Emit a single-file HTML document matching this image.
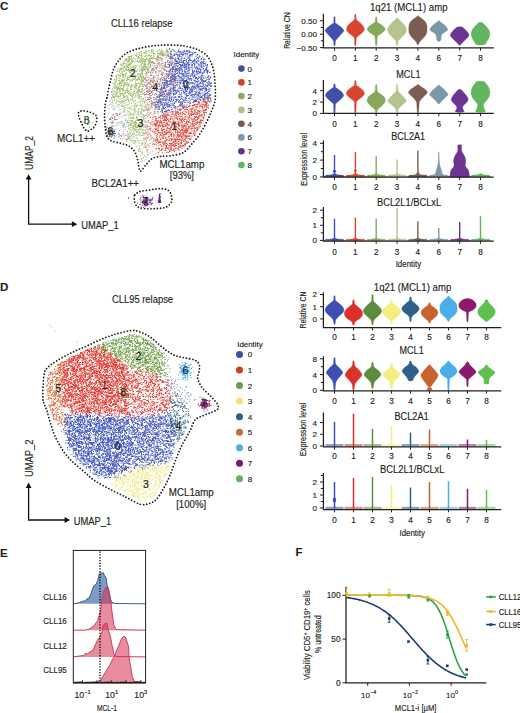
<!DOCTYPE html>
<html><head><meta charset="utf-8"><style>
html,body{margin:0;padding:0;background:#fff;width:520px;height:713px;overflow:hidden}
svg{display:block;font-family:"Liberation Sans",sans-serif}
text{stroke:#231f20;stroke-width:.15px}
</style></head><body>
<svg width="520" height="713" viewBox="0 0 520 713" fill="#231f20">
<defs><filter id="bl" x="-5%" y="-5%" width="110%" height="110%"><feGaussianBlur stdDeviation="0.6"/></filter><style>.m0{marker:url(#m0)}.m1{marker:url(#m1)}.m2{marker:url(#m2)}.m3{marker:url(#m3)}.m4{marker:url(#m4)}.m5{marker:url(#m5)}.m6{marker:url(#m6)}.m7{marker:url(#m7)}.m8{marker:url(#m8)}.m9{marker:url(#m9)}.m10{marker:url(#m10)}.m11{marker:url(#m11)}.m12{marker:url(#m12)}.m13{marker:url(#m13)}.m14{marker:url(#m14)}.m15{marker:url(#m15)}.m16{marker:url(#m16)}.m17{marker:url(#m17)}.m18{marker:url(#m18)}.m19{marker:url(#m19)}.m20{marker:url(#m20)}.m21{marker:url(#m21)}.m22{marker:url(#m22)}.m23{marker:url(#m23)}.m24{marker:url(#m24)}.m25{marker:url(#m25)}.m26{marker:url(#m26)}</style><marker id="m0" markerUnits="userSpaceOnUse" markerWidth="6" markerHeight="6" refX="3" refY="3" overflow="visible"><circle cx="3" cy="3" r="1.2" fill="#55606f"/></marker><marker id="m1" markerUnits="userSpaceOnUse" markerWidth="6" markerHeight="6" refX="3" refY="3" overflow="visible"><circle cx="3" cy="3" r="1.2" fill="#4558c0"/></marker><marker id="m2" markerUnits="userSpaceOnUse" markerWidth="6" markerHeight="6" refX="3" refY="3" overflow="visible"><circle cx="3" cy="3" r="1.2" fill="#a8b2c8"/></marker><marker id="m3" markerUnits="userSpaceOnUse" markerWidth="6" markerHeight="6" refX="3" refY="3" overflow="visible"><circle cx="3" cy="3" r="1.2" fill="#88aa50"/></marker><marker id="m4" markerUnits="userSpaceOnUse" markerWidth="6" markerHeight="6" refX="3" refY="3" overflow="visible"><circle cx="3" cy="3" r="1.2" fill="#8a5050"/></marker><marker id="m5" markerUnits="userSpaceOnUse" markerWidth="6" markerHeight="6" refX="3" refY="3" overflow="visible"><circle cx="3" cy="3" r="1.2" fill="#a8c07a"/></marker><marker id="m6" markerUnits="userSpaceOnUse" markerWidth="6" markerHeight="6" refX="3" refY="3" overflow="visible"><circle cx="3" cy="3" r="1.2" fill="#c88090"/></marker><marker id="m7" markerUnits="userSpaceOnUse" markerWidth="6" markerHeight="6" refX="3" refY="3" overflow="visible"><circle cx="3" cy="3" r="1.2" fill="#98b960"/></marker><marker id="m8" markerUnits="userSpaceOnUse" markerWidth="6" markerHeight="6" refX="3" refY="3" overflow="visible"><circle cx="3" cy="3" r="1.2" fill="#a87676"/></marker><marker id="m9" markerUnits="userSpaceOnUse" markerWidth="6" markerHeight="6" refX="3" refY="3" overflow="visible"><circle cx="3" cy="3" r="1.2" fill="#d88080"/></marker><marker id="m10" markerUnits="userSpaceOnUse" markerWidth="6" markerHeight="6" refX="3" refY="3" overflow="visible"><circle cx="3" cy="3" r="1.2" fill="#da4a3c"/></marker><marker id="m11" markerUnits="userSpaceOnUse" markerWidth="6" markerHeight="6" refX="3" refY="3" overflow="visible"><circle cx="3" cy="3" r="1.2" fill="#c0a0a0"/></marker><marker id="m12" markerUnits="userSpaceOnUse" markerWidth="6" markerHeight="6" refX="3" refY="3" overflow="visible"><circle cx="3" cy="3" r="1.2" fill="#3f8a3f"/></marker><marker id="m13" markerUnits="userSpaceOnUse" markerWidth="6" markerHeight="6" refX="3" refY="3" overflow="visible"><circle cx="3" cy="3" r="1.2" fill="#5a2878"/></marker><marker id="m14" markerUnits="userSpaceOnUse" markerWidth="6" markerHeight="6" refX="3" refY="3" overflow="visible"><circle cx="3" cy="3" r="1.2" fill="#c8b0d8"/></marker><marker id="m15" markerUnits="userSpaceOnUse" markerWidth="6" markerHeight="6" refX="3" refY="3" overflow="visible"><circle cx="3" cy="3" r="1.3" fill="#5a2878"/></marker><marker id="m16" markerUnits="userSpaceOnUse" markerWidth="6" markerHeight="6" refX="3" refY="3" overflow="visible"><circle cx="3" cy="3" r="1.2" fill="#e0342a"/></marker><marker id="m17" markerUnits="userSpaceOnUse" markerWidth="6" markerHeight="6" refX="3" refY="3" overflow="visible"><circle cx="3" cy="3" r="1.2" fill="#7f90c0"/></marker><marker id="m18" markerUnits="userSpaceOnUse" markerWidth="6" markerHeight="6" refX="3" refY="3" overflow="visible"><circle cx="3" cy="3" r="1.2" fill="#3b50b8"/></marker><marker id="m19" markerUnits="userSpaceOnUse" markerWidth="6" markerHeight="6" refX="3" refY="3" overflow="visible"><circle cx="3" cy="3" r="1.2" fill="#6c9c46"/></marker><marker id="m20" markerUnits="userSpaceOnUse" markerWidth="6" markerHeight="6" refX="3" refY="3" overflow="visible"><circle cx="3" cy="3" r="1.2" fill="#efe888"/></marker><marker id="m21" markerUnits="userSpaceOnUse" markerWidth="6" markerHeight="6" refX="3" refY="3" overflow="visible"><circle cx="3" cy="3" r="1.2" fill="#d06a3a"/></marker><marker id="m22" markerUnits="userSpaceOnUse" markerWidth="6" markerHeight="6" refX="3" refY="3" overflow="visible"><circle cx="3" cy="3" r="1.2" fill="#2f6288"/></marker><marker id="m23" markerUnits="userSpaceOnUse" markerWidth="6" markerHeight="6" refX="3" refY="3" overflow="visible"><circle cx="3" cy="3" r="1.2" fill="#5cbf50"/></marker><marker id="m24" markerUnits="userSpaceOnUse" markerWidth="6" markerHeight="6" refX="3" refY="3" overflow="visible"><circle cx="3" cy="3" r="1.2" fill="#3aa6e6"/></marker><marker id="m25" markerUnits="userSpaceOnUse" markerWidth="6" markerHeight="6" refX="3" refY="3" overflow="visible"><circle cx="3" cy="3" r="1.2" fill="#7a1464"/></marker><marker id="m26" markerUnits="userSpaceOnUse" markerWidth="6" markerHeight="6" refX="3" refY="3" overflow="visible"><circle cx="3" cy="3" r="1.2" fill="#d0907a"/></marker></defs>
<g transform="scale(.5)" stroke="none" fill="none" filter="url(#bl)">
<path class="m0" d="M213 258l4-1 3 0 6 7-4-1-1-1-4-2 1 7 0 1 2-2 2 3 1-1 4-2-12 5"/>
<path class="m1" d="M347 100l10 1 0 2 3 0 19 0 0 0 3 1 13 5 0 0-14 0-10-2-2 0-8 1-11 0-6 1-3 4 7-2 1 0 7 3 1-4 2 1 17 1 4 0 4-2 23 9-4 0-10-2-4 2-9-4-3 1-8 1-6-1-6-1-6 1-12 0 3 6 2 2 1-4 7 1 0 2 5 1 1 0 9 0 1-3 5 2 4-1 1 0 11-1 1 0 13 2 6 4-7-1-1-1-14 2-8 2-1 0-2-1-2-3-1 3-4 1-1-2-3 2-13-3-3 2-3-3-3 4 12 4 1-1 5-2 0 1 1-1 0 2 4-2 0 4 3-3 0 3 14-3 2 0 4-1 6 4 2-4 17 4-7 3-8 1-4 0-11 1-5-1-2-2-4 3-9 0-4-1-1-3-3 2-15 1-5-3 9 8 17-2 8 2 7-3 1 4 15-4 1 4 4-1 14-3 7 5-15 0-3 0-1 2-1-2-14 2-3 1-8-2-3 0-8 2-15 0-14-1-2 5 3-1 2 2 0 0 20-1 0 1 1 1 6-1 7-1 5-2 4 1 9 0 23 3 7 4-16-2 0 0-2 3-17-1-2-1-5 1-1-2-2 3-8-1-2 0-15 1-3-2-2-1-10-1 0 6 0 3 6-3 4 3 4-1 7-2 2-1 8 1 2 1 4 1 12-2 11 1 4 0 8 1 3 0 9-1 0 7-1-1-11-3-1 3-16-1-4-2-1 1-2 1-4-2-5 1-4 2-9-3-9 2-11 1-1-1-2 2-9 5 1 0 3-3 3-1 0 1 19 0 19 0 23 3 5-2 0 1 6-2 5 0 9-1-10 7-2 1-11-2-10-1-4 2-2 2-8-1-1-2-2 1-10-1-14-1-1 1-2 2-3 0-11-2-15 6 13 0 4-2 12 2 3 1 4-3 1 1 15 1 1 2 2-4 1 2 4 0 4 1 6-2 0 2 6 1 2 0 6 0 10-1 4-3 1 0 3 3 3-3-5 6-21 2-2 0-4 1-3 0-8-3-1 1-7-2-6 1-1 3-9-4-6 2-8 2-2-2-8 1-3-3-7 9 9-2 1 1 7-2 2-1 4 4 6 0 25-2 4-1 6 0 7 3 5-4 3 4 6-1 4-3 1 4 7-3 3-1 2 1-2 4-3 1-1 2 0-2-5 3-4-2-3-2-2 4-2-1-5-1-8 1-15 0 0-3-8 2-11-2-9 0-10 4-8 0-5-1-16 5 17 1 1-1 17-2 19 3 15-3 24 3-19 1-2 0-12 3 0-1-3 2-22 0-1-4-2 3-1 0-6 1-1-1-3 1-9-3-4-1-4 0 2 7 2 2 6 0 1 0 7-3 0 3 8-2 4 1 9-1 2 0 0 2 2-1 11-2-12 6-22 1 0-2-2 0-3 2-4 1-1-2-1 2 11 8-2 6-1-1"/>
<path class="m2" d="M229 200l-3 6-3 8 5 3 19 7-6 4-25 4 15 1 19-2-27 7-1 0-2-2 22 7 16 2-9 2-7 0-2-1-13 7 3-2 6-1 14 4-27 4 25 5-10 3-15 1 3 5 7-1 5 2 15 7"/>
<path class="m3" d="M268 235l5 1-8 7-3 4 0 0 4-1 4-1 5 9"/>
<path class="m4" d="M232 227l7 2-4 2-1 8 0 7"/>
<path class="m5" d="M230 189l53 4-5 0-26 5 3 0 6 0 34 1-6 4-1-3-4 2-17 2-2-2-1-2-6 1 0 0-8 1 9 4 11 2 11-1 16 7-12-4-12 3-17 3 4 0 4 3 6-1 21-2-4 6-5 2-8-1-16 0-9 1 7 4 10 1 2-3 0 2 28-3 0 1-7 7-1-3-4 3-38 1 29 2 13 1 0 0 6 7-4-3-25 0-12 4 40 6-6-1-2 3-4 1-3-3-2 0-6 0-4 1-3-2-4 1-1-1-1 4-11-3 21 4 2 2 10-2 19 2-12 5-10-2-5 0-7 9 4-1 10-2 2 0 8 5-3 0-11 3-2-3 0 5 0 7-6-3-12 2"/>
<path class="m0" d="M224 258l5 4-5 1-2 1-1 0-6-2 1 4 5 1 6 1 1-1 1 4-9 2 0-2-1 0"/>
<path class="m4" d="M221 236l4 1 1 5-2 3 0 0"/>
<path class="m3" d="M277 229l-2 5-17 11 9 0 2 3 1 2 4 5 5 3"/>
<path class="m6" d="M260 268l8 0-12 5-6-2 14 6"/>
<path class="m7" d="M319 99l15-1-1 6 0 0-8-2-19 1-7-2-1 0-2 2-13 0-10 3 6 0 4 1 9-1 0 2 16-1 19 1 4-1 3 2 2-3 4 0-13 5-1 0-23 3 0-3-5 0-15 0-9 0-11 2-3 0-1 6 4-3 2 2 14-3 2 3 3-3 23 0 12 1 14-1-26 9-7-4-3 0-8 3-6-1 0-1-3 2 0-3-33 6 5 1 5 1 1 0 3-2 0 3 1-2 3-2 24 2 0 2 1-4 7 4 11 3-3-2-14 2-2 0-13-1-19 3-6-2-2 2 0 0-7-4-2 9 2 0 1-3 3 1 11 2 4-3 20 2 4-2 2-1 2 4 6 3-11 2-17-2-1 1 0-2-1-1-22 3-4 1 6 2 5 3 2-2 24 0 8 0 3 5-6-1 0-1-13 3-1-2-3 1 0 0-3-1 0 0-11 1-3 1 0-3-9 0-7 3 2 2 5 2 2 0 5 1 4 1 11-4 16 1 2-1 0 3 6-2 2 3 1 4-3-1-20-1-19 0-6 0-1 0-5-1-6 6 2 2 19 1 1-3 1-1 29 3 1-2 3-1 1 4-5 5-5-3-3 1-2 2-8-1-5-2-14-1-8 1-4-1 5 9 1-4 2 1 1 1 0 0 23-1 0 2 10-1 2 0 4 2 6-2-1 7-5-3-2 3-6-2-1 1-11-1-3 2-16-3-9 3-2-1 0-3-3 3 2 3 14 1 1-1 7 2 3-3 5 2 3 0 14 1-7 2-3 3-1-2-15 2-6-1-4 1-1 1-1 0-1-2-9 2 0-1 21 2 9 3-3 2-2 1-4 1-22 0"/>
<path class="m8" d="M315 113l1-1 20 1 5 3 0-1-23 0-4 3-2 1-3-2-7-1 2 7 12-2 8 1 12-1 16-1 0 3-22 2-15 1-13 6 7-1 11 1 6-1 3 2 3 1 2-1 11 0 3-3 11 5-18 4-15-1 0-2-4-1-14 3-7 6 3-2 4-2 10 2 2 0 2 0 10-1 1 2 12-3 10 5-6 2-9-1-22 0-14 0-11 0 23 8 25-1 4-2 9 7-11-3-2 4 0-3-8 2-3 1-4-4-5 3-17 0-2-1-12 2 0-4-3 1 14 7 6 0 44 1-34 2-9 1-11-1-2 3-4 3 8 0 5 0 4 2 6-1 10-1 23 2 1-2-4 4-44 0-5 1-1-2-8 7 12 0 1 1 4 1 19-4 2 2 3 2 1 0 5-1 4-1 9 4-13 2-23 0-24-1 0-1 17 5 15 0 3 0 30 2-17 6-10-2-4 2-3 0-10 0-4 2 10 1 0 1 8-2 3 8-18-4-12 0 24 5 3 1-10 4"/>
<path class="m5" d="M260 190l6 4 3 0 9-1 4 4-4 0-12 2-20 3 33 2 1-4 2 3 8-2-37 8-10 4 5-2 2 0 6 3 16-4 10 1 0 2 14 6-19 0-5 0-4-4-10 1-7-1-2 5 0 3 22 0 20-2-4 8-3 0-7-4-11 3-4 1 0-1 11 5 14-1 4-1 1 3-4 3-1-2-5 0-3 4-24 3 9 1 0 1 18-4 0 2-2 7-2-2-23-2-1 3-1 5 14 0 3 0 6-2 1-1 6 1 4 1 10 1-16 6-8 0-1-4-10 3-5-1 2 5 8 0 15-2 6 0 3 4-12 1-10 1-4 1-4 0-3-1 3 6 22-1 7 4-35 5 38 2"/>
<path class="m8" d="M324 106l18 1 0 5-17-2-20 13 1 1 12-4 4 0 29 1 5 3-2 1-4 2-19 0-5-1-2 1-6-1-1 1-11 0 16 3 9 2 15 2 6-2-23 4-1 3-15-2 0-2-1 3 0-2-6 2-18 0 0 0-3 5 19-3 9 4 11 0 7-4 4 2 3 0-8 5-24-2-5 0-6 9 18-4 17 0 16 1 2 2 5 0-2 3-3 1-20-2-6 2-5 0-4 1-5-2-8 0-4-1 17 7 2 2 15-4 25 5-36 4-18 0-1-2-5 1 7 6 3-2 3 2 6-4 0 1 0 1 9-1 25 0-7 7-20 1-21-3-15 4 24 1 5 3 10 0 3 0 9-4 5 2 0 0-2 3-1 1-2 1-2-1-12 0-1 3-1-4-18 0-1 2-2 2-4-4-2 3-4 2 11 1 7 3 11-4 12 2 10 3-6 2-20-2-1 3-1 0-13-3-2 4-2 0-9 4 24 1 19 2-16 3-7-1-2 1-13 3 22 0 3 6"/>
<path class="m6" d="M255 263l1 5-13 3 16 6-30 0"/>
<path class="m4" d="M227 229l6-1-3 11 0 0-11 0"/>
<path class="m7" d="M333 98l15 1-7 3-6 1-31-1-11 1 0-1-3 4 13 0 17 2 0 0 6-2 0 0 2 2 7 2-13 1-25 0-4-1-1 1-3 2-9-3-1 1-3 2-3 0 0-1-16 1-4 4 5-1 1-1 1 4 11 0 5-2 7 0 2 1 4 1 4-3 1 2 29-1-23 4-2 2 0-2-7-1-5 3-2 0 0-3-11 3-8-1-11 0-13 6 8-1 5 2 1-3 4 3 24 0 2-3 5 3 0 0 6-2 13-1-9 4-2 2-26 0-1-1-2 1-3-2-3 4-8-1-1-2-9 1-10 7 25-3 8 1 8 1 8-2 4-1 1 4 4-2 1-1-4 8-2-4-22 0-7 4 0-1-4-2-6 2-6 6 2-3 1 2 7-2 6-1 20 2 3 1 2 0 1 1 8-3-13 8-12-3-8-1-1 4-3-2-5 2-4 0-2-4-4 2-1-1-4 1-3-2 0 7 16 1 5 0 2-3 0 2 12 0 9-2 10 7-2-1-20 0-3 3-2-1-12 1-5-2-11 1-2-2 9 4 0 2 9-1 0 3 1 0 8 0 1 0 12-3 2 2 14 2-1 0-5 2-8-1-6-1-17 3-2 1-4-2-10 2-1 0 2 1 0 2 0 1 1-1 18 1 8-3 8 4 2-3 7 2 5 1-2 4-2-1-2 2 0-3-13 3-9 0-1-3-2 1-4-2-13 1-1 5 3-1 9 2 5 0 15-2 2 1 2 1 7-2 6 8-4-1-26 0-3 1-9-2-4 1-2 0-4 0 0-1-1 2-3 0-2-2 4 4 13 3 6-3 1 4 6-4 2 3-12 3-7 2-9-2-1 10"/>
<path class="m0" d="M212 258l2-3 7 1 4 5-6 3-2 2 3 1 0 2 8-3 0 0-3 5-5 1-6-2 2 5"/>
<path class="m1" d="M339 97l34 6-5-1-8 1-10 0-2-1 4 7 2-3 13 2 8 0 3-3 2 4 4 0 21 5-5-1-40 0-14-1-3 2-1 1 4 2 9 0 2-1 12 0 4 3 6-1 10 0 8-1 11 1 4 6-6-1-9-1-4 2-1-1-4 1-3 0-4-3-10 0-4 2-1-2-5-1-25 9 3 0 5-2 6 0 9 2 7-4 4 4 6-2 7 1 5-1 16 2 2-4 9 6-1 0-10 1-4 1-2-2-19 3-8-2-3 1-4-2-2 2-10-3-4 4-1-1-3 3 1-1 0 4 2-3 9 2 12-3 4 4 2-2 3-2 3 1 4-1 2 1 4-1 5 1 3 1 6-2 3 2 4 2 5 3-2-2-5 1 0 0-8 1-4-2-12 3-6-3-1 1-19 0-6 1-4-2-8 1 0-1-2 0 10 9 2 0 15-2 1 2 2-1 1-3 5 2 1 0 2-1 7-1 10 3 10-1 13 4-1 2 0 0-9-1-19 1 0-3-3 0-5 3-12 1-2 0 0-2-8 2-2-2-7 2-4-2-2-1-1 3-1-1-5 4 7-1 0 0 0 3 2-4 0 4 1 0 1 0 2-3 0 3 16-1 12-1 4 0 0 2 9-4 0 0 2 0 2 4 10 0 9 0 4 0 3-4-2 9-2-1-10-2-3 0-39-1-3 3-2-3-9 1-8 1 0-1-4 1-5 0-4-1 0 0-6 7 5-2 5 0 8 1 12-2 7 0 0 2 9-1 3-1 4 1 2 3 1-3 2-1 2 1 27 3 5-3 3 0 2 1 1-1 1 1-4 4-11 3-3-1-8 0-3 0-2 1-3 0-1-4-2 3 0-2-2 2-13-1-2 1-3 0-6 1-1-1-13-2-8 2-4-1-5 0-9 7 2-2 20-1 8 0 19-1 2 2 5 0 10 1 2-3 1 3 18-2 0 1 1-1 5 1 5-1 2 1-15 4-4 0-2 3-5 0-9-3-2 2-3-2-8 2-1 0-4 1-1-2-4-1-4 1-1 0-2 2-6-4-7 2-3-1-7-1-2 3-6 6 5 0 9-3 2-1 1 2 7-1 5 1 15-1 13 0 3 2 9-3 13 1 4 2 5-3 4 4-3 4-7-2-6 3 0-1-6-2-14-1-2 0-6 1 0 0-2-1-15 4-7 0-12-4-5 3-11-2-3-1-2 3 22 4 3 0 15-2 10 0 10 2 13 2 5 0 6-3-1 5-9 1 0 0 0-2-1 1-11-1-6 2-6 2 0-3-4 3 0 0-7 0-18-3-6 1-2-1-1-1-13 4 0-2-7 2 0 2 3 3 7-4 14 2 11 1 16-2 20 0 15 3-38 4-2-1-16 2-1-4-3 0-1 4-17-1-7-2 16 6 4-2 12 0 15 4 8-3-15 4-12 1-1-1-2 4-1-3-10 2-9 3"/>
<path class="m7" d="M291 102l13-1 24 7-3 1-4-2-1 1-1 0-9 0-1-2-9-1-2 3-10-3-29 8 3 0 2-2 18-1 1 2 1-2 0 2 16-1 8 2 8-2 1 3-5 3-6 0-6 1-1-1-7 2-4 0-1-3-8 0-2-1-3 2-5 0-2-2-9 3-1 0-9 5 11-1 7-2 1 2 2 2 3-1 3-3 1 3 3 0 3-2 5 2 1-2 4 2 8-2 1 2 1 1 0 2-5-1-7 4-27-3-3 0-1 3-11-3 0 8 1 0 8-3 0 3 3-4 6 4 1-1 12 1 3-1 6 0 1 0 4 0 8-2-5 7-2-1-4 2-22-1-1 0-11-3-3 4-5-3-1 2-4 0 0 0-2-1-2 2-2-3-2 6 1 1 2 0 5 1 4-2 2 1 3-2 2-1 3 0 16 2 1 1 1-3 7 0 3 1 10 5-1-1-31 3 0 0-15 0-7-1-5 1-3 3 5 0 2 1 5-1 7 3 3 0 13 0 3-2 13 1 8 0-5 2-3 1-5 0-1 3-8-3-2 3-9-1-14-3-13 4 5 2 7 2 2 0 3-3 31 2 3-2 1 2 5 3-2 3-4 0-1 0-6-2-21 0-1-1-1 4-12-2 0-2-2 3-13-1 2 4 15 0 4 3 2-2 6 2 15-2 2 2 6 0 1-1 10 6-11 0-15 0-16 0-3 0-1-2-3-1-1 2-2-2-1 0-1 0-5 1 10 3 5 2 11 0 4 2 14-4 1 3 9 6-3-1-13 0-1 1-18-2-4 2 0-3-5 3-6-2-1 2-2 2 0 0 17-1 8 4 10-4-16 5-9 8 29 4-26-2"/>
<path class="m3" d="M264 236l12 3-4 8-1 2-3-3-1 11 3 2 12-1"/>
<path class="m2" d="M220 202l4 7-4 0-2 2 27 2-19 4 9 10 8-2 5 6-6 2-5 1-13 10 28-4-4 9-2-4-23 1-1 4 25 0 4 9-1-4-28 4 2 2 23-1 15 4-15 4-11 0 15 3 2-1-2 8"/>
<path class="m8" d="M324 109l17 0 1 2-6 1-6-1-4 1-10 3 26 4 3-3 0 1 14 2-7 3-66 4 13-1 11 2 8 1 1-3 12 0 1 0 9 2 3-1 4 0 8 0 0 5-26-1-42 2 8 6 0 1 8-1 14-2 6 1 14-2 14 2-2 6-4 0-1 0-3 1-3 0-6-1-4-2-18 3 0 0 0 0-13-1-2-2-5 7 6-3 25 4 5-3 7 2 17-3-15 7-11-1-8-1-16 1-15 1 5 5 16 2 11 0 3-1 21 1 9 0-3 3-1 1-3-1-6 0-3 1 0-2-15 3-5-2-12 0-3 0-8 0 0-2 0 5 25 3 27-3 6 0-7 5-8 1-4-1-28 3 0-3-10 3-6 0 10 6 13-1 3-3 1 0 8 2 5-2-2 5-7 3-13-1-4 2-8-1-4 5 10-1 22 0 22 1-2 2-13 4-3-1-16-3-13 5 15 3 32-2-9 5-6-1-9 2 0-2-1 1-18 3 24 5-8 4-15 4 15 6"/>
<path class="m8" d="M325 109l30 3-6-2-17 0-17 9 6-4 1 2 2 2 38 5-11-4-16 4-34 5 2-4 6 1 15 1 6 2 1-4 0 3 7-3 6 1-4 4-25 0-2 0-3 4-9 0 5 3 2-1 25-1 16 0 1 4 6 0-36 2-4 0-14 7 21-2 1 2 26 0 2 6-1-2-2 0-11-1-2 0-7 3-22-3-4 0-10-1 14 5 16 1 6 1 4 0 17 5-24-1-18 3-7-4-5 1-2-1-1 1-9 4 15 1 1-1 20 2 11 2 12-1 4-2-1 4-17 0-1 0-1 1-7 0-1 2-3-1-9-2-4 4 0-1-10-3-2 0-13 5 14 2 2 0 11 0 11 2 4-3 26-1 1 6-21 3-7 0-18-4-5 1-2 1-1 1-11 0 9 6 5 0 15-2 9-2 5 0 1 3 3-1 7 2-5 2-31 1-3 6 6-2 10 2 6-3 1 3 8-1 4-2-9 14-1-1-3-2-2-1-11 2-8 2 5 1 6 8 0 8"/>
<path class="m9" d="M297 241l7 1-8 3-6 5 4 2 1 1 4 0 7 6-14 0-3 8 13 4-6 3-5 3 17 0-9 4 22 4-15 7 12 10-8 6"/>
<path class="m1" d="M358 98l32 6-4 0-6 0-9 0-9-2-4 2-1-1-3 1-11-1 0 0 12 6 5-4 3 4 1-3 0 2 14-2 7 2 4-3-25 8-16-2 9 7 5 0 6-1 11 2 14-1 2-3 3 0 4 4 1-2 5 1 2 1-2 3-4 2-6-2-13 0-30 2-2-1-1-3-3 2-14 0 2 6 15 0 3-1 7-2 4 0 0 2 4-1 10-1 4 0 5 3 1-2 11 2 5-2 9 3-1 5-2-3-4 2-1-3-3 4-20-2-12 2 0-4-4 0-3 1-1-1-1 4-13 0 0-2-4-2-8 0 0 5 7 3 6-2 1 3 4-3 5 0 1 0 10 1 4 0 6-2 9 1 3-1 1 2 6 1 0 1 1 0 4-1 5 0 1 0 3 5-15-1-4 1-2-1-6 1 0 0-3-3-9 2-12 2-7-2-2-1-4 2-1-3-12 7 4 2 11-2 2 0 4 1 6-1 0 2 1-1 0 1 12-2 5 1 2 1 3-2 7-1 1 0 3-1 7 1 0 1 9-2 0 2 7 6-6-1-13-1-2 3-16-2-3-1-6 0-8 0-12 0-6 2-1-3-2 4-1-2 0-2-8 0 7 9 21 0 2-2 4-1 5 0 10-1 4 2 3 0 16-1 5-1-11 6-2 1-12 0-1-1 0 0-1-1-5 0-4 0-3 4-3-4-1 4 0-1-9-1-1-2-7 4-3-3-3-1-1 0-5 3-2-1-6 2-3-4-4 4 2 3 2 0 2-1 39 2 18-3 5 4 3-1 2-3 3 1 0 1 2 1 1 0 8-2-1 7-2 1-8 0-5 0-3 0-6-1-5 0-9 1-4-2-1 1 0 0-13-3-7 1-4 3-12 0-1-4-5 4-6 4 3-3 3 2 18 0 2-1 9 0 0 1 3-1 3 1 5-1 2 3 3-2 1 2 1-3 6 3 1-4 0 3 1 1 3-3 1 2 13 1 1-1 15 1-5 2-12 3-3-4-9 3-4 1-5 0-8-1-7-3-24 1-9 0-7 5 10 0 6 0 10 0 8 2 2 1 1 0 19-4 0 1 10 2 1 1 6-4 2 1 12 2 3-2 1 2 7 1-10 1-11 2-5-2-7 1-26 1-3 0-2 2 0-1-1 0-10-3-23 1-3 0-2 2-6 1-3 5 5-4 24 2 9-1 6 2 8-3 6 3 3 0 1-3 12 3 0 1 17-4 3 0 5 0 4 0 3 8-25-2-2 2-19-3-4 3-7 1-7 0-1-1-4-2-6 2 0 0-4 1 0-4-6 0 0 0-5 1-3 3-2-1-3-3-15 7 11 2 1-4 12 0 2 2 2-2 1 3 29-2 3 0 1 1 9 1 7-2-12 4-10 0-13 1-5 0-3 3-1-2-2-2-17 4-7 1 13 3 22-2 15 4-29 4-3-1-5-2-2 2"/>
<path class="m10" d="M417 187l-3 10-4 0-1 6 5 1 5 0 3-3 0 2-9 4-2 2-16-1-56 5 34 1 17-4 15 2 12 5-11 1-14 1-9 0-9-4-4 0-3 2 0-2-4 3-9 5 22 1 2-3 3 3 2-2 1 1 12-2 11 1 3 2 1-3 2 5-14 1-5 0-2-2-5 4-6-1-3-2-7 3-5-3-1 2-9 1-4-4-7 4-14-3-20 7 10 0 8-1 1 1 13-1 5 0 4 2 10-1 3 1 7-1 10-2 7 2 1 0 3 0 5-1 5-2 2 0 3 5-6 4-6-3-1 3-2-4-4 3-1 0 0 0-3 0-5-2-12 2-9 0-17-2-7 3-1 0-4-2-1 0-9-2-9 1 2 5 7 3 7-4 13 4 8-4 0 3 17 1 2-3 8 1 4-2 0 4 9-1 16-2 1 0-4 7-2 0-2-3-3 0-8 1-11 3-17 0 0-1 0-3-1 0-3 3 0-1-6 2-12-1-2-1 0 0-2 1-2 1-2-1-3 1-2-3-8-1-1 3 0-3-5 4 12 3 4 0 1-1 2 2 29-2 1 2 1-2 7 1 10 1 11-3 10 6-2 3-1-1 0-3-11 1-7 2 0-1-3 1-6-2-9 2 0-1-10 2-3 0 0 0-3-2-7-1 0-1-18 1-2 0-5 1-5 6 3 1 3-4 3 0 2 2 1-1 6-1 1 0 1 2 8 2 18-2 0 0 4-1 6 3 5-3 2 3 1-3 0 3 3-1 3 1 7 0 2-2 4 1 6-1-13 3-2 1-23 3-1-2 0-2-4 1-3 3-2-1-9-3-5 3-8-3-5 0-2 0 9 5 1 4 14-4 7 0 0 1 8 0 1 3 3-2 4 0 0 0 3 2 4-1 2-1 3-1 1 1 2 0 0 1 10-3 0 0-20 9-2-1-7 1-4-1-1 1-3 0-4-3-3 2-13-3-1 0-23 3 8 3 1 1 2 1 5 0 4-1 3 0 28 2 1-4 10 0 6 5-4 2-9 0-6 1-4-2-12 1-2 0-7 0-2-1 0 0-2 2-8-3-4 2 10 5 12-1 5-1 8 0 1 1 0 0 6 3 3 0 4-3 3 3-16 2-11 3-9-4-9 4 7 2 1-1 9 3 4-3 5 0 7 0"/>
<path class="m10" d="M401 187l0 3 6 9 14-3-11 7-3 0-27 0 15 6 4-4 8 4 4-4 0 3 0 1 3-3 3 4-2 4-2-1-1-2-9 2-3-1 0-1-15 0-5 0-13 1-8 7 1-2 10-2 4 4 1-4 9 2 8-1 21 3-1 1-3 1-2 1-8 1-2-1-12 2-2-1-1-2-25 3-12 2 2 2 4 0 1-2 5 3 3-1 1 1 11-4 5 3 11-2 2 0 20-1-8 7-3-1-35 1-8 1-3 1-11-2-9-2-3 0-8 1-16 4 0 4 8-4 19 2 8 0 1 0 3 1 7-2 0 0 7 2 4 0 2-1 11-2 11 3 8-2 1 3 10 3-3-2-1 1-12 1-2 0-4-2-18 0-3 1-9 2-3 1-14-4-7 2-1-1-3 0-2 3-2-1-2 1-8-2-4 0-2 2 3 2 1 1 1 1 1-1 0 2 7-1 16 1 3 0 9 0 9-1 1-1 14-1 2 1 1 0 3-2 16 4 1-2 5-2 1 1 1 7-1-1-14 1-2 1-4-1-3 0-4-3-2 1-1 0-6 3 0-1 0-2-13 2-4-3-3 3-3 1-3-4-5 1-5 2-17-1 0-1-9 5 10 0 11 1 3-2 1 4 2 0 12-4 0 4 24 0 15-1 2-1 3 0 1-1 5 8-2-2-1-1-15 3 0-3-1 1-2-2-2 3-3 1 0 0-7 0-7 0-3-2-6 0-1 0-2 2 0-4-8 2-5-2-1 2-13 4 4 1 5 2 8 0 12-4 20 4 1-2 0 1 3 0 5-3 13 2 6 4-19 0-7 2-4-1-1-1-6 2 0-3-25 2-3 0-5 2-3-2 5 6 3 0 3-1 7 2 12-1 3 1 2 0 3 0 8 0 1-4 13 2-2 6-10-2-1 3-5-4-5 2-3 2-7-3-3 1-2-1-2 1-24-1-1 1 9 7 1 0 0 0 5-4 0 2 4 1 5 1 7-2 1 0 1 1 1-2 4 0 1 2 2-2 9 0 11 0 2-1 0 0-7 6-2 2-2 1-1-4-1 2-17-2-11 4 0-3-2 1-12 5 5-1 7 1 0 0 4 0 3-1 3 2 0 0 7 0 6-1 3-2-8 8-9-1-6 2-3-4 6 5"/>
<path class="m5" d="M290 279l12-2-24 7-11 2 3-1 14 6 3 4 7 8-13 0-3-3-1 3 6 2 12 4 1 0-9 6-4 2"/>
<path class="m5" d="M275 184l11 14-4 0-3-3-24 4 5 5 29 2-13-1-24 1-14 4 27 1 4 0 4 0 8-1 16 4 0 5-19-2-8 0-1 0-10-1-10-1 1 7 17-2 2 1 1 3 13 0 1-4 16 4-7 4-21 1-6 0-7-4 3 9 4 0 1-3 17 3 5-2 4-2-18 9-11-2-2 0-5 0-2 7 20-3 9 0 1 1 13 3-4 0-3 0-4 3-3-3-1 1-2 0-1-1-18 1-13 1 7 5 15 0 2 0 21 4-11 0-6 3-17-1-1 6 3-3 4 3 2-2 5 1 21 0-10 4-7 2-18 3 1 2 2-1 6 0 6-2 5-1 0 1 3 0 11 7-18-1"/>
<path class="m5" d="M267 275l3 7-4-1 12 4 10 1 2 7-2 1-9 0-7-2 13 12 10-3 0 4-14 6 8 0 2 3 1 5"/>
<path class="m9" d="M290 244l11 10-6-4-1 6 6 1-5 3-3 5 3 1 1 3 2 0 1-3 2 6-4 2 5 5 18 5-14-1 11 8 2 8 3 2"/>
<path class="m5" d="M261 281l2 1 8 1 20 1-7 2-1 4 11 9-1 0-15 0 0 3 3 0 14-2-10 6 1 11"/>
<path class="m10" d="M415 196l0 2 2 0 5-2 0 6-25 1-17 4 13 2 3-2 2-2 2 3 5 0 5-3 2 3 1-3-4 8 0-2 0-1-17 3-7-1-5 1-14 1-2-1 1 2 4 4 3-3 3 3 5 0 2-2 7 1 3 1 2-4 11 1-1 6-4-1-1 2-2-1 0-1-2 3-1 0-6-3-15 3-5-2-3 2-3-4-6 4-34 0 10 5 3-1 19-2 10-1 1 0 12 1 0 2 3 0 9-2 2 3 4 0 2-3 3-1 3 4 5 5-5-2-3-2-2 3-7 1-8-4-5 4-8-1-14 1-3-4-1 1-4 2-6 0-6-2-1-1-2 4-5 0 0-4-2 2 0-2-25 5 12 2 4-1 5 1 7-1 12 3 4-3 3 2 11-2 18 2 29 2-4 4-1-1 0-1-6 2 0-2-9 0-12-2-1 4 0 0-11-1 0-2-3-1-8 4 0 0-14-1-14 0-6-2-4 3-12 2 12 3 1-3 4 2 16-3 13 3 10-3 0 4 1-4 0 1 7 2 15-3 4 3 1-1 1 1 5-3 4 1 3 4-4 4-5-3-2-1-7 2-9-1-3-1-1 3-1-3-4 1-9 2-9-2-2 3-4-2-6-1-12 0-1-1-1 4-2-1-4-3-1 1 0-1-1 0-5 0 6 9 29-1 7-2 0 1 2-2 2 4 1-2 16 1 3-2 2 2 9 1 7-2 7 0-2 4-23 3-6-4-1 1-4 1-4 2-4-2-16-1-2 3-10 0-1-3-6-1-2 2 0-2-1 3-8-1 14 3 5 2 2 1 1-3 15 3 0 1 13-1 4 0 18-1 0 0 2 0 6 1 2-1 3 1-1 2-6 2-4 0-4 1-5 1-12-2 0-2-16 3-5-3-1 4-17-3-7 3-1 5 2 0 1-1 21-2 19 3 3 0 13-2 3-1 4 1 1 2 1 0-3 5-5-1-1-3-4 3-2-3-2 0-12 2 0-1-1 1-3 1-1-1-14 2-2-3-16 2-4-2-1 8 3-1 1-3 8 0 1 0 25 4 23 0-9 2-5 2-5-2 0-1-2 3 0-3-6 4-1-1-3 1-1-2-4 2-6-4 0 0-11 7 16-1 14 2 11 2-6 0-5 1-8 2-15-3-10 6 19-1"/>
<path class="m4" d="M229 237l-3 8"/>
<path class="m11" d="M293 201l13 3 5 5-8 0-1-2-14 5 7-2 1 1 6 5-1 0-3-1-5 4-6 2 9 3 22 8"/>
<path class="m10" d="M421 196l-4 4-9 1-10 3-4-1-1 6 10-1 3-3 5 1 2 3-1 2-3 3-4 0 0-1-10-1-1 1-2 0-3-3-1 1-2 3-9-1 0 0-3-2-5 2-13 1-11 4 22-1 4 2 14-1 1 0 12-2 7-1 6 4 5-4-26 7 0 0-1 0-5 2-13-1-17 0-3 1-4 0-1-1-1 1-19 1 0 4 12-1 5 0 8 0 0 0 5-3 5 1 6 1 2 0 14 0 1-1 0 3 4-1 5 0 2 0 12-3 0 3 1-3-2 9-3-2-10 1-14-2 0 0-5 1-15 0-10-2-15 4-2 0 0-1-24-1 12 3 5 2 5 2 0 0 19-3 5 0 1 3 6 0 3 0 0 0 5 0 3 0 10-2 8-2 6 2 2-2 0 1 8 0 1-1-5 6-9-1-1 0-5 2-13 1-17-1-11 1-5 0-2-3-2 2-4-1-12 0 0-1-2 4-1 0-3-2 0 0-4-1-10 7 6 0 22-3 5 1 6-1 4 1 1 2 1-3 10 3 5-2 3-1 6 3 6 1 6-2 2 2 4-1 1-1 5-2 4 0 1 9-13-1-1-3-3 0-12 3-1 0-6-3-5 2-5 2-2 0-5-4-3 0-7 0-5 0-5 4 0-3-1 1-1-1-3 2-7-3-1 2-2 7 1-1 1 0 16 0 5-1 5 0 4-2 3 4 10-4 7 4 3-4 0 1 9 2 16-1 3-1-18 4-3 4 0-4-1 1-1 3 0-3-5-1-12 4-21-3-4 2-19 0-2 2 3 2 4 2 6 0 7-4 2 4 2 0 1-2 3-2 8 1 0 3 11-1 1 1 3-4 7 0 1 2 6-1 8 0 0 1 7 0-9 5-6 1-3-1-3-1-6-1-4 4-1-2-13-1-17-1-13 6 2 1 0 1 10-3 1 2 5 0 3 2 6-2 12 1 1-3 6 3 3 0 3-2 6 0 7 1-15 4-6 2-6 0-1-1-8-2-9 0-3 3-9-3-6 0 13 8 11-1 1 1 2-1 0 0 2 1 3-3 9 3 1 0 2 0 4-3 7 2 5-1 1-1-6 5-2 2-9 0-1 2-11-3-7 0-8 0-9 0 3 5 0 3 7-3 4 2 13-1 1-1 6 2-34 2-6 5"/>
<path class="m7" d="M339 99l3 1-9 2 0-1-9-1-1 4 0-1 0-3-2 4-2 0-4 0-8-2-14 2-21 4 4 0 2-3 10 3 19-1 8 1 7-2 0 2 3-2 16 8-27 0-13-1-3-3-3 2-18 2 0-1-21 1-6 5 1 0 2-1 2 1 3 0 6 0 29-1 8 0 13-1 6-2-20 8-2-2-2-1-5 3-16-1-12 0-5 2-1-2-1 1-2 0-2-3-1 0-5 6 2 2 33-3 2 3 0 0 16-2 1 1 6-2-10 5-1 4-4 0-4-4-27 2-4 2-3-2-9-2 8 7 1-2 5 3 1-1 0 1 4 1 8-2 14-2 1 3 3-1 2 2 2-3 0 8-10-3-16 3-11-4-8 1 4 6 0 0 9-2 4 3 5 0 7 1 6-1 2-3-4 5-8 2-3-1-1 3-9-1-9-2 0 0-10 1-8 1-4 6 26-2 1 2 8 0 2-1 5 0 2 1 3-2 4 2 3-3 1 3 11-4-13 5-9 1-25-1-1 1-2 3-1-4-1 0-3 3 0-3-4 9 4-4 3 2 4 1 4 0 4 0 1-1 7 2 1 0 7-1 6-2 12 3-19 2-12 0-1 1-16 2-2-2-3 0-5 1-5 3 2-1 6 3 3 0 7-1 1 0 2-1 7 1 31 0-11 7-7-2-6-2-4 3-2-3-1 0-2 1-4 1-2 0-6 1-4 1-3 0-1-1-9 0 0 2 0 0 1 4 3 0 8-2 5 1 11-3 22 0 3 5-5 2 0-1-6 3-1-2-3-2-27 3-5 1-6 3 5-2 10 3 2-2 6 0 18 1 12-2-19 7-13 1-10-2-3 5"/>
<path class="m9" d="M313 237l-16 4-6 9 10 8 0 0-9 11 6-4 5 9-10 0-5 5 7-2 17 12-4-1-3 1-5-2-11 3 4 4 27 7-15 1"/>
<path class="m1" d="M341 104l24 0 4-2 6 0 4 0 12 3-1 3-4-1-2-2-12 4-5 0 0-4-8 4 0-1-10 1-4 5 10-4 4 3 0 0 6-2 7 1 7-1 3-1 12 1-16 6-3-1-11 0-8 1-5 2-5-3-3 0 16 8 1 0 4-1 2 1 7-2 4-1 2-1 2 0 6 3 6 1 3-4 12 4-1 3-3 0-2-1-4 2-3-2-2 0-3 3-5 0-13-1-12 1-1 0-7-2-2 0-11 3 0 3 25-1 5-2 4 0 3 0 3 0 14 3 7 1 2-4 1 1-7 7-5-1-21 2-12-2-2 0-12 0-6 5 1 1 5 0 1-3 1 4 8-3 5 1 10 0 0 1 7-2 16 2 0 1 1-2 8-2 7 2 4 0 1 2 1-2 1-1 6 3-13 1-4 3-12 0-5-3-14 3-14-3-1 3-8-2-6 3-4-1-3 1-4 0 16 1 17 1 4 1 7 2 11-3 0 2 3 1 6 0 23 2-14-1-3 0-1 4 0-2-3-2-2 2-33 1-3-3-7 2-2-1-2-1-8 0-13 2-3 2 9 3 2 1 4-1 5 1 3-2 13 0 8 2 1-1 19-2 0 2 4 2 1-1 2-1 7 0 2 1 3-1 0 2 2-3 1 1 1-2 10 6-22 0 0-1-1 1-5 3 0-1-7-1 0-1-3 1-18-2-2 1-7-1-13 3-5 1-11-4-2 3-2-2 0-1 8 9 15-2 0 0 21-1 4 0 4 2 8 1 5-4 0 4 3-4 0 3 2 1 1-3 0 0 8 2 7 1 5-2 5 1 1-2 1 1-9 7-2-2-8 2-4-2 0 0-6 1-2-1-1-1-11 2-4-3 0 0-1 0-27 4-1-1-3 0-4 1-9-3-8-1 1 5 0 2 4 1 3 0 7-2 5 3 6-4 2 1 2 1 2-2 1 0 0 2 7-2 19 1 0 3 12-2 16 2 2-4 1 2 5 0 1 0-7 5-3 1-10-1 0-1-5 3-2-1-1 0-4 1-14-1-1 0-2 0-7-2-15 3 0-2-1 2-8-4-1 3-13 1-3 4 7 0 5-3 0 3 5 1 18-1 15-3 3 2 2-1 8 1 13 1 11-2 1-1 0 3 8 1 3 4-7-2-6 3-1 0-1 0-5-4-3 2-21 0-4 0-8 1-12 1-2 0-2-4-10 4-4-3-3 0-5 2-3 1-2 0-2-2-6 6 10-1 2-2 16 3 1-3 10 1 3-1 3 1 2 3 1-1 9-3 16 4 2-3 1 0 3 0 23 0-29 4-16 0-9 4-16-3-10 3-3-1-3 1-14-1 0-3 0 0 11 9 2-2 4 0 10-2 5 0 16 0 2 0 1 4 3-1 46-2-54 8-19 0-14-2-3-1-12-1 17 5 0 3 3 1 26-3-35 4 6 7"/>
<path class="m6" d="M247 267l-4 6-3-1 8 5 7 1"/>
<path class="m9" d="M295 240l8 8-4 11 10 9-9 1-8-2 4 4 9 3-8 1-8 3 4 3 15 7 5 2 1 9-3-2-20-2 4 6"/>
<path class="m11" d="M297 196l-3 5 7 10 4 3 9-1 0 4-14 0-5 3 14 3 5 0 3 1-22 9"/>
<path class="m5" d="M274 194l6 0 2-1 3 6-51 3 3 1 20-1 24 0 8 2-41 3-6 0-2-1-5 4 10 2 10-2 14 3 3 0 8-2 3-1 2 4 8 4-4-3-3 4-6-2-11 1-7-2-12 2-3-2 1 7 10 0 3-3 15 4 1 0 4 0 8-4-5 8-22 0-2-2-2 4 0 0 3 0 5 4 13-2 13 5-9 2-7 0-8-1-8-3 0 5 0 2 10 0 14 1 4-1-3 5-11-1-3-1-35 3 21 2 9 2 2 0 6 1 8-2 4 3 9 5-3-4-12 3-9 3 1 1 3 0 1 0 0 2 16 3-5 2-1-2 0-1 0-1-13 0-1 4-13 5 28 2-10 5"/>
<path class="m5" d="M268 281l6 0 11 7 0-1-1-2-4 2-11 0 5 6 16 0 4 5-12 0-4 1 0-3 8 12 6 6-4 8"/>
<path class="m8" d="M336 109l1 2 0-1-2 0-18 4 14 4 9 4-5 0-21 0 8 6 28-1 2-1 7 3-16 2-1 0-2-1-9 0 0 0-1 3-4 0-7-3-4 3-1 2 14 3 17-2 2 3-7 4-33-2 0 0-3-1-1 0 20 9 2-3 0 3 19-1 6 4-5 1-29-2-6 3-1 0-2 0-24 0 5 2 2 2 7 1 9-3 19 3 8 4-7 1-2-4-2 0-1 2-6 0-4 2-2-3-1 0-2 3-1-2-1 0-2-1-6 4 2 1 7-1 11 3 26-3 4 3 4-2 2 6-10 0-19 0-29 0-5-2 20 9 2-4 14 2 3 1-5 6-17-3-3 2-4-3-2 4-2 0-1-3-5 4 3 3 3-3 2 4 8-3 0 3 21-2 11-1 1-1-13 6-9 2-15 1 0 3 8-2 15 4 2-2 18 1-6 3-34 3 4 4 2 1 9 3-7 0-2 1-3-2-4 2-9 6 18 0-13 1-3 1"/>
<path class="m5" d="M264 284l3-3 1 1 13-1 8 3 3 0 0 5-8-1-14 0 9 3 14 1 5 15-3 3-10 12-1-2-1 4"/>
<path class="m3" d="M271 243l-10 6 0 1 1 2 6 0 12-2-5 5-10 4"/>
<path class="m4" d="M240 227l-6 3-5 4-5 0-4 5"/>
<path class="m1" d="M345 99l31 3 0 0-3 0 0-1-4-1-1 2-32 2 5 3 2 1 7 0 3 0 10-2 3 3 8-3 1 1 10 1 14 4-2 2-5-1-8-1-4-1-1 1-1 2-12-4-7 3-19 0 1 4 8 1 8 0 15 0 23 3-5 2-3-2-2 2-2-2-3-1-7 3-5-2-5-1-4 0-4 2-16 2 1 1 14 2 3 0 2 1 1 1 4-4 5 2 4 2 2-3 1-1 1 2 0 2 21 0 3-4 10 3 0 0 4 1-7 3-5 1-14-1 0 0-12 0 0-2-1 4-2-2-1 2 0-1-1 0-10-3-8 1-15 1 5 7 1-3 0 1 2 1 4-1 2 0 0 2 5-3 1 3 3 0 1-2 6-1 1-1 23 1 5 1 15-2 0 1 0 2 3 5 0-3-2 0-5 4-1-2-6 0-9 2-4-3-4 0-11 2-3 1-1-2-5 1 0-2-7 3-6-3 0-1-14 4 6 2 0 1 15-1 2 1 3-1 7-1 1 2 25 0 8 4-1 1-2 0-4 0-6-2-3 0-8 3-5-2-1 3-1-2-1 1-1-2-10 1-4 1-3-2-7 1-3-1-3 3-6 0 4 3 10-1 0 0 9 0 3 1 1-2 16 2 1 1 12-2 0 1 2-1 0 1 13 0 10-1 1 2-7 5-3 0-3-3-9 4-3-1-15 1-4 0-4-2-3-1-8 1-17-1-2 3-8-2-7 3 6 0 2 0 1 3 0 0 6 0 0 1 7 0 6 0 2-1 5 0 1-2 1 0 7 0 5 3 11-3 9 3 2-1 4-1 14-2 2 4 3-3-4 7 0-2-3-1-3 3-5-1-4 0-23 2-4 0-3-2-1 0-18 2-14-2-8-2-2 4-4 4 4-1 13-1 10-1 10 1 0 1 5 0 3 2 3-4 4 3 0 1 4-4 1 2 19 2 4-1 2-1 6 2-7 1-22 0-2 4-7-2 0-1-14 3-3-2-5 1-4-2-26 1-8 7 6 0 1-3 12 1 3 2 12-2 4 2 1-3 16 0 2-1 9 3 19-1 0 2 6-3 4 3 4-2 7 4-1 3-2-2-4 0-3 2-4-3-7 1-1-2-3 2-2 2-3 0-3-2-2 2-1-3-3 3-16-1-5 0-15 0-6 1-10-1-13-1-16 7 17-4 14 1 13 3 4 0 9 0 5 0 4 0 12-2 9-2 9 1 13 3 1-1 3-3 5 1 2 7-26-1-2 1-3-3-1 3-9-1-9 2-2-3 0 0-11-1-4 3-7-1-5-1-10-1-12 3-2-3 5 6 2 0 1 0 0 2 10-3 8 2 5 1 2-3 0 2 16 1 16-1 6 3-8 0-15 2-3 0-1-1-8 3-12-3-1-1-9 1-4 2-4-3-5 0 10 6 23-1 2 1-14 4-1 0-4 3 0-3-8 0"/>
<path class="m3" d="M264 237l2-1 8-1-1 5-9 1 6 4 8 7-8 7"/>
<path class="m11" d="M287 197l12 5-4 6 2 6-6-2-8 7 22-3 4 6-15-2-6 0 11 9 9-1 2-2-5 4-8 0"/>
<path class="m10" d="M406 197l7 7-2-2-4 0-3 0-6 0-12 3 3 4 1 0 8-2 15-1 1 0-2 8-3-3-5-1-3 2-2 1-6 1-6-3-7 0-25 7 18 1 14-3 21 2 5-2-5 5 0-1-6 2-24 1-17-3-6 0-5 3-6 0-2 1 0-4-2 4-12 4 6 1 19-4 1 2 3-2 0 1 3 1 2-1 3 3 5 0 15 0 2-2 7-1 15 2 0 1 3-4-3 6-9-1-3 3-13-3-1 0-3 4-1-2-17 1-24-2-1-1-5 1-2 3 0-1-5-2-20 4 7 2 0 2 14-4 7 1 3 0 0 2 5-2 0 3 14-2 0 1 5-2 8 1 1 2 1-4 0 3 6-2 3-1 4 3 6-2 7-1 11 1 0 1-3 4-5 3 0-2-8-2-6 4 0-1-8 0-3 1-1-1-4 0-5 1 0-1-17 1-1-3-13 1-1-2-1 1-3-1-13 4-11 1 7 3 10-3 1 0 0 1 2 1 3-2 5 3 3 0 9 0 2 0 5-2 2 2 4 0 34 0 2 0 7-3 2 0 2 1-8 6-7 2-8-2-3 2 0-2-5 2-4-4-17 0-3 3-6 1-9-1-3 0-6-1-3-2-3 1-2 1 0-1-4 0 12 8 12-2 20 0 2 2 4-3 7 2 3-2 4 0 1-1 5 2 7-2 4 4 1 1-6 0-13 2-1-1-1 2-3-1 0 0-1-1-8 0-1 0-3 3 0-2-3 2-17-1-4-3-5 3-11 3 3 2 1-2 0 3 9-2 0 2 1-4 2 2 1-2 2 0 2 1 3 2 1 0 3-2 17 0 0 1 3 2 1 0 3-1 3-2 5 0 10-1-13 7-3-1-2 3 0-4-6 3-1-1-3 1-4 0 0-2-9 2-9 0 0 0-9-1-7-1-8 1-1-1 9 5 11 3 6 0 4-2 0 2 5-3 1 3 2-1 4-1 18-2 8 3 0 1 2-3-15 7 0-3-12 2-5 1-18-2-13 3-3 1 2 0 8 0 1 0 6 2 16 0 5-1 2 2 5-3 8 4 1 2-5-1-14 1-2 2-2-1-3-1-1 0-3-1-8 3-10 0-6 3 19 0 6-1 0 2 0 2 1-2 13 0 8 0-20 4-5 1 0-2-14 5"/>
<path class="m2" d="M220 202l18 1-4 5-15 9 9 1 2 1 8 1-14 14 12-4 16 8 0-1-23-1 9 8 13-2-5 7-21 2 1 2 20 1-14 4-13-3 8 7 13-2 26 9-44-2 16 7 2-3 14 0 4 0-2 8"/>
<path class="m2" d="M229 197l19 6-22 10 5 1 11-3-25 5 1 8 9-4 20 10-30 6 12 0 15 7-23 1 4 3 13-1 8 2 1 5 0-3-23 3 4 5 36-3-25 6-17-1-3 3 20 6 25 2-35 2-1 1-3-2"/>
<path class="m7" d="M304 99l31 2-3 1-4 1-6-1-4-1-4 2-11 0 0-2-19 2-4 1-1 4 4-2 6-1 17 1 1 0 1 2 7-1 2 0 8 0 1 1 11-3 4 3-21 2-3 1-1 2-9-2-16 2-18-3-2 1-12 6 3-1 22 2 1 0 5 1 3-2 7-1 2 0 2 0 2-1 0 3 8-3 3 3 8-1-30 3-7 1-4 3-20-2-1 1-4-1-2-1-5-1-2 2-7 6 4 0 11 1 3-1 17-3 13 2 1 2-1 3-7 1-4-2-6 3-5 0-15-2-7 0-5-2 1 8 1-1 8 2 1-1 6 0 6-3 2 1 4-1 11 1 1 3 3 0 5-4 3 1 3 0 2-1-8 5-4 0-2 0-3 4-3-1 0-3-13 3-4-3-3 1-2 1-2-1-11 1-4-1 5 8 39-2-1 7-2-1 0-1-2-2-2 4-2-3-3 1-8 1-6 1-11-3-9 5 16 2 3 1 10-1 4-3 4 4 12 2-4 1-9-2-3 4 0-2-8-2-3 0-5 0-2 1-8 2 0-1-13 2-1-1-1 2 0 3 5-1 4 1 3-2 9 0 5 1 17 2 1-2 8 1 3 5-5-2-7 2-5 1-3-1-1-1-1-1-1 3-10-3-6 0-3-1-14 4-4 4 15 0 1 1 4-2 25-2 6 4 1-1 2 4-2-2-21 0-5 2-5-2-6 4-14 4 4-2 13 2 2-1 12 1 2-3 1 4 2 0 2-2 7 0 0 0 9 1-2 2-4 0-13 0-7 1-5 2-1-1-1-1 0 0-11 1-8 2-4 1 9 4 28 0-36 5-1-4 15 9 7-4 10 5"/>
<path class="m6" d="M227 268l29 0-12 2 12 7 1-2"/>
<path class="m11" d="M293 189l-1 5-1 4 16-2-8 7-7 10 0 1 17-2-16 4 5 13 3-2 7 0 2-1-2 8-15-3"/>
<path class="m2" d="M223 208l10-3 5 9-3 0 5 5 8-1-31 9 7 3 2 1 27 0 2 10-5 0-6 2-2 0 1 3 14 2-8 2-2 4-15-2-9 0-1 2 1 5 15 8-1 2 9 8 7 5"/>
<path class="m6" d="M231 274l17-2 5 7-12-2-7 5"/>
<path class="m0" d="M224 259l3 3-3-2-2 1-1 0 0-1-8 6 7 0 0 0 5 3 1-2 2 3-5 4-5-1"/>
<path class="m9" d="M297 242l11 11-4-3-13 3-1 2 11 2 1 5-1-1-3-1 6 16 4 4-22 2 20 5-7 4-2-1-2 0 3 5 15 2-12 7"/>
<path class="m11" d="M290 194l14 10-15 1 3 3 18 1 5 3-19 5 15 1 6 5-2 1-4 0-28 1 13 4 6-4 17 8"/>
<path class="m5" d="M277 187l6-2-4 5 0 0-24 4 10 5 25 4-19-2-2 2-3-1-25 1-1 1-1-2 6 7 12-1 6-1 11-2 12 2 8 1 12 1-28 2-3-1-3 0-10 3-15-1 22 5 15 0 5 4-1 2-1-2-4 1-7 0-5 2-16-2-7 1 3 6 4-3 6 0 13 3 1-3 5 2 2-1 4 6-4-3-20 0-4 4 9 2 20 3 4 4-14-3-5 1-2 3-5-2 0 0-2 1-1-2-4 0 15 4 0 3 9 0 4 1-5 5-2-4-21 8 3-3 10 0 1 1 1-1 12 4 2-1 4 3-5 0-4 2-3 1-3-3-12 7 2 4-6 7 3-2 8 5 20 5"/>
<path class="m0" d="M216 263l2 0 1-2 3-1 3 4 3-4 0 3 1 0 2 4-2 0-9 0 0-2-3 3 6 4"/>
</g>
<g transform="scale(.5)" stroke="none" fill="none" filter="url(#bl)">
<path class="m12" d="M172 238l3 0-9 6 8 16"/>
<path class="m12" d="M169 234l17 11-10 4 3 5"/>
<path class="m12" d="M173 233l-4 6 10 3-1 4"/>
<path class="m12" d="M175 234l2 5-2 10 12 7"/>
</g>
<g transform="scale(.5)" stroke="none" fill="none" filter="url(#bl)">
<path class="m13" d="M281 396l12 1 10 3-12 4 0-2-1 2 0-2-2 2-1-2-5-2 4 6 3-1 1 3 2 0 0 1 3-2 2 1 0 1 3-4 0 0 5 1-20 4"/>
<path class="m14" d="M323 389l-28 9-3 1-5 0-7-1 9 2 16 0 0 1 5 1 9 7-41 5 21 1"/>
<path class="m14" d="M286 398l7 0 22 3-12-1-15 0-2 2-1-2-4 5 19 3 4-1-11 5-3-2"/>
<path class="m15" d="M319 392l0 1 1 1 0 1-1 2 0 6 0 2"/>
<path class="m14" d="M289 391l12 8-9 0-5-3 6 5 0 3 3-3 2-1-1 8-13 0 8 5 10-3"/>
<path class="m13" d="M282 394l3-3 8 3 11 5-9-4-4 4-1 0 0-2-5 7 4-1 4 1 7-4 2 0-7 7-2-2-1 0-3 3-4-3-5 4-5-3 7 6 11-2"/>
<path class="m14" d="M300 392l13 0-34 7-15 3 22-2 12 1 14 6-8-2-9 4-13-3-19 2 23 2"/>
<path class="m15" d="M319 401l0 2 1-3"/>
<path class="m13" d="M287 393l18 4-5 1-6-1-12 7 6-2 3 2 1 0 2-3 0 2 2-2 4 0 0 0 4 6-6 1-4 1-1-4-1 0 0 0-3 0-1 5 2 2"/>
<path class="m14" d="M294 387l0 6-2-1 0-2 4 5 2 4 1 3-7-2-4 2-5-2 8 13 9-3"/>
<path class="m15" d="M319 389l1-1-1 4-1 5 1-2 0 4-1 3"/>
<path class="m15" d="M319 391l0 7 0-2-62 0 63 6 0 0 0 2"/>
<path class="m13" d="M306 394l-12 3-7-1-2 7 0 1 2-2 0 1 1 0 0 0 2-3 4 2 0 1 1 1 1 0 4-4 2 2-9 6-1-1 0 0-5 0 4 4 3-1"/>
<path class="m15" d="M320 393l-1 2 0 5 0 0 0 3 1-3-1 5"/>
<path class="m13" d="M289 396l2-1 0 1 3 1 0 2 2-1 2 0 1 6-5-4-2 2 0 0-4-1-1 3 0-2 0-2 1 5 1 4 13-3 1 3-8 1 0 0-8 5"/>
</g>
<g transform="scale(.5)" stroke="none" fill="none" filter="url(#bl)">
<path class="m16" d="M255 738l8-1 17 3-7 2-2 2-3 4 11 0 4-1 14 1 15 6-5-3-2-1-9 3-22-3-10 2-8-1 30 7 1-1 14 1 3 1 1-1 16 1 0 2-18-1-2 2-1 2-7-1-4-1-9 0-8-1-4 0-2 3 0-2-1-2-3 3-5-1-4 7 7 0 14-2 13-2 10 4 8-2 6 1 13-3 11 4 1-3 8 1-29 6-25-1-37 0 19 3 1 1 7 2 19 0 4 1 3 0 4-1 2-2 8 3 9-4 3 3 1-3 5 7-6 2-7-3-2 0-4 3-1-4-11 3-11-1-12-2-7 3 0-3-10 9 2 0 9-4 5 1 3 3 21-3 13 0 3 1 22 6-14 1-8 0-10-1-8 1-11-2-14 1-15 1-1 0 7 5 7-4 34 0 16 0 10 3 2 1-6 1-9 2-9 2-20-4-7 4-17-2-1 0-2 2-1-1-19 0 30 5 5-2 4-1 0 1 1 0 3 0 17-1 5 1 7 0 5-1 5 4 0 0 6-3-6 6-1-1 0 0-16 2-21 0-11-1-4-2 0 0-21 5 13 1 1-1 13 0 0 0 1 3 4 0 14-2 1 0 16-1 13 4 2-2-5 4-10-1-1 1-21 0-7 1-2-1-9 2-6-3-10 1-13 0 8 6 22 2 6-4 10 4-21 3-5 3 47 5"/>
<path class="m17" d="M331 751l3 2 20 16-8-2-3-2-5 8 4 0 1 0 30 0-24 4 8 4 25 7-1 0-7-2 4 6-3 7-16-2 9 3"/>
<path class="m18" d="M135 829l20 0 1-4 5 3 90 6-13-1-43 1-6-3-4 1-6 1-4-1-8 1-3-1-3 0-1-1-4 1-19 0 8 3 4 3 19-1 4-1 13 2 8-3 24 0 1 4 2-3 7-1 11 3 3 1 7 1-1 1-6 3-5-3-2 1-10 2-3-3-2 1-7 0-24-2-5 3 0-3-2 4-3-4-1 4-2-2-5 0-1 1-4-2-6-1-1 2-2-1-4 3-1-2-11 1-5-1-5 2-1-4 9 5 0 3 9 1 3-4 4 4 1 0 4 0 1-1 3 1 4-2 12-2 2 3 12-1 10 2 3-2 3-1 0 0 9 0 4 3 1-1 1-3 8 1 1 3 15 5 0-3-5 3-6-3-2-1-2 2-2-2 0 0-16 1-9 1-8 0-1 2-3 0-1-3-12 0-1 1-5 1-4-1-11 2-6-1-7-3-4 1-8 0-1-1-7 9 10-4 9 1 8 2 5 0 9-1 1-1 10 1 1-1 14 1 3 1 1-2 2 1 5-2 4 4 2-1 7-3 0 1 3 0 1-1 1 2 12 1 2-1 3-2 1 3 1-1 8 5-4-2-1 1-6 0-1 1 0-2-5 1-2 3 0-4-6 3-19 1 0-3 0-1-1 0-6 2-5 0-2 0-14 1 0-1-4-1-1 1-2 2 0-3-13 3-1-1-1-2-4 2-6-2-5 2-1-2-3 2-1-1-2-2-3 1-3 3-5-2 9 4 1 0 6-1 25 0 10 0 1 3 12-3 2 3 2-3 2 0 6 4 5-4 0 0 16 3 7-2 0 2 0 1 1-2 1 0 5-2 8 2 7-1 0 3 2-3 0 6-6 0-2 1-2 1-10-4-2 3-6-2-14 0-2 0-5 2-5-3-5 1 0-1-1 2-13 0-2 2-6 0-3-2-11 1-17 1-5-4 6 7 0 2 4 0 1 0 4-3 0 0 6 0 3 1 1-2 4 4 3-1 3-1 8-2 1 1 1-1 2 3 12-1 8 2 1-4 0 1 13 2 2-2 0 2 7 0 6-2 4 0 11-1 1 4 1-1-5 3-4 1-2 1-4 0-7-2-1-1 0 0-1 4-8 0-1 0-3-4-15 0-17 4 0-3-25 3-2 0 0 0-2-2-3-1-2 3-11 2 20 0 0 3 8-3 15 0 1-1 1 1 4 1 2-2 2 0 0 1 11 2 1-1 1 1 4-3 3 0 0 1 0 0 3 3 4-2 2-2 0 3 12-2 4 1 1-2 1 4 1-3 0 2 12-2-6 8-2-4-14 4-1-2-8-2-3 1-6-1-4 3-7-3-3 3-4-2-1 3-2-2-14-2-9 3-2-1-3 2-1-1-4-1-5-2-3 1-6-1-4 5 11 1 3 2 3 0 1-2 9-1 2 2 3-2 4 1 8-1 9 3 4-2 2 2 16-1 1-2 0 2 2 2 3-1 3 1 2-1 5-2 5 0 6-1 1 1 0 1 1 1 4-2 0 2 1 5 0-1-1-2-1 4-11-2-15 0-7 1-1-3-6 1-26-1-4 3-14 0-2-3-9 6 4 2 1-2 5-1 6 1 8 0 4 0 0 2 1 0 1-2 6-1 0 2 16-1 5 3 14-4 16 3 3 0 3-3 3 0 1 2 5 0-2 4-5 3-9-1-1-1-3 1-1-1-2-1-5 3 0-3-2 2-1-1-3 1-3 0-2 1-11-1-2 0-9 0-9 0-9-1-7-1-1 3-6 2 4 2 4-2 0 1 3 0 9 1 0 1 11-3 6 2 5 1 7-4 2 1 3 1 3 2 2-3 1 2 3-3 0 4 4-1 6 0 5-1 5 2 13-4-6 5-2 4 0-1-3-2-12 0-8 1-10 1-3-2-3-1-11 2-6-2-1 2-5 1 0-1-2 0-4 2-6-1-4-3-13 0 13 9 4 0 3-4 3 2 7-1 0 1 6-1 3 3 6-1 7 0 13-2 3 3 10-1 2-3 1 4 13-1 3-1 0 5-21 1-8-2-27 1-7 0-1-2-6 4-4-1-8-2 5 4 15 3 2-3 12 0 2 0 4 0 0 1 1 0 1-1 0 0 1 4 5 0 2-2 0 1 4-2 1 0 16 1 9 1 1 1 1 0-14 2-3 0-3 3-11-1-3 1 0-1-13 1-3-1-6-1-2-2-1 0-2 2-1-1 0 8 2-1 2-2 1-1 0 4 13-3 4-1 8 3 9-1 2 0 8 1 13 3-3-1-10 0-5 2-13-2-9 2-2-2-12 1 2 5 11 0"/>
<path class="m19" d="M261 671l5 0 5 2 11 1 9 5-5 0-13-4-4 1-7 1-12 1-1-1-1 1-9 1 0-3-2 2-5 1 1 2 4-1 0 4 3-2 2 2 2-1 2-1 11 2 2-1 3-2 0 3 6-4 3 4 4-2 0 1 12-1 2-1 1-1 12 7-1-2-10 2 0-2-1 0-13 2-2-1-1-1-1 2-8 0-3-2-19 2-3 2-7 0-2-2-4 1-1-1-19-2-10 5 12 0 5 0 5 3 6-1 11 2 7-2 0 1 3-2 6 1 4 2 4-3 9 2 5 0 1-1 4 0 8 0 3 1 10-2 2-1 1 3 5 4-1-2-5 3-16-1-18 2-3-3-8 0-1-1-16 3-1-1-1 1-5-3-4 0-1 2 0-1-6 2-10-3-4 3-2-1-1 2-1-1 6 3 17 1 0 1 7 1 3-4 16 2 6 0 5-1 0 0 2 2 1 0 30-1 7-1 2 3 0 0 2-2 6 2 13 2-22 3-5-1 0-1-4-1-6-1-8 0-1 3-2 0 0-3-1 0-17 1-3 2-6 1-1-1-4 0-8 1-2-2-3 2-1-2-7 0-3-1-7 8 13-4 2 1 4 1 6-1 3 3 8-3 4 2 6 1 19-2 10 0 1 2 2-3 3 0 0 2 1-3 3 2 2 2 19 0 2-2 14 2-2 5-7-4-2 0-8 0-2 0-4 1-3-1-2 3-7 0-1-1-2 2 0-4-2 4-3 0-2-2-1 0-6-1-1 0-14 2-2 1-13-1-10 1-12-3 14 7 5-2 3 3 4-3 12-1 4 1 18 1 0 0 1-1 2 3 6-2 5 1 10-1 0 2 13 4-6-2-4-1-6 4-6-4-1 4 0 0-18-1-3 1-11-1 0-1-7-2-3 0-8 0-6 3-8 2 19 3 1-3 1 0 5 3 13-1 5-1 4 2 6 1 1-1 11-3 2 1 2 1 16 0-5 4-6-1-2 0-6 0-9 2-4 1 0-3-11 4-20-3 30 5 1 3 21-3 2-1 7 1 7 5-27-1 12 16"/>
<path class="m20" d="M283 924l29 4-8 1-4-1-27 5 19 1 11 0 3 0 9-4 6 4 6-2 6 2 0 0 4-3-20 6-3 1-2-2-5 3 0-3-2 3-4-4-1 3-22-2-2 2-2-3 0 0-28 8 7-2 25-1 1 4 6-1 1-1 6 2 24-2 1-2 12 1 2 7-18-1-14 0-8 1-3-1-1 1-8 0-5-3-31 1-14 5 2-1 29 0 9 1 3 3 5-3 0 3 12 0 4 0 8-3 2-1 19 1 0 0 7 2 1-2 2 0-11 4-4 4-7-3-5 3 0 0-5 0-9-2-7-1-2 3-1-3-9 1-10-1-13 0-9 0-4 2 4 6 4-3 0 1 6-2 19 0 3 0 10 4 5-4 8 3 4-1 2-2 12 3 13-2-5 6-23 2-1-2-20 0 0-1-5 0-6-1-5 4-8-4-5 2-8 0-12-2-3 2-2 2 11 2 2 1 6 2 11 0 8-2 5-1 2 1 4 0 4 0 9 2 23-2 2 1-3 5-4-2-3 2-16-2-18 3-1-3-12 5 9 2 4 1 2 0 6-1 1-3 8 0 17 0 1 1 7 3 2 3-11 2-8-3-2 2-7 0-9-3-2 2-9-1-5 2-4-2 17 4 1 2 4 2 24 0 3 2-24 0"/>
<path class="m16" d="M176 699l20-2 1 1 10 1 1-4 2 7 0 0-7 1-15 1-1-2-4-2-6 3-2-3-1 1-3 1-8 3 2 3 1 1 2-3 2 2 5-1 4-2 6 3 1 1 23 0 11 0 1 3-5-1 0 0-8-1-1 1-8 1-8 2-1-4-6 2-14 2-2-2-1-2-6 1-3 3-4-3-5 2-1 1-2-2-12 7 6-4 2 3 4-2 1 0 8 0 0 2 6-3 3 2 6 0 1 1 7-2 6 0 4 1 1-2 4 3 3-3 5 0 1 3 10-3 23 0 6 5-3 2-1-2-3 1-4 2-2 0-4 1-3 0-2 0-4 0-1-4-6 4-3-1-4 0-3-1 0-2-1 3-5-1-2-1-13 1-11-1-2-1-8 1-1 2 0 0-3 1-1-4-6 1-3 3 0-4-2 0-2 7 1-2 16 1 1 0 4-1 0 4 5-3 6-1 4 2 4 2 5 0 12-4 5 2 5-1 0 3 1-1 4 0 0 1 2 0 19-1 1 1 6 0 10 5-2-2-2-2-3 1-2 3-1-1-2-3-4 1-2 1-4 1-5 0-7-3-1 3-2-2-5-1 0 0-2 3-5 0 0-2-4 0-2 0 0-1-5 3-3-3-1 0-1 3-3-3-3 2-3 1-2-3-1 3-1 0-20-2-3 1-6 1-24 3 10 3 1-4 0 3 3 1 3 0 2-1 11-2 1 0 6 2 1-3 5 2 5-1 3 1 3 2 8-2 8 2 3-2 3 1 11-2 4-1 2 0 3 1 7 2 4-2 2 0 0 3 2-3 12 0 3 1 2-2 0 0 1 0 1 1 2 2 6-2-23 8-7-3-11 1-4-2-1 1-3 2-5-3-3 4-5 0-2-2-1-1-2 3-1 0-1-4-5 2-4-1-1 0-7 3-1-2-7 1-6 1-2-3 0-1 0 0-3 1 0-1-1 4-1-1-2 0-3-3-9 1-1 3-2-2-5-2-12 6 14-1 2 2 5 2 5-2 9 0 4 1 6-1 10 0 1 2 1-2 3 0 3-1 0 3 6-2 3-1 14 2 2 1 10 0 18-1 1-3 0 2 12-2 4 9-1 0-2-4-13 4-10-4-2 4-4-3-1-1-11 4-2-2-9-2-5 3-3-2-22 3-1-4-1 4-2-3-8 3 0-4-1 4-8-4-7 3 0-3-2 2-2-2-5 5 0 0 14 0 11 4 2 0 5-3 4 3 1 0 2-4 2 1 0 1 4 2 3 0 15-3 8 2 1-3 1 2 3-2 1 0 2 1 0 1 2 1 4-3 5 3 2-3 1 0 3 0 9 1 13 1 3 1 1 0 5 2-9 0-1 4-1 0-3-4-1 1-3 1-2-2-1 2-4 0-1-1-4 3-11-1-11 1-5-3-3 0-15 1-9-2-4 2-3 1-10 1-1 0 0-4-2 1-11 3 0-4-4 1-5 1 0-2-1 0-2 8 21 1 2-3 2 3 5-2 7 2 1-2 20-2 0 3 5-1 0 1 16 1 5-1 5-2 4 0 9 3 11-1 6-2 7 3 4 5-9 0-21-2-8 1 0-1-3-2-11 3-4-1-4 2-2-1-6 1-11 0-2-3-12 2-6 1 0-4 0 0-6 1-6 2-1 1-4-2-3-2-6 2 0-2-6 8 8 1 10 0 9-4 3 0 2 1 0 1 2 0 5-2 0 2 4 0 5-2 7 3 4 0 6-3 3 1 0 3 6-4 1 3 2 1 4-1 0 1 4-2 1 2 1-2 9 2 2-2 2 0 3-1 8 3 5 0 6-3 3 3 4-2 5 3-5 2-2 0-10 2-26-1-5 0-6 1-6-3-9 3 0 0-2 0-4 0-2-3-3 3-5 0-3 0-5-4-1 3-4-2-1 0-10 1 0 0-6 0-8-1-1 2-5-1-6 1 2 3 9 3 2-4 1 1 1 2 8 1 7-2 3 2 4-3 7 1 3-1 6-1 4 0 8 1 1 0 2 0 3 1 1 0 3 1 4-2 2 0 12 1 4-1 1 1 1-2 5 4 3-1 6-3 0 1 1 0 3 2 8 0 0 1 6-1 2-2 1 3 2-1 1 6-8-3-7 1-2-2-1 4-5 0-2-1-5-1 0-2-3 3-8 1-5-2-1 1-1 0-8-1-1 2 0-2-7 2-3-1-3 1 0-1-6-3-5 2-5 2 0-1-3-1 0-1-6 1-6-1-7 0 0-1-7 4 0-1 0-1-5-1-3 2-1 1-3 0-5-2 2 4 16 0 12 0 6 0 21 2 6 0 3 1 6 0 6-4 5 3 3-1 9-2 19 3 1-2 8 3-2 5 0-4-1 4-7-2 0 0-8-1-4 0-1-1-7 4-1 0-3-2-2 1-3 1-8-1-6-2-8 0 0-1-1 1-6 3-13-3-4 2-2-1-2-2-4 2-2-2-2 4-13-1-1-3-4 1-13 8 15-1 3 1 7 0 1-3 3 0 1 1 6 2 8-3 2 3 16-4 2 0 8 3 15 0 10-1 6 2 3-4 0 3 0 1 3 0 10-4 10 6-1 2-1 1-16-2-16-1-1 0-4 2-2 1-1-1-5-2-5 1-12 2 0-1-7-1-2-2-3 4-4-4-6 4-2 0-1-3-4 1-1-1-11 0-8 0-3-1-7 3 13 4 15 0 7 2 4-4 2 1 3-1 6 3 17-3 0 2 4-1 8-1 4 2 4 2 3-3 9 3 2-1 10 1 5-3 2 1 1-1 3 1 2 0-13 6-2-1-1 2-3-3-5 0-6 0-1 1-3 1-2-1-4 2-4-1 0 0 0-1-10-1-6 1-2-1-5 2-8 0 0-2-2 2-2-2-1 3-5-3-1 1-2 1 0-3-1 4-2-3-3-1-15 0-1 3-2-1 8 6 15-2 8 1 26 0 5-1 4-1 7 0 4 2 5 2 0 0 5-3 5 0 5 0 7 0 9 3 1-3 8 0-4 5-22-1-39 0-18 3-34-3 48 5"/>
<path class="m16" d="M267 736l13-1 24 7-3 1-8 1-17-2-6 2-1-2-11 6 10 1 24 0 28 4-7 1-1 0-7-1-4-1-9-1-3 2-2 0-6-3-1 2-13 1-1-3-4 0-3 2-3-1-7 2 10 3 4 0 0 0 8 3 1 0 2-1 4 1 4-3 20 3 1-4 2 3 0 1 8-1 18 6-3-2-2 2-1-2-1 2 0-2 0-1-8 1-1-1-5-1-9 4-26-2-1 1-9-1-8-2 7 5 15 2 6 1 12-2 1-1 2 0 9 1 7 2 3 0 14 3-16 0-1 2-6 0-2 0-10 0-7 1-15-3-1 2-5-1-6 0-8 4 0 2 8-1 3-1 39 1 8-1 3 3 7-2 5-1 2 1 2 2 2 3-13 2-15-3-10-1-1 3-2-3-12 1-7 2-2 0-7 0 25 4 9 1 5 1 8 0 2-1 16-3 7 2 2 6-22-2-4-1-3 3-1 1-11-4-13 2-25 1-4 1 0-3-3 1 12 7 6-4 18 4 11 0 21-2 2 2 1-4 17 9-4-3-11-1-20 3-25-1-7-2-6 1-6 6 7-2 14 4 26-4 13 2 4 2 26 2-6 2-32-1-25-1 0-1-14 2-8 2 0 1 41 0 0 0 1 1 3-1 7 2 20 1 4-3-28 8-5-2-14 3 0-3-1 0-8 1-14 2-1 0-12 5 30 1"/>
<path class="m19" d="M249 673l8 1 2-1 4 1 1-4 14 1 8 7-27 0-2 1-3 0-3-3-4 2-14 0-7 2 3 0 2 1 5 3 1 0 13-3 5 3 4-3 2 1 1 0 2-1 11-1 17 1 6 0 1 7-4 1 0-3 0-1-1 4-6 0-1-3-6-1-9 1-3 3-3-3-1 2-6 1-3-1-4-1-11-1-7 1-6 1-1-2-3 1-1 0-13-1-4 1 1 5 0 2 2-4 10 1 5 2 9-3 9 3 19-3 4 1 16 3 20-2 1-1 2 2 15 6-8-4-7 4 0 0-5-2-4-2-13 4-4-1-1 0-6-1-9 2-4-3-2 2-2-1-1 2-10-2-2-2-25 3-7 1-3 0 0-4-5 3-2-3 3 9 3-4 1 1 6 0 2-1 0 1 7 0 6 1 3 1 7-1 3 0 4 2 1-4 2 0 1 3 10 1 15-4 6 0 0 2 0 2 2-1 4-3 5 4 18 0 1-1 9-3 1 2 5 5-1 1-6 1 0-3-1-1-3 4-8 0-1-4-3 1-4 2-10-1 0-2-1 3-35-3-4 2-5 1-1-2-25 0 17 4 5 0 14 3 15 1 1-4 5 2 0 0 10-1 2-1 2 1 3 3 5-2 1-1 1 2 4 1 2-4 3 4 4 0 2-4 4 3 5-2 4 1 5 7-19-2-11 1-1 1-8-1-2 0-11-1-3 1-2 0-3-1-29 0-15-1 31 4 8 1 11-1 0 0 3 1 6-1 7 3 8 0 2 0 3-3 2 2 10-1 6 3 2-2 3 5-10 2-5-4-1 2-3 1-2-2-2-1-2 2-5 0-2-2-4 1-7 3-5-3 0-1-3 1-2 1-3-1-8-1-1 1-1 1-5 3 12 1 1 3 8-2 19 2 22-1 1-1-6 5-11 2-9-3-1 3-2-3-10-1-3 2-2-1 9 8 9-4 0 0 7 3 2-3 0 3 4-2 8 1 8-2 1 1 15 3-4 5-6-4-8 4 0-3-8 3-1 0-32 0-6-3-2-1 57 6 7 2"/>
<path class="m21" d="M129 723l-9 4 1 3 6 4 2 1-6 4-7-3 2 8 11-2-25 7-4-3 7 8 14-3-2 4-9 0-11 1-4 0 4 8 3-2 11 0 2 0 5-1 2 5-13 3-6-3-6 0 7 6 13-2 2 1 4-1 0 2 2 7-7-1-5 0-9 1-2-1-1-1-4 0-3 4 21 1 12 3-9 0-5 4-3 0-5-2-5-1-3 5 6 0 3 2 2-3 2 1 8 1 12 6-20-2-12-1-1 0 2 9 8-2 9-1 0 2 4-3 3 2 2 1 0 2-2 3-2-3-7 3-11-2-3 4 1 1 1-1 0 2 2-1 6-1 19 4 1-2-13 4-12 1 0 7 3-4 14 1 6-1-18 9-5-3 7 4 7 3 1 1-3 1-3 4-3-1 8 4 2 2 10-1 4-3-17 7-1 1-1 0"/>
<path class="m19" d="M253 674l3-3 3 3 7-4 0 3 7-3 1 3 13 4-30 2 0-4-4 4-7-2-1-2-2 3-16 4 16 1 9 1 10-2 4 0 8-1 2 1 11-2 0 1 7 0 0 1 13 7-1-1-13-1 0 0-7-2-6 0-29 1 0-1-3 2-1 0-13 0-3-1-8-1-7 4-16 5 15 0 3-1 14-3 7 3 3-1 1 2 8 0 13-1 14-2 24 0 6 1 1 0 2 2 0 5-6-4-9 4-14-1-1-1-3-2-5 0-3 3-5 1-8-3-1-1-8 4 0-2-16-2-1 4-6-3-2 2-8 0-17 0 10 4 3-2 2 2 16-1 0 3 9-1 0 1 14 0 1-3 1 3 9-3 3 3 6-3 3-1 5 3 3 1 17 0 7-4 13 1 9 6-11 2-12 0-8 0-9-2-1 0-9-2-1 0-7 1-4-1-1 0-9 0-15 3-4-2-6 1-1 2-6-2-8-1-8 0-1-1 14 6 9 0 1 1 1 1 5 0 1-3 4 3 1 0 7 0 8-2 6 1 4-2 1 4 1-2 15-2 0 1 5 2 3-1 4-1 11 3 10-3 3 1 3 5-11 1 0 0-1-2-1-1-8 3-4-1-9 1-3-2-3 1 0-2-2 3-1-1-9 2-4-3-3-1-5 1-1-1-3 0-2 4-2-4-1 3 0-3-2 2-5 1-1-1-15 3 20 1 2 2 5 1 16-1 6-2 8 2 3 1 0 0 2 0 11-4 7 0 5 1 0 3 5 0 10 0 6-2-11 5-4-1-1 1-4 0-4-1-13-1-1 2-3 1-2-2-1 2-1-3-2 4-3-4-2 1-2-1-17 4-1-4-1 4-10 2 14-1 5 0 2 4 5 0 6-4 3 0 9 3 7 1 1-1 1 0 4-2 9-1 0 4 18-3 0 2-3 4-5 2-7-4-5 2-2 0-3 1-7-1-4 0-3 1-2 1 0-4-2 3-18 1 0-1 6 2 6 2 22 0 0 1 7-2 2 3-5 2-1 1-2 5 4-2 13 0 14 4-26 1"/>
<path class="m22" d="M352 792l9 1-15 6-5-2-1 6 3 0 11-1 5 3-1 1-6 3-1-4-2 7 3-2 4 2 13-1-9 8-13-1-8 3 15 3 11-3 12 6-36 2 0-4 26 8-7 4-5 1-11 0 8 5 9 0 7-1 4 2 3-4 1 4-9 2-12-1-4 3-3 1-7-4 14 7 1 1 13 1 2 0-13 5-4-4-2 3 10 2 1 1-12 7-3 0-3 0 11 14"/>
<path class="m18" d="M325 824l11 2-42 2-36 1 37 4 9-3 1 2 2-2 1 0 23 3 7 0 7 4-4 2-5-4-1 4-12-3 0 0-3-1-1 3-13 0-2-2-2-1-6 3-2-3-3 0-1 4-6 0-4-3-3 0-1 0-11-1-4 4-11-3-8 7 23-2 2 3 8-1 13-3 12 4 6-4 4 3 4 1 8-2 1 2 13-2 5 1 3 0-1 2-6 1-9-1-1 3-1 0-5-2-12 2-4 1-1-1-3 1 0-2-9-2-3 0-9 4-3-1-1 0-4-3-1 2-3 2-3-3-12 1-2 2-11-3 19 7 4-1 1 0 20-1 10 0 6 0 10 2 2 0 1-3 2 2 1-2 0 4 16-4 3 2 1-2-10 8-5-1-8-1-4 0-3 3-6-2-3 2-5 0-7-3-12 2-6-1-1 1-1-2-1-1-1 0-17 3 5 3 3-1 0 1 13 2 2 1 2-4 17 1 30 1 13 2 1-3 1 2 1 0 3 0 5 1 5-2 0 2 1 2-5 2-7 0-3 1-15-1-3 1 0-3-3 3-2-2-1 1-2 0-17-1 0 0-1 0-1 1-2-3 0 0-5 1-1 3-3-1-1 0-2-2-8 3-20 1 5 1 5 3 8 0 9-4 4 1 11 0 9 3 20-2 0 1 1-3 7 0 1 0 11 4 3 0 8-2-8 4-33 0-16 3-12-3-4 0-7-1-1 0-3 1-5 0-1 3-16 1 4 1 9 1 3 0 5 1 10-1 17 0 18 1 4-3 20 1 6 2 4 0 1-1 0 0 3 7-4-1-10 0-4 0-3-1-19-1-4 2 0-3-3 3-3 0-2-1-1-2-4 1-7 3-4-2-3 1-8-3-1 2-1-1 0-1-1 0-2 4-3-3-3-1-3 1-8 1-2 6 0 1 35-3 2 1 5 0 1 1 11-3 3 3 15 0 5-1 8-1 2 0-12 7-8 0-7-2-5 3-12 0 0-3-3-1-3 4-6-3-6 0-10 3-5-3-1-1-4 7 9-2 3 1 22 3 7-4 11 1 7 3 2-4 24 3 3-1 6 1 0 1 4-4-1 7-3 2-2-2-8 2-6 0-11 0-3-4-1 4-14 0 0-3-4 3-1-3-9 3 0-2-5-2-6 2-9 1-3 1-2-4 6 5 4 2 14 0 21-2 12 4 5-1 5 1 1 0 12 2-5 1-1-1 0-1-2 0-1 1-10 0-5 3-4-3-2 0-8 0-3 0-2 1-10-1-6 2 0 0-2-1-1 1-1-3-1 4-6 0-9-2-8 6 22-2 8 1 20-2 1 2 11 2 7-2 4-2-9 9 0-1-6-3-10 3 0-2-4 3-11 0 0-4-9 4-2-1-14-1-2-1-3 0 6 7 14-3 5 4 7-3 4-1 11 1 5 0-38 5-15 1-1 0 0-1 24 6"/>
<path class="m18" d="M176 822l32 6-9-3-47 4-10-4-16 7 13-2 4 0 18 0 1 2 11 0 1 0 7-1 18-1 8 4 7-4 6 1 17 3 17 4-2 0-9 0-8-2-9 2-3-1-2 2 0-2 0-1-2 2-27-1-4 2-7-3-12 2-4 0-5-3-4 3 0-3-1 3 0-2-12-1-7 2 0-2-1 1-2-1-1 1-2 1-7 7 6 0 13 0 2-2 1 0 16 0 3-2 4 4 2-3 8 3 15-4 0 0 2 3 8 1 4 0 2-3 1 2 10 0 1 0 9-2 0 1 1-2 1 3 14-3 7 8-1 0-12-1-5 2-11 0-8-1 0 0-3 0-5-2-2 2-7-1-8 1-22 1-7-4-9 0-1 0-1 4-3-2 0-1-6 2-7-2-2 3-2 0 0 4 8-1 2 1 4-2 1 1 14 0 20-1 1-1 1 1 17 3 4-3 0 3 3 0 1 0 4 0 2 0 28-1 4 0 3 4-4-1-4 0-1 2-11-3-7 2-3 0-7 1-9 0-4 0-9-1-2 2-2-3-1 2-1-1-2 2-1-3-10 2-6-2 0 0-9 0-6 2-1 1-3 0 0-1-15-2 0 5 1 0 6 3 2-3 0 2 1-1 11 2 1-4 3 3 1-3 6 4 6 0 2-3 0 3 2-3 4 0 1-1 1 3 2 0 6 0 3-3 4 3 3 0 5 0 8 1 15-4 2 0 12 4 4-2 1-2 6 0 0 1 9 1-18 7-14 0-3-2-3-2-9 1-4 3-4-3-6 0-18 1-7 2 0-1-3-1-1-2-5 1-1 0-1-1-15 1-12 1 6 3 7 4 2-2 1-2 0 4 1-1 6-2 11 1 1 0 3 0 5-2 4 1 16-1 10 1 0 0 6 0 2 3 13-2 3-2 4 2 4 1 18 2-8 1-11 0-4 2-3 1-3 0-5-4-1 4-5-4-3 4-3-3-2 1-1 2-8 0-4 0-4 0-1-2 0-2-13 4-3-2-8-1-3 3-3-1-8-1-2-1-19 5 7 1 2-1 2 1 4 0 16 1 5 1 24-2 1 2 2-3 0 0 7 3 4-4 1 1 9 1 6-1 6 1 15-1 4-1 1 8 0-3-1 4-2-2-10 1 0-1-6 1-3-2-1 3-12-1 0-3-2 1-6-1-1 1-9 2-5-2-6 2-8 1-3 0 0-1 0-1-7 0-1 2-1-1-7-2-1 0-2 0 0-1-1 2-5 2-11-2-6-1 9 8 4-1 10-3 3 1 2 0 3 3 5-1 28-3 14 4 2 0 3-4 3 3 8-3 4 0 1 4 4-3 13 1-2 7-20-4-7 4-2-4-14 1-5 1-3 1-1-2-9 0-6 0-1 3-12-1-6-3 0 0-6 4-1-2-3-1-2 2 0 2 2 1 8-1 0 1 1 2 2-2 7 2 3 1 2 0 7 0 2-1 0 0 2-2 4 2 8 0 3 0 5-3 5 2 10 1 26-2 3-1 0 6-7 3-5-1-2 0-3 1-3-2-7 1-4-1-2 1-3-1-4 2 0-3-4 3-4-2-14 1-5 0-3 1-1-2 0-2-9 0-10 1-4 4 1 4 1-4 0 0 0 2 9-1 1 3 1-4 1 0 7 2 4-1 6 1 4 0 0 2 1-2 12 2 2-3 10 0 1-1 1 2 1-2 3 1 1 0 0 1 2-1 5-1 4 2 2-1 4 0 1 3 9-3 1-1 0 1 1 8 0 0 0-2-20-1-7 0-3 1-6 0-1-1-21 0-2 3-10-2-1 1-5-2-3 2-2 0-1-3-9 4-7-3 9 6 8 0 1 0 6 0 4 0 1 2 6 0 9-4 3 3 16-2 9 0 3 2 2-2 5-1 0 1 1 2 3 0 1-1 6 0 3 7-10-3-5 0-2-1-2 3-2-2-4 0-6 0 0 0-1-1-7 4-1-1-4-1-4-1 0 0-1 3-3 0-11-4-13 3-3-1-7 0 20 6 9-3 8 1 0 3 9-4 3 2 0 0 1-1 16 2 7 0 3-3 2 1 8 3 4 4-2-2-5 1-1-2-19 0-1 1-1 3-7-2-2-2-1 3-7-1-4-1-8-1-16 0-4 1 0-1 7 5 19 0 0 4 2-4 5 2 2 1 6 0 4-2 1 3 0 0 1-4 1 0 0 3 1-2 0 1 8 1 3-1 0 1 6 0 14-3 0 1-10 4-14 3-18-3-8 4-10-4 0 0-2 3-5-2 31 6 15 2-4 1-6 0-3 0-5 1"/>
<path class="m20" d="M328 923l1 3-80 8 34-1 5-2 2 2 37-1 10 7-4-3-1 2-20 0 0-2-2-1-2 2-10 1-2 0-9 0-3 0-12-2-27 7 12 0 8-1 11-1 1-1 11 0 3 4 15-3 2-1 13 3 9 2-18 3-1 0-19 1-12-2-8 0-4 2-1-2-7 0-2-2 0 0-7 0-6 0 4 8 0 0 2-1 2 1 8 0 2-1 3 0 23 0 5-1 1-1 10 1 4 2 9 1 0 0 1-3 1-1 7 4 4-4-9 5-10 1-14 1-2-1-5-1-5 4-11-2-1-2-9 3-5 0-8-3-3 3-7-3-5 4-4-1-3-1 2 5 2-1 4 0 5 1 13 2 7-3 10 3 38-1 5-3-21 7-4 2-8-3 0-1-36 0-17 8 13-1 3-2 0 4 8-4 7 3 3 1 1-4 0 1 1-1 3 1 8 0 4 3 30-2 6 5 0-2-3 4-38-3-2 3-1-3-2 1-9 2-7-1-13 0-3-2 6 5 5-1 0 3 1-2 2-1 7 1 13 1 5-2 0 2 1-2 9 4 4-1 7-2 6 3 4 2-7 1-14 2 0-2-1 2-4-1-3-1-4 0-10 0 7 7 3-2 1 1 2-3 8 4 6-2 8 0 6-1-28 7"/>
<path class="m17" d="M337 760l13 3-13 5-1 3 29 7-24 3 18 1 10-1 8 4-12 0-10 4-1-1-15 1 43 2 6 7-8 0-16 7"/>
<path class="m21" d="M115 731l11 7-8-1-9 1 2 5 5-2 1 2 3-3 8 6-2 2-7-3-6 1-1 3-2-3-5 2-1-1 0-1-4-1-1 4 6 3 6 0 17 0 5 2-20 4-7-3-1 4-1-3-9 7 7-2 3 1 1-1 5 2 8 1 2-4 0 2-19 3-7 6 6 3 11-2 11-2-4 5-14 1-9 4 5 1 2 0 17 0-2 4-5 2-4 0-15 4 2-1 11 1 11 2 7-1 1 3-1 2-8 1-8 1-1-1-5-2-5 2 18 3 0 3 4 0 1 4-13-1-1 1-8 4 6-1 5 1 14 0 6 0-11 7-5-3-1-1-11 6 3 0 25 6-6-2-2 2-10-1-8 2 9 4 13-2 6 8-4-2-6 1-9-1-1 0-4 3-1-2 23 5 0 0"/>
<path class="m19" d="M252 673l8-2 13 1 3 1 0 1 3 0 3 0 6 2-2 3-14-3-8 0-9 2-1-1-3-1-2 2-5-3-1 4-17-1-14 6 5-2 5-1 9 3 3 0 13-2 2 0 7-2 4 4 2 0 1 0 0 0 6-4 0 0 2 3 5 1 10 0 6-4 14 9-5-3-1 2-3-1-2-1-1 3-7-4-2 1-4 2 0 0-2 1-4-2-2-1-13 3-3-3-2 3-3-1-1 0-2 1-6-4-5 0-10 1-9 0-5-1-1 3-6 2 3 1 1 3 6-1 4-1 7-1 10 1 22 0 10-1 1 1 1 1 8-3 1 0 21 3 4-3 1 2 6 6-3-1-16-1-3 0-1 2 0-3-1 3-4 1 0-1-4 0-8-3-1 2 0-2-5 4-9-2-3-2-4 2-15 1-4-1-4 1-3-1-1 0-13-1-7 0-10 2-3-2 31 4 2 3 4-2 2 3 6-1 4-2 1 2 1 0 10-1 1 2 7-2 7 2 1-3 2 0 7 2 11-3 0 2 5-1 1 0 9 2 3-3 7 3 1-3 11 8-8-3-1 2-4 1-3 0-1 1-5-4-8 0-11 3 0-3-1 2-22 1-12-2-4-1-2 0-6 0-30 4-2-2 25 5 2-2 6 0 4 4 2-2 10-2 11 4 4 0 9-4 7 1 2 3 10-4 6 3 30-2-2 8-13-4-8 3 0-2-2 0-9 1-17 2 0-2-19 2-4 0-7-4-4 2-20 1-6 0 21 6 31-1 7-1 0 2 5 0 3-3 2-1 0 2 5 1 20-1 6-2 5 9-2-4-13 2-7-2-12 2-3-1-10 1-10 5 10 2 4-2 7 1 6 0 5 0 3 1 9 0 1-2 4-2 0 4 1-1 5-3 4 2 11 5-8 0-11 2 0-1-8 0-5-1-7 2-5-4-3 1-13-1-1 1-1 1-2-2-13 0 9 9 6-3 17 1 1-2 2 1 8-1 5 2 5-2 1 0 0 0 15 9-12 0 0-4-5 3-2 1-13-2-7-2 19 7 18 2"/>
<path class="m18" d="M318 819l6 5 5 3 6 1-58 5-8 5 3-2 1 3 6-1 5-3 5 3 9-1 14 1 0 1 12-3 0 3 17-1 0 1 2-1-1 2-1 4-8-2 0 0-1 2-21 0-4-4-1 4-5-2-2-2-14 3-9-3-12 3 0-3-7 2-2 2-2 0-9-1 4 5 4-3 25 4 5-4 1 1 1 2 11-2 1-1 2 2 3-1 17 0 0 2 2 1 4-3 2 0 3 2 3-2 14 1 0 2 5 2-6 0-2 1-3-1-1-1-13 2-5-2-4 2-1 1 0-3-14 4 0-1 0-1-3 2-32-2 0-2-3 4-12-1 3 2 4 3 10 1 2-4 3 2 2-2 4 1 10 0 6 1 2 2 9-2 5 0 1-2 28 2 12-2-7 5-4 0-1 1-8 1-1 2-1-3-1-1-12 0-9 1-3 1-7 2-1-2-4-1-5 3-10 0-1 0-3-4-11 4-13-1-1-1 8 4 4 0 7 3 2-4 0 3 14-2 7 0 10 1 8-2 3 3 2-2 6 1 14-2 1 4 6-1 1-3 0 2 5 3-1 2-5 1-11-1-3 2-12-4-2 1-2 2-21-2-3 0 0-1-3 3-4-3-12 3-11 1-2-3-3 3-1 0-1 3 1 2 6-4 12 4 1-3 7 1 5 0 9 0 6 2 1-4 7 4 1-4 9 2 4-1 2 0 2 2 11-2 6 3 5 0 8-3-7 5-3-1-1 0-1 4 0-2-1 1-5-2-1 1-8 2-2-2-9-2-3 4-9-1-4-2 0-1-4 0-16 4-1-1-1-1-16 0-1 2-17 0 16 4 3 0 13-3 1 4 8 0 2-1 12 1 6-2 1-1 10-1 4 0 8 3 5-1 14 5-5-2-3 0-21 2-5 1-14-2-3 3-13-1-11-2-9-1-1 2-11 3 5 4 1-1 1-2 9 0 0 2 9-3 0 1 17 2 11-3 2 0 4 4 11 0 9-2 1 2 3-4 7 9-2-4-3 4-11-1 0-3-1 2-5-2-2 2-4-1-3 3-5-1-1-1-10 1-2-2 0-1-4 0-7 3-8 0-4-2-4 0-1 2-3 1-4-2-6-2-1 4 0 1 2 1 9 2 11 1 3-1 3-1 1-1 7 3 1-4 17 2 11 1 0 1 3 0 2-3 1-1 0 2 3-2 1 3 14-2 6 0 1 0-4 5-16 2-13-2-2 2-3 0-1-3-17 4 0 0-6-2-17 1-9-3-4 0-2 3-6 4 11 1 2 0 1 1 23-4 1 3 1-1 3 1 10 1 16 0 2-2 1 0 0 2 5-2 0 2 10-1 12 0-13 5-2-3-4 2-16-2-17 2-37-2 1 7 0 0 6 1 4 0 28 1 2-4 4 2 17-2 5 3-6 3-29 1-18 2-18 0-4-4 6 8 31-3-35 6-5-1"/>
<path class="m18" d="M319 819l-38 5-14 0-22 3 72 0 21 0-10 7-6 0-17-1-5 0-32-1-14 1 2 2 1 4 4 0 2-1 1-3 4 1 2 1 14 0 4 1 11-2 3 0 2-1 3 2 6-2 4 3 2-2 3 1 0 0 2 0 2-2 4 3 1-2 15 5-3 3-5-4-25 2-6 1-3 1-11-1-3-3-5 4-1 0-16-4-13 6 1 1 28 1 0 1 10-1 12-3 2 4 2-3 7 2 5-2 2 3 17-2 2 2 3-3 1 8-3-2-1-1-1 3-1 0-4-4-11 2-6 1-9 0-1 1 0-1-1-2-10-1-4 2-6 1-5-1 0-2-1 1-19 3-16 0-1 2 7 3 5-1 2-3 0 0 5 0 3 4 3-1 5-2 6 3 1-1 20-3 8 2 23-1 3 1 7 1-3 5-1 0-9-1-1 1-7 1 0-2-8 1-16 0-3-1-5 1-2 1-14-3-1 2-10-3-1 4-4 0-2-2 5 6 1 1 6-2 17 2 0 0 3-1 2-3 12 3 1 1 5-3 4 2 10-2 4 3 16 4-7-2-1 1-6 2 0-3-4 2-16-1-13 1-7-1-2-2-2 2-10 0-2 2-2 0-3-1-4 1-8-1-3-1-9 7 12-1 1-3 3 1 0 0 1 0 11-1 3 4 6-3 2 0 0 3 0 0 3-2 4 2 7-3 7 1 0 2 3-4 0 0 0 3 2-1 1-2 2 1 4 2 3 0 4 1 12-4 4 1-4 7 0-1-1 1-2-2-1 0-7 0-9-1-11 1-1 0-3-1-5 1-9 1-1-1-2 1 0-2-9 2-29-2 11 8 3 1 1-1 31-3 1 1 5 2 16 0 7 1 17 0 2-1 7-2 3 0-6 6-6-2-1 0-4 3-1-1-4-2-6 3-5 1-7-1-2-3-1 4-8-3-11 0-23 1-6 0-5 1 3 5 6-3 4 4 4-3 1 2 0 1 13-2 1 2 10-1 4 0 8-2 10 2 0 0 12 0 4-3-4 8-13-2-13 1-6 0-1 2-1 0-6-2-5 1-7-1-2 2 0-3-1-1-18 4-1-3-3 0-1 6 6 2 2-3 2-1 0 4 5-2 2-1 7 2 2-2 4-1 5 4 7-1 22 0 10 1 4-4 5 4 4-3 1 1-6 6-7-2 0-1-5 4-9-1-2-3-6 1-3-1-1 2-4-2-2 0-5 1-1 1-6 2-7-1-3 0-14-2-6 3-5-3 14 5 9-1 4 3 8 0 4 0 3-1 6 1 9 0 5-3 3 3 20-1 11-2-14 9-8-3-1 2-12 1-2-3-3 0-6-1-18 0-20 2-6 2-2 0 7 3 3 2 4-2 5-1 1 3 2-1 5-3 8 0 10 4-1 1-4 2-1 0-10-2-10 2-20 2 4 1 0 0 6 9-12-3-7 0"/>
<path class="m20" d="M331 929l5-4 2 8-1 0-12 1-16 0-8 0-4-3-35 8 9-1 1 0 8 1 2-2 14-2 26 2 15-2-2 6-3-1-2 1-1 0-42 0-1-1-1 1-4 0-6 3-1-4-12 0-7 4-5 5 1-4 1 4 5-4 11 2 0 2 7-3 5 0 4 3 9-2 0 2 1 0 5-2 14-1 10 0 7 6-13-1-3 1-1-2-4 3-7-2-1 1-4 0 0-2-1 3-13 0 0 0-7 0-1 0 0-1-3 0-2-1-2 2-11 1-12-2-7 0-1 0-14 3 22 0 5 0 6 4 2 0 22-4 3 1 1 0 20 1 13-1 2 3 7 3-3-2-4 0-7 1-18 3-2-2 0-1-5-1-1 2-36 1-16 1-1-1-9 5 5 1 1-2 0 2 9-4 9 2 0 0 7-1 14 1 9-2 31 1 2 3 1-2 1 0-3 3-13 3-2-3-4 2-1-1-13 0-5 2-2 1-9-2-1 2-13-4-3 6 31 2 2 0 2-1 0 1 5 1 9-4 5 3 13 0 1-2 1 4-3 4-2-1-41 1-3-2-2 2-5-3-6-1-1 3 4 5 22-2 1 3 16-4 14 1-7 5-4 0-2 2-15 1-12-3-3-1 7 5 11 0 6 0 11 0"/>
<path class="m21" d="M125 724l1 5-4-2-1 1-5 2 0 0 0 0 11 0-11 7-6 1-2 2 9 2 3-2 1 2 2-2 12 8-20-1-2 2-2-2-3 0-2 1-9 3 22 0 0 5-3 2 0-3-1 2-18 2 8 5 1-2 6 2 11-2 7 0-9 5-1 2 0-3-1 2-13-2-12 5 8 3 3-1 13-2 10-1-6 5-1 1-1 1-8 0-16 1 3 3 0 2 9-1 8-2-6 9-2-4 0 0 2 7 6-1 2 1 3 2 1-4 0 3 5 3-2 2-6-3-18 2-2-1-5 3 30 2 9 5-2 1-21 0-13 3 4 1 5-1 18 4 3-3-12 7-13 1 10 7 2 3 1-4 10 4 4 0 1 1-16 2-6 1-1 1 5 5 7-4 12 4 3 1-14 0-2 1 1 6 5-1 5 8-13-4"/>
<path class="m22" d="M341 795l21 10-5 0-11 0-1 8 5-2 0 0 5 3 18 3-8 0-29-1 16 6 18 7-14-1-1-1-2 2 0-3-11 4 10 1 15 1 3 0 6 2 2-4-14 7-4-2-14 7 8-1 5 3 7 0 5-2 5 1-6 3-6 0-9 1-1 1 0-3-5 2-4 5 8 2 6-2 1 1 8 1-7 3 1 5 2 4-13 0 5 7 8-2-5 4-1 3-2 4"/>
<path class="m16" d="M195 690l8 4 8 5-20-4-1 4-7-3-10 5 4 0 1 2 0 0 1-1 7 2 3 0 4-4 2 0 0 4 3-4 5 1 5-1 14 9-1-4-8 1-1 2-3-2-2-1-3 0-1 1-3 3-4-1-4 1-3-1-1-2-7 2-6 0-9 1-2-1 0-3-1 2-2 0-17 6 12-1 0 0 4 2 4-2 1-1 2 0 0 2 10-2 1 1 5-2 8 0 8 0 3 4 5-1 0 1 3 0 5-4 19 9-1-2-3 0-3 1-2-3-3 1 0 0-6 3-1-4-1 1-3-1-2 4-4-3-6 0-12 3 0-3-13 2-3-1-2 1-2-1 0-2-2 0-9 0-1 1-5 1-1-2-3 2-3 2-5 0-5 5 1-3 4-1 1 4 3-2 0 1 10-3 2 1 21 3 6-4 0 0 16 0 2 2 1-1 0 3 9-3 7 0 8 2 8-3 3 1 3 1 2 4-9 3-6-3-2-1-2 2-1-1-5 1-6 0-1-2 0 0-1 2-4 2-11-3-6-1-1 2-8-1-4 1-6-2-2 0-3 4-1-4-11 2-10-2-4 1-3 0-7 0-9 3 3 2 3 1 2-1 10 2 4-2 6 2 4 0 1 1 3-4 2 3 5-1 10 1 0 1 3-2 4 0 11 1 11-2 1 3 4-3 7 2 5-2 2 0 12 3 2-4 3 0 3 1 17 1-3 4-12 2-8-1-6 2-9-4-8 0-6 2-3 2-14 0-17 0 0-2-6-1-5 1-2-2-6 4-3 0-2-4-9 4-9-4-1 2 4 7 2-3 2 3 3-4 2 4 3-4 0 1 4 1 4-2 1 4 2-1 4-1 2 0 4 2 3-3 4-1 0 3 4-2 21 2 1 0 17-3 1 2 1-1 15-1 5 2 5 1 3-3 0 3 6-2 6 2 1 1-1 3-12-1-4-1-2 3-2 0-3-2-2 2 0-2-7 1-11 1-2-3-3 4-7-3-1 2-5-2-1 1 0 0-1 0-2-1-5 2 0-1 0-2-2 3-5-1-3 2-9-4-1 1-3 2-12 0 0-1-5 1-4-2-7 3 0-2-10 6 4-3 5 2 4-2 8 3 2-2 2 0 4 2 3-1 2 0 0 0 0 2 6-1 4-1 2-1 6 3 2-2 0 0 4 2 9 0 4-3 4-1 6 1 0 1 1-1 2 1 8 2 12-3 0 1 5-1 3 1 1 0 3-1 2 1 8-2 2 1-6 5-2 1-1-1-1 0-2 3 0-4-1 1-4 3-2-2-2-2-6 3-2 1-1-3 0 0-7-1-3 3-1 1-9-4-4 1-14 2-5-2-1 2-1 0-10 1-16-4-5 1 0 0-4-1-1 3 0 0 0-1-11-2-5 4-3-2 9 4 2 3 10-4 12 0 0 2 0 0 0 2 1-2 3 1 6-1 1 2 4-2 4-2 6 4 0 0 18 0 5-4 2 3 3-1 7-2 0 4 2-2 10 1 3 1 3 0 1-3 17 1 2-1-7 8-3-3-9 2-3-2-3 1-7 2-3 0-8-2 0-1-9 3-2-1-2-2-1 3-11-1-3-1-5 2-4-3-6 1-7-1-4-1-8 3 0-3-5 0-1 1-4-1-3 2-1 0-2 1 0-1-3-1-3-1-1 5 5 2 7-1 5 1 0 1 2 0 5-3 0 2 2-1 2 2 5-3 7 2 7 0 1-2 6 2 4 1 4 0 15-3 12 4 1-3 1-1 5 1 2-1 0 1 0 1 2 0 20-1 3 2 2 1 4-2 3-2 7 0-7 8-6-2-3 3 0-1-7-3-5 4-11 0-3-1-1-1-5-2-1 1-20 2 0-1-1-1-5 2-1 1-6-3-7 0-2 2-1-3-9 0-8 2-4 0-1-2-3 1-2 0-16-1 2 6 2 0 5-1 1 0 12 4 2-1 5-1 1 1 3-2 0 1 1-2 2 0 0 3 4 0 8-2 0 3 3-4 4 3 11-1 0 0 4 2 2-2 7-2 9 4 18-4 11 1 2 2 6 4-1 0-2-1-12 2-3 0-1 1-11-4-1 2 0-1-1 0-1 1-7-1-5 2-5-2-1 0-2 1-5 2-6-3-2 3-5-4-9 1-2 2-2 0 0 0-10-2-5 2-5 0 0-2-1 1-9-1-2 1-3 0-5 1-3 5 5 1 5-1 8-1 1 0 0 1 5-3 11 2 0 2 7-2 2-1 7 1 9 2 2-3 0 2 4-3 5 0 6 2 0 1 1 0 7-1 3 0 2-1 2 2 3 0 5 0 1-3 1 1 3 0 3 0 3 2 6 1 2-4 0 0 5 1 2 1 4-1 3 4-9 0-5 4-6-2-1-1-8 0-7 2-2-2-15-1-3 3-10-3-3 3-4-2-20 0-5 1-2-2-4 1-2-1-2 0-1 4-3-1-1-3-4 1-6 2-1-3-2 3-1 2 1 4 2-2 2-2 2 0 1 1 6 1 4 2 6 0 2 0 9-3 6 0 9 3 11-2 18-2 5 4 5-3 1 3 4-1 0 0 1-3 1 2 3 1 3 0 1-1 1 1 6-2 9 2 9 5-6-2-1 0-21 3-1-3-6 0-5 0-10-1-4 1-2-1-11 0-2 2-3 2-7 0-4-2-7-2 0 0-10 0-3 0-5 1-23 1 4 5 7 2 0 0 9-2 9-2 8 3 1 1 13 0 15-2 7 2 11-2 1 1 0 1 5-4 11 3 6-2 6 2 6-3 2 0 3 0-7 8-9 1-16 0-3 0-10-4-4 0-4 0-5 3-2 0-3 0-4 0 0-2-23-1-1 1-5 1-14 4 3 2 5 1 1-2 0 2 5-4 5 4 4-3 2 0 4 1 2-2 4 2 4-2 5 2 2 0 6 1 1 1 3-2 1-1 22 2 7-3 5 2 8-1 2 2 6-3 0 1 12-1-3 5-16 2 0 0-2-2-31 1-8 1-6-1-18 3-6 0-5-3-4 4 55 7"/>
<path class="m16" d="M190 693l9 1 8-1 0 5-3-3-34 9 4-4 8 3 3 0 8 0 0 1 26 5-1-3-2 1-7-2-10 1-1 1-1-1-5 3-1-2 0-1-5 3-3-3-1 1-3 2-6-1-13 1-10 5 8-2 10 0 12 2 4-3 3-1 4 2 0 0 8-1 1 0 9 1 22-1-7 8-4-1-4 1-3-2-21-1-1 1-1-2-1 3-17-3-5 4 0-2-3-2-4 3 0-3-2 0-1 3-3 1 0-4-1 0-3 3-3 1 0-1-9-1-9 6 2 0 3 0 9-3 2 0 0 1 3 3 7-1 11-1 3 1 2 1 1-3 0 3 4 0 3-2 1-2 3 1 7 1 7 0 6 0 1-1 3 3 7 0 8-2 1-1 6 1 1 0 8-1 9 7-4 1-10-4-1 1 0-1-1 0-2 3-1 0-6 0-4-2-1 0-2 0-6 3-9-1-8-1-6-2-16 2-10 2-3 0-5-3-1 2 0 0-12-2-2 3-9-3-8 4 10 2 4 0 5-2 3 1 0 1 0 2 1-1 2-3 12 1 11-1 4 3 1-2 3 0 9 2 3 1 1-4 2 2 7 2 1 0 5-3 0 2 1 0 8-2 1 3 2-4 2 1 1 2 7-3 1 0 3 2 18-2 4 8-7-3-2 0-1 0-2 3-3-1-2-2-2 4-1-3-5 3-10-4-2 3 0-2-2 3-4 0-5-4-5 2-11 0 0 0-6 1 0-2-1 0-3 0-9 1-2 1-2-1-16 2 0-1 0-2-2 1-7-1-2 1-2 0-1 1-17 1 12 2 0 1 13-1 1 1 19-2 0 3 7-1 10 2 2-4 6 3 4-3 1 3 5 1 1 0 5-4 10 3 3 1 2-3 2-1 1 4 1 0 3 0 1 0 4-2 2 2 4 0 7-1 2-3 1 2 1-1 11 7-7-1-5 2-1-4-3 2-5 1-14 0-1 0-13-3-1 0-7 4 0 0-2-4-17 2-4 1-2-2-5 3-3-1-11 0-5-2-8 3-1-1-13 1-4-4 7 6 9 3 8-4 3 2 1 1 1 0 6-2 23 2 5-3 1 1 1 3 1-1 9-2 0 3 5-4 3 4 1-1 2-3 0 1 5 0 1 0 10 0 0 3 5-3 14 3 0 0 8 5-8-1-10-2-1 1-4 0-1 0-14-1 0-1-3 2-2 0-1 1-3 1-10 0 0 0-3-2-4 0 0-2-9 3-3-3-1 2-3 1-2 1-12-1-1-2-7 3 0-3-10 2-12-3-2 4-2-1-2 0-1 4 13 0 10 2 2-1 5-1 4 0 1-1 1 3 8-2 2 2 3-4 18 4 1 0 5-2 12-1 3 2 2 0 1 0 1-2 5-1 2 4 1 0 7-1 3-2 0 2 2 1 1 0 8 0 4-4 0 3 2-2 2-1 2 1 0 3 4-1 2 0-11 6 0-2 0 0-1-1-10 2-14-1-5-1-2 2-3-2-14-1-1 2-1-2-9 1-1-1-2 2 0 0-6 2-1-1-1-2-2-1-6 3 0-3-2 1-18 3-6 0-1-1-1 0-1-2-5 2-1 0-1 0-1 0-7 1 9 5 0 0 5-2 5-1 1-1 0 1 4 2 1-2 8 3 1-2 17-2 0 1 1 3 19 0 3-4 5 4 27 0 11-4 5 0 1 4 3-1 2-3-3 9 0 0-7-3-1 2-15-1-3-1-8-1-3 1-4 3-5-2-2 0-2 1-3 0 0-2-1-1 0 0-5 3-3 1-1-1-1-3-6 2-13 0-3 1-1 1-9 0-7-1-1-1-2-1-3-1-2 1-3-1-1 1-3 2-1-2-2 6 0 2 2-3 10 1 1-2 3 3 5 0 11-1 11-2 3 1 14 0 5 2 1-3 1 3 2 1 5-1 2 1 8 0 2-4 2 1 1-1 3 3 2-1 0 2 3-3 4-1 0 4 3-4 8 3 2-2 1-1 5 2-6 6-1 1-3-2-1 1-1-1-2-1-4 1-3 2-6-3-6 1 0-1-5-1-13 4-4-3-8-1-1 1-4 2-5 0-1 0-5-1-7-2-16 2-5 1-15 0-1-3-3 1 14 4 0 1 3 1 1-2 0 2 6-2 0 2 5-2 5 0 2 2 5 1 1-2 1 2 3-1 6 0 9-2 8 0 15 1 2 0 1-1 5 4 2-3 4-1 3 4 6-2 4-2 1 2 4 1 7 5-4-2-5 3-1-2-1 0-12 1-1 0-1 1-3 0 0-1-5-1-4-2-1 4-1-2-10 2 0-1-3 1 0-1-7-1-3 1-3-2-14 1-5-1-4 1-4 2-1-1-4-3-1 2-3 2-1 0-3-3-14 3-2-2 2 6 2-2 4 0 13 3 4-1 2 1 9-3 3-1 0 1 2 1 3 0 8-1 2 2 7 1 5 0 1-4 1 0 3 1 6 0 2 1 2 2 4-4 6 0 2 0 2 3 14-3 10 2 2 2 2 0 9 4-3-2-7 1-1 2-11-1-6-1-2 1-1 0-4 1-4-2-3 2-4-4-2 3-1 0-1-1-1-1-4 2 0-2-5 2-6 0 0-2-11 1-5 0-6 1-2 0-3 1-2 0-3 0 0-4-7 1-4 0-2 2-2-1-16 1-3 4 14 0 0 1 2 0 5 1 9-3 10 1 1 0 3 0 13-2 12 2 1-2 4 0 20 3 1 0 2-3 3 0 2 4 5-4 4 4 12-3 1-1-1 7-1 2-13-2-7-2-7 3-7-3-4 3-6 1-1-3-4 3 0-3-24 1-1 1-1 0-1-2-1 0-5-1-8 0-1 3-3 0-2 0-1-2-14 0 9 7 10 0 5 0 15 1 11-3 9 0 10 1 4 2 2-3 4 0 3 3 10-4 0 0 5 1 3 3 5-4 0 3 5-2 2 3 3 5-24-3-1 2-13 1-24-1-1-1-1-2-11 0-26 0-2 2 0-2-5 2 30 4 42 0 5 0 38 4"/>
<path class="m22" d="M340 800l9 4 7-1 6-3 6 3 6 4-11 1-12 1-2-3-5 1 0 7 6-4 7 2 15 11-23-1 0-1-5 0 29 7-17 3-7-1 2 9 3-3 8-1-1 9-18 4 0 0 1 0 2 0 3-2 1 3 2 0 2-1 10 1 5-3 8-1-24 5 19 7-19 3-2 4-2-2-2-2-2 5 3 3 5-3 5 4 2-2 6 2-8 1-5 0 2 6 7 1"/>
<path class="m18" d="M246 824l-75 4-15 0-4 5 11-1 2 2 9-4 0 4 1-4 6 1 0 1 23 0 4 1 3-1 6-2 7 2 10 2 4-2 5 7-14 0-1-2 0-1-6 2-1 0 0-1-1-1-1 0-3 1-2-1-1 2-7-2-1 1-8-2-2 4 0-2-13 2-3-1-4-3-6 1-2 1-2 2-1-4-4 4 0-1-20-2-3-1-4 9 2-3 1 3 6 0 2-1 0 0 12-2 5 1 2-2 26 1 8 2 4 1 6-4 6 3 3-1 5-1 1 0 1 3 5-4 2 0 5 3 3-2 2 0 5 1 0 2 1-4 1 0 10 2-10 4-15 3-12-4-7 3-1-1-3 2-10-1-3 0 0-2-7 1-1 2-3-3-4 3 0-2-2 1-2 1 0 0-2-1-15-2-1 3-4-1-12 1-18 1 14 0 1 2 7 0 2 1 0 0 0 0 9-2 10-1 2 3 3 1 3-4 5 3 11 1 11-3 6 2 5 0 5 0 1 0 7-3 9 4 3 0 1-3 4 2 2 4-6-2-17 2-1 2-7-1-3-1-2 1-8 0-2-3-1 3 0-3-9 4-10 0-27-4-2 2-5-2-11 1 2 5 6 1 8-2 3 0 7 0 3 2 2-2 5 0 4 0 6 1 11-1 14 1 5 2 1-1 5 2 1-4 0 2 12 1 7-2 0 3 3-1 5 0-7 2-1 3-14-1-6-2-2 0-1 2-18 0-1-2-4 3 0 0-8-1-7 2-9 0-3-2-5-2-1 4 0-2 0 0-8-2-1 2-6 1-4 0 0-2-2 0-4 1-2-2 4 8 9-1 4-1 2-1 1 1 13 3 16-4 16 3 11-1 8-1 9-1 8 0 1 2 6 1 1 1 5 0 5 0 4 2-2 2-10 0-2-1-1-2-5 4-5-1-1-3-1 1-4-1-1 1-1 0-5 1 0-1-13 0-1 2-6-2-14-1-2 0-2 4 0-2 0-1-2 3-2-3 0 0-4 1-7 1-6 1-5-1-1 1-1-1 0-2-4-1-4 1-1 0-4 2-1 3 16 0 6-1 11 0 2 3 10-2 7-1 1 4 2-4 0 2 10-1 2 3 3-1 8-3 3 1 0 3 1-2 2-1 0 1 5 1 2 1 5 0 1-2 4 2 1-3 8-1 6 9-6-3-5 0-4 1-2 2 0 0-8-3-11 3 0 0 0-3-12 0-3-1-5 3-4-2-7 3-2 0-2-2-1-2-12 2-3-2-6 1-2-1-3 0-6 2-2-2-5 3-4-1 6 3 8 0 4 2 29 0 4 2 7-3 6-1 5 0 1 2 8 0 2 0 2 0 11 2 3-1 1-3 2 0 1 4 3-2 3-1 3 3 3 0 1-2 7 4-13 0-5 2-11-1-2 0-6-2-2 3-2 1-7-3-4 0-5 2-1 1 0-1-1-2-2 2-23-1-10 1-13-1-15 1 4 2 12 4 1-3 6 1 1 0 2-1 3 1 2 0 3-1 8 3 8-4 8 1 15 0 2 3 1-1 8-1 13 2 4-2 4 2 3-1 8 3-5 3-3-3-1-1-1 1-1 0 0-1-6 3-1 0-4-2 0 0-2 0-6 1-1 2-8-1-7-1-7-1-4 0-7 1-3 2-1-4-1 1-4 2 0-1-10 0-6 0-3-1-6 0-6 7 3-1 9-2 2 0 2 1 5 1 1-2 5 0 14 3 7-3 2 2 1 0 2 0 5 0 3 2 16-1 9-3 9 0 4 6-6-1-17 0-2 0-4 2-8 2-12-4-1 4-7-4-3 2-4 2 0-3-3 0-1 2-3-1-2 1-7-1-11 1 7 5 6-2 2 1 7 0 1-1 0 0 2 2 4 1 1-3 1 3 0 0 1 0 2-2 1 2 4-2 3 0 3 0 9 1 5-2 4 0 7 2 1 1 15-4 3 1 0 0 3 0 1 5-13 1-9 2 0-1-3-2-1 2-21 0-2 1 0-2-2 1-5 1-4-4-16 0-4 4-2-2-2-2 8 7 5 1 4 0 2 1 12-3 1 0 2 0 3 0 0 3 3-4 23 0 1 0 5 0 0 2 1 2 2-4 3 2 13 3-5 3-14-1-2 2-2-1-4-1-5-1-5-1-7 3-4 1 0-1-9 1-6-1-8 3 8-1 5 3 0 0 5 1 4-3 5 3 3-4 13 1 0 2 9-2 11 1 0 1 1-2-2 6-13-1-6-1-3 1-2 3 0-1-2-1-4 1-11-1-3-1-3 6 15-2 10 5-10 0"/>
<path class="m17" d="M330 747l7 17-5 5 9-1 3 0 0 0 16 7-16 2-1 0-1-2 9 9 4 3-5 0-1-1-3 4 46 9-20 5 9 10"/>
<path class="m16" d="M205 689l1 4-7-2-8 2-10 5 2-1 4 0 9-2 7 2 9 6-2 1-1-2-7 1-10-2-5 1-12-1 0 0-4 0-3 2-6 4 2 0 2 1 9-3 17 2 1-2 1 2 1 2 6 0 0 0 23 0-1 4-5 1-7-4-3 0-1 0-5 4 0-3-1 3-5 0-4-3 0 0-1 0-5 1-3-2-7 0-2 2-15-1-4-1-5 3-11 3 15 3 12-1 4 1 21 0 2-2 6-1 4 0 0 1 0 1 9 1 5-3 3-1 2 4 6 0 7-1 3 1 6 5-4-2-2-2-9 2-2 0 0-2-7 0-6 3-3-2-3 0-4 3-9-4-1 1-11 1-4-1-14 3-9 0-1-1-8-2-5 2-4 0-1-1-8 7 3-1 11-3 3 4 3-3 5-1 4 3 1-2 0 2 6 1 3-1 4 1 24-2 0 2 3-1 2 0 1-2 1 2 23-2 0 1 1 2 12-1 1-1 5 1 0 1 15 3-20 2-5-1-3-3-1 0-1 0-1 1-5 2-1 0-1 0-4-1-6-2-4 4 0-4-2 0-7 0-12 3-14 1 0-4-5 4-11-4-2 4-7 0-11-4-4 2-9 2-3 0-3 1 2 0 6 2 1 2 7-2 2 1 8-1 2-2 7 3 1 1 6-1 1 0 1 0 6-1 0 1 1-3 6 4 4-1 2-2 3 0 10 0 4 0 1-1 0 3 25-3 8 0 1 2 1 1 5-2 2-1 1 2 2-1 9 0 0 0 1 1-10 6-1 0-41-1-1-1-2 2-5 1-1-4-6 4-3-3-2 2-14-1-7-2-1 1-7 1-6 0 0-2-2 1-13-1-2 2-2 2 1 2 5 0 7 2 5-2 17 2 4 1 5-4 0 1 10 2 5-3 2 1 0 1 2-2 3 3 1-1 24 0 13 2 3-4 1 3 3-3 0 1 1 1 3-2 3 4 2 0 4 0 1-2-6 5-2-2-4 0-1 3-1-3 0 0-2 2-8 1-4 0 0-2-5 0-3 1 0 0-6-1-1 0-1 1-8 1-1-3-6 1-10 0-2 2-1-3-1 1-16 0 0-1-9 4-2-3-9 2-14-2-2 8 3 0 6-1 2 1 8-2 13 0 2-2 2 3 23 1 0 0 13 0 4-2 5 1 0 1 4-4 7 0 1 0 4 4 3-4 5 1 1 3 4 0 9 0 3-2 9 0-3 7-6-4-4 3-2-1-2 1-2-2-1 0-6 1-8 0-3 2-2-2-4 0-4-1-3 2-3-1-1 0-6 2-1-1-2-3-4 4 0-1-17-2-3 2 0-2-6-1-2 4 0 0-3-4-4 4-10-2 0 0-4 2-3-1-1 1-5-3-2-1-6 4-2-3 2 7 2 0 2 0 11-1 3-1 6 1 11 0 5 2 6-3 6 2 0 1 1-3 4 1 10 0 7-1 0 3 1-3 2-1 0 1 11-1 0 1 8 0 6 0 3 2 1 0 4-3 0 2 3 2 1 0 5-2 2 2 3-2 1 1 4 6-4-1-2-2-1 2-4-3-8 1-1-1-1 4-1 0-5-3-2 2-1-3-9 2 0-1-1 0-2-1-5 0-20 4-12-1-2-2-1-1-1 2-3 1-3 0-10-3-3 2-2 2-4-4-3 4 0-1-2 1-6-3-7 6 2 2 6-1 2-3 1 4 9-4 6 4 2-4 2 1 7 0 2 1 5 2 11-3 0 2 0 1 1-3 1 0 3 1 7 0 0 2 2-4 3 2 7 0 1 0 0 2 3-2 1-1 3 2 1 0 3-3 2 0 10 1 3 1 1-1 7-1 5 2 1-2-12 8-3 1 0 0-1 0-5-3 0-1-2 1 0 0-3 0-3 0-1 0-7 3-6-1-2 0 0-1 0-2-2 1-11 0-11 3-5-4-1 0-2 1-7 2-4-2-2 0 0 0-6 0-7-1-14 1-4 4 2 3 6-3 2 1 1 1 2-2 0 0 0 1 13 1 0 2 6-3 5 3 8-2 3 2 4-3 1 0 4-1 3 0 0 1 3 0 10 2 9-3 2 0 8 2 4-1 16 1 0 0 14 2 3 0-6 2-1 0-3 2 0-1-1 1 0-1-2-1-6 2-1 0-8-1-1-2-1 1-11 0-1 3-3-4-9 2-6-2-2 4-4-4-1 0-15 4-3 0-1 0-2-3-4 3-1-2 0 0-5-2-8 1-1 3-4-1-4-3-1 1-1-1-1 3-1-2-18-1 7 9 4-3 3 3 23-1 3-1 0 1 1-1 4 2 6-2 2 2 5 0 1 0 1-2 3 0 1 2 9-2 0 0 3-1 10 1 8-2 0 4 11-2 7 1 3 0 2-1 11-2 3 4 2-4 4 9-7 0-4-3-8 1-19 2 0-4-7 3 0-2-11 3-2-2-4 1-3 0-4 1 0-3-2 2-2 1-6 0-4 0-12-2-3 2 0-1-1 0-2 1-4-1-16-2-3 1-2 2-1 0-3-1-3 4 24 0 2 0 8 1 6-1 7 0 0 0 4-1 3 3 9-2 2-1 5 1 6-1 2-1 0 1 1 0 4-1 3 1 2 1 1 2 18-2 1-1 2-1 7 1 15 5-3 1-4-1-12 1-4 1-7-3-1 1-2 1-2-1-2-1-20 0-2 3-14-1-8 2-7-3-4-1-5 1-4 1-1 2-8 0-5-2-5-2-1 2 8 3 7 4 1 0 8-3 4-1 8 3 4-1 3 2 2-2 12-1 2 3 8-3 0 1 3-2 1 1 9 3 2-3 2 2 3-1 3 1 11-3 4 2 3 1 1 0 12-1 1-2-4 5-5 0-3 1-2 2-23 1-1-3-11 1-11-1-4 1-3 0-1-1 0-1-8 0-3 1-2 1-1 2-25-3-6 7 1-3 16 2 9-2 7 1 5-1 17 0 3 2 9-2 4 0 5 2 4 0 14 2 12-1 4 0 0 0 4-3 1 4-15 4-47-3"/>
<path class="m21" d="M122 729l6-3-2 5-5 5 0 2 6 4-18 2-8 4 2-3 14 3 2-1 4-2 0 2 0 2 7-2-4 7-25-4 10 9 2-4 8 2 2 2 1-1 1-2 1 1-3 7-8-4-2 1-12 0-6-1 2 7 13 1 2-1 5-1 0 1 1 2 3 0-3 1 0 0-16 4-2-2-1 2-6-1 4 4 3 1 20-2 6 7-9 0-6-1-1 0-2 0-5-1-3 1-4 0 15 3 3 1 2 3 4 1-5 3-3-1-12-1-3 7 9-1 3 2 2-3 0 1 11-1 6 8-4-3-3-1-3 2-10 2-1 5 2 0 1-4 0 2 19 5-2 0-7 1 0-1-2 1-10-2-7 7 4 0 2 1 9-1-2 4-7 7 2 0 7-4 1 4 5 3 1 6 1 1 6-3-16 5 10 8-3 4"/>
<path class="m18" d="M334 815l1 10-5 0-24 4-54 3 6 2 10 0 11-2 7 1 15-1 8-1 6 3 2-2 3 0 0 1 0 1 14-4 6 1 3 3-2 2-13 2-11 1-9-2-15 1 0-2-6 2-10 0-13-1-7 2-8-4-7 3 11 3 2 0 0 0 8-1 17 3 2-2 4-1 2 1 11 0 7 2 14-1 1-2 7 1 4 0 0 1 0 1 10 0 2 0-6 5-5 1-3-2-7-1-2 3-8 0-3 0-1-3-6 0-1 2-19 0-8-1-2 0-3-2-3 4-2-4-6 4-1-4-1 2-1-2-2 4-5-3-5 4 5 1 10 1 11 2 5-2 5 1 6-2 13-1 1 1 6 0 12 1 2 1 12-3 0 2 5 1 2-2 1-1 4 3 1-1 2 2 4-2 3 7-21-3-16 1-6 1-5-1-14 0-1 2-5-4-10 1-23 0-7 2 22 3 8 0 13 2 2-2 3-1 1 0 5 0 3 1 2 1 17-2 0 1 6 1 1 1 4-1 3-1 7 2 6 0-3 3-10-1-5 1-17 2-1-2-2 3-7 0-4-4-2 3-3 1-1-4-12 0-2 3-2-2-12 2-21 4 12-2 0 3 1-1 8 0 3 1 3-1 1 1 7 0 5-3 4 2 4 2 13-1 9-1 9-1 4 0 20 1 1-1 0 8-16-3-9 3-9-2-4 1-18-1 0-1-5 3-5-3 0-1-3 3-9-2-8 3-2-2-7 6 6-3 9 1 1 0 10 1 16 0 6-2 12 3 5-2 9 0 7 3 7-1 7 5-11-2-2 1-10 1-3-2-3 0-5 0-7-1-6 4-4-4-11 1-5 1-4-2-3 0-9 1-6-1-1 1-12 2 2 5 0 1 4-2 2-1 3 1 3-1 3 3 18-2 4 1 7 1 2 0 2-4 5 2 28 1 7-3-4 5-3 4-7-1-6-2-2 0 0 0-2 1 0-1-13 0-20 3-5-2-8-1-6 3-3-3-1 1-5-2 1 7 1-1 7 0 5 3 3-1 11-2 1 3 2-1 4 1 2-1 3 0 12-3 6 3 1-1 16 2 10-3 3 1 3 0-5 6-5-3-5 1-8 3 0-2-4 1-1-3-18 0-20 1-5 1-12 1-5 4 1-1 7 2 3-2 4 2 7 1 2-1 4-1 9 2 5 0 3-4 9 0 5 1 2 0 20 1 2 2 0 2-8 0-19 2-7 1-16 0-1-3-1 2-6 0-5 1-1-1-4 0-8-1-7-2-3 0-2 8 8-2 1-1 10 3 20-3 1 1 0 3 13-2 2-2 1 0 1 4 1 0 2-2 7 2 1-1 5 0 2-2 1-1 7 3-33 4-6-2-35 3-1 1-2 5 13-2 3-2 0 1 4 0 3-1 28 0-11 6-7 0-4 2 0-1-16-1-7-1-4 2-7-1 12 6"/>
<path class="m16" d="M255 744l16 0 37 2-4 2-8-3-5 1-14 2-12-3-3 3-5-3 13 5 7 3 5-3 18 2 8 2 8-1 5 1-7 2-15 2-1-2-8 0-7 3-20 5 5-4 3 4 4-4 28 3 1 1 4-3 3 2 7-1-1 7-6-1-6-2-3 3-1-3-8-1-12 1-1 0-2 2-3-2-15 1-3 3 6 1 1 2 6 1 18-1 4-3 5 4 3-4 9 1 10 3 29-1-27 6-2-2 0-2-23 0-3 0-5 4-15-3-2 0-1-1-2 0-13 8 11-3 1 3 12 0 9-2 27-1 0 2 30 4-8 1-5-1-5 3-14-4-6 2-6 0-1-1-24 3-32-1 11 2 1 4 0 0 5-2 1-2 13 3 4 0 39-1 5-2 11 3 19-2-12 4-7 3-13-3-2 3-11 1-18 0-12-3-1 3-2-3-5-1-3 4 1 2 1 0 12 0 23 2 18-2 11 2 1-2 0 7-9-3-16 1-1 1-4 1-4-1-2-2-4 4-12-2-18-1-6 3-3 2 20 3 4 0 2-2 6-2 14 0 12 2 0 1 7-2 7-1 2 4 10 0-37 5-1 0-2-1-5 0-2 0-6-3-10 2-13 5 2 2 6-4 6 4 6-4 2 3 16 0 4 1 15-4 2 1 2 3 1-2 3-1-9 8-36-1-8-1-3-2-17 0 11 6 2-1"/>
<path class="m17" d="M332 759l12 0 13 0 18 0-24 1-8 1-4 0-4 4 14 1 5 8-13 4 20-2 15 9-25 4-9 5 9-3 19 1-8 6"/>
<path class="m22" d="M352 793l12 4-18 4 19 7-20-2-6 0 22 6 1 0 1 1 3 1 10 4-6-2-9-1 0 0-14 9 10-3-19 7 10 5 17 1 16 0-20 4-12 6 2-1 4-1 11 2 4-3-2 7-9-3-4 4-4-3-8 5 20 5-5 1-11 0-6 5 9 1 6-2 3 3 9-1 0 3-2 3-2-1-8-2-5 6 1-2 6 9 0-3"/>
<path class="m16" d="M196 693l-1 3-6 3 0-3-1 0-5 2 0 0-4 0-4 1 4 2 0 2 4-1 7 1 2 0 4-1 14-1 0 0 11 8-1-3-19 1-7-2-3 4-5 0-4-2-6 1-7-3-6 1-2-1-14 8 5-2 5 0 0 2 4 0 19-2 0 3 12-1 2-3 6 1 3 1 1-2 3 2 2 0 3 1 2 1 1 0 1 0 3 0 1-4 1 2 1-2 0 9-7-1-3-2-3 0-5 0-1 0-6 3 0-1-9-2-2 2-1-3-2 0-3 0-5 2-1-1-11 0-4 1-1-2-5 3-4-2-1 0-4 2 0 0-1-1-19 7 2 0 12-2 1-2 6 4 12-3 14 2 1-2 7-1 6 4 8-1 2 0 0 1 3 0 1 0 2-3 6 0 19 0 6-1 3 4 2-2 3 1-6 6-1-3-3 3-1-4-2 1-1 3 0-2-2 1-1-3-6 4-4-2-14 0-2-1-4 2-8-3-1 1-2 0-17 0-11 2 0-3-7 3-2-3-2 1-6 2 0 0-4-1-3-1-8-1-2 9 7-3 1 3 2-3 3 1 5-2 4 3 2 0 10 1 1-2 3 0 0 0 2 2 20-3 1 0 1-1 3 4 2 0 6-1 7-3 3 3 7-3 3 3 0 0 1 1 1-1 2 1 5-4 0 1 1 1 2 0 1 1 2 1 3-1 1 1 4-2 2 0 8 1 0 1 4-3 0 1 3 0-6 7 0-2-2 2 0-3-3 2-1-2-1 1-6 2-4-3-5 1-4 0-3-1-2 3-4 0-4-2-1 1-4-3-4 1-1 0-13 3-2-1 0-3-1 4-1-4-2 1-7 0-4-1-1 1-4 1 0-1-1 3-2-1-1 1-6 0-4-2-1 0-2 0 0 0-1 1-1-2-6 1-17 3 4 2 2 1 8-1 1-2 0 1 8-1 2 4 2-1 5 1 14-4 7 0 5 2 3-2 6 3 1-2 4 2 0 1 3-4 0 2 1 0 2 2 1 0 9-4 0 1 2 1 1 1 0 1 3-4 10 4 3-4 1 2 3-1 11-1 1 2 0 1 8-3-2 6-4-1 0 0-1 2-2-2-13 3-7 0 0 0 0-2-8-1-1 4-4-3-5-1-5 1-3 3-13-1-5-1-5-1-5 0-4-1-15 3-3 0-7-2-5 1 0-2-2 3-2-1-3-2-3 3-6-3 6 9 3 0 1-3 0 2 3 1 2-2 13 0 10 2 3-3 1 3 1 0 4-3 2 1 1 2 2-3 0 2 8 0 4-1 2 1 5-3 6 2 0 1 10-2 0 3 3 0 13-4 2 0 6 2 7-2 6 3 5-2 1 3 1-2 3 4-4 0 0-1-17 2-6-1-1 2-21-1-5 1-4-3-14 2-1-2-4 4 0-4-5 0-12 4-3 0-2-1-11 1-1-2-6 0-3 1 0-2-10 8 3-2 8 0 0 2 2-2 1 1 15-2 8 1 2 1 4 0 4-3 4 1 7-1 0 3 7-3 7 0 4 2 1 2 2-2 2-1 6 3 9-1 21-3 1 2 14-1 3-1-6 8 0-3-3 3-5-2-3 1-8-1-3-1-3 3-10-3-24 0-2 4-6-4-5 0-13 0-6 2-11-2-1 1-7 0-1 0-4 3-2-3-7 3 0-4-4 7 1-2 12 4 3 0 9-1 4-1 2 0 20 0 1-2 1 0 2 2 3 2 5-1 2-2 3 3 3-3 7-1 1 3 1-3 2 1 1 3 2-2 10-2 9 1 2 0 1-1 3 1 2 2 7 0 10-2-1 7 0-2-1-1-8 1-4 0-26-1-5 2-17-2-1 1-2 1-1 1-2-3-3 3-8-1-8 1-2 0-7-1-17-2-2 3-8-1 4 4 1 3 3-3 2-1 4 4 1 0 2-4 14 4 2-4 1 1 10 2 6 0 10-2 0 1 2 2 1-1 3-1 1-1 2 2 1 1 16-4 2 0 0 4 16-1 1 1 2-2 13 0 4-1 1 2-7 5-3-1-4 0-5 1 0-2-11 0-1 0-2-1-8 4-7 0-1-1-3-3-2 4-4-3-1-1-11 4-2 0-16 0-1-2-2-1 0-1-2 4-15 0-4 0 0-2-1 2-9-2-16-2 12 7 2-1 0 2 0 1 6-3 2 0 0 3 4-1 13 0 6-3 7 3 5-3 9 3 4 1 4-2 4-1 20 3 2-1 4 0 2-1 2 1 2-2 7 1 3 1 1-1 12 1 3-1 4 1-10 2-11 0-2 4-3-3-2-1-4 1-1 0-1 0-3 2-18 1-7-1-6 0-4 0-8-2-8-1-2 3 0 0-2-3-2 4-4-4-7 4-9-3-6 3-8 2 5-1 7 4 2-4 0 0 9 2 4 1 2-1 1 0 5-2 1 3 14 1 1 0 8 0 4-4 0 1 0 1 4-2 11 0 2 3 1-2 0 3 2 0 5-4 1 2 3-2 7 3 1 1 5-3 0 2 2 0 6-3 0 1 6 1 4-1 6 8-6-2-2-2-20 4-1 0 0 0-2-2-4-2-5 3-4-2-5 3-1 0-10-1 0-1-1-1-2 1 0-2-6 1-6 1-1-1-15 3-15-3-4 3-3-3-3 3 0-1-7 1-7 2 0 2 6-1 9-2 2 1 9 1 9 0 0 2 2-1 10-1 12 1 1-2 0 1 1 0 3 1 0 1 12-3 0 1 4-2 32 4 1-4 13 8-4-1-4 0-2-2-6 0-4 3-22-3-3 3-3-2-12 3-2 0 0-4-7 2-2 0-3 2 0-4-2 0-4 3-10-2-3 1-4-1-3 2-10 0 0-1-7-2 3 5 4 1 2 1 14 0 0 1 3-2 7 3 1-2 4-2 13 3 12 1 1 0 11-4 1 1 10 1 4-1 1 2 7-1 4-1 3-1 6 1 2 3 3-2 3 1-1 5 0-3-1 1-5 1-34 2-32-3-2-1-1 1 15 7 5-3 28 2 4-2"/>
<path class="m21" d="M118 729l3 1-10 3 7 2 2 7-4 0-3-2-9 3-3 1 14 4 1-2 5-1 8 3 4-3-13 7-11 1-13 4 1 0 2-2 14 2 1-2 14 6-10-1 0 0-23 1 1 8 5-3 0 3 16 4-18 1 16 3 3 1 4 0-16 6-10-1-1 3 3 0 3-1 3 4 0 0 7-1 1-2 1-1 4 4 6-1 9 5-3 0-12 0-8-1-6 4 9 3 4-2 1 1 8 0 6 6-10-1-8 0-9 0-1-3 1 9 2-4 2 2 1 2 2-2 11 1 7 3-5-1-5 4-4-3-14 3-2 0 6 3 5-1 1 1 13 1-10 3-7 0-5 1 2 3 11 0 9 1 2-1 8 7-20 0-7 0 0-2-1 1 2 7 10 0 2-2 4 2 7 6-4 0-5-2 1 5 6 4 0-1"/>
<path class="m18" d="M325 824l-42 3-23 3 1 2 45 2 4 0 6-4 0 0 8 4 9-2 4-1 6 5-3 0-9 3-2-4-6 1-12 0-11 1-11 2-3-1-1-2-12 3-3-2-10 1-3 0-8-3-3 2 9 6 9 0 4-1 2-2 6 3 3-2 4-1 3 1 5 1 8 1 1 0 4-1 1-2 12 0 2 0 8 2 14-1 1 2 5-3-3 9-1 0-8-1-7-1-5 2-4-1-3-1-3 2-10-3-6 2-12-1-10 1 0-1-4 0-1-2-21 0 9 8 11 1 6-4 5 1 11 1 0 0 0 0 1-1 0 3 2-2 0 2 4-4 4 2 9-2 7 4 2 0 13-2 1-2 12 1 3 6-1-1-13 1-7-1-13 3-8-4-1 4-10-1-2-3-3 3 0-3-6 0-5 2-5 1-1 0-11-2-6 2-2 0 6 3 6 0 2 1 5 0 12 2 24-3 8 2 7-3 2 3 3-3 1 1 2 1 4 2 11-2 4-1-12 5-7 3-1-4-14 3 0-3-4 1-2 0-6-1-3 4-1-3-4 3 0-4-3 4 0-4-7 2 0-1-5 2-6 1-4-4-4 4 0-1-3-3-7 2-6 0-12 4 30 3 18-2 3 0 3 0 6 2 23 0 12-1 1-3 1 1 0 2 1-3 0 4 15 5-12-1-5-3-2 2-2-1-3 0-19 1-5 0-1 2-9-1-3-2-16-1-19 2-1 2-2-2-6-2 6 8 6-3 0 1 17 0 1 3 5-2 6-1 4 2 0 1 1-2 1 1 1 1 5-3 1 2 4-2 2 0 9 3 3-1 6-1 3 1 4 0 7-1 6 7-2-2-14 1-16 0-6 0-1 0-21-3-1 3-4-1-1 1-14 0-2 1-1-2-2 2-5-1-2-1-3 1-4 0 7 3 9-1 6 0 6 4 2-4 2 4 3 0 15-4 2 2 1 1 1-2 1 0 8 3 3-3 2 2 23 1 3-3 0 2 2-2 4 4-9 1-3 1-15 1-4 0-9-2-8 2-7 0 0-3-1 0-2 0-3 4-4-4-9 3-3-3-6 4-2-1-12 0-6 2 7 1 0 3 8-1 6-1 9 1 9 0 19-1 10 2 8-4 1 4 2-4 1 0 2 2 0 2 7 0 8 3-11 2-4-4-3 1-12 1-2 2-5-3-13 3-1 0-13-4-9 0-13 4-1-1 7 2 2 3 1 0 5-3 2 4 26 0 13-1 21-3 8 4-26 4-3-3-16 4-5-4-4 4-10-1-4 0-10-2-11 6 5 0 1-2 2 0 6 2 2 0 2 2 2-2 8-1 3-1 2 3 0 0 9-3 2 1 12 0 13 1 1 1 2-3 8 4 5 0 4-4-10 7-8 0-13 0-6-2-5 3-28-1-4-2-13 1-2 6 31 3-13 2 0-2-12 0-6 3 0 0"/>
<path class="m18" d="M174 822l-43 7 6 1 4 1 10 3 10-1 9-1 2 1 2 0 0 1 6 0 20-2 2 0 12-1 17 1 16 3-23 1 0-1-2 3-6-2-2 1-2 2-4-4-2 3-10 0-2 1-10 0-4 0-7 0-11-1-1-3-2 0-2 2-17 2-8-1-4 4 8 2 14-1 3-3 2 0 0 1 0 1 2 2 7-2 0 2 1 0 3-4 2 4 5 0 4-1 8-2 5-1 1 0 6 0 3 3 1-2 6-1 3 0 4 3 0 1 1-4 2 1 8-1 0 4 2-4 6 0 1 0 3 0 4 4 7 0-2 3-7 1-1 0-1-3-6 1-6 2-1-2-1 3-4-2-11-2-3 2-8 1-1-2-1 0-2 1-7-2-2 1-4 2-5 1-1-3-8 2-1 0-7 0-2 1-1-2-1 0-16 0-7-1 9 7 4-3 2 4 10 0 3-3 0 2 1-3 1 4 3-1 7 0 1-2 9 1 8-2 3 0 4 1 2 0 0 2 14-2 8 1 6 0 0 1 3-3 10 4-1 5-4 0-3-2 0-1-2 3-3-2-1 0-3-2-6 2-4-2-5 1-1-1-2 1-1 2 0-3-5 1-11-1-1 0-4 3-4 1-5-2-15 2-7-4-5 2-9-1-5 6 4-1 10 0 9-1 2 3 5-2 0 3 2 0 6-1 3 0 3-1 8 1 1-3 1 0 1 3 3 0 2-2 2-1 0 2 1 0 1-1 1 1 4 1 0 1 3-4 3 3 0 0 5 0 6-2 1-1 5 1 3 0 13 3 3 0 4-2-5 3-3 0-4 3-3-3-15 1-1 3-5-2-4 2-15-2-6 2-7-4-11 1-8 0-4 1-8 2-4-1-1 1 0-2-9 2 7 1 2 3 9-1 9-1 0 2 1-1 5 2 4 0 4-4 9 0 9 3 7-3 10 4 2-4 17 1 1 2 6 1 7-2 0 1 0 0 5 6-9-1-4 0-5 0-4 1 0-3-12 0-5 2 0-1-3-2-1 4-1 0-5-2-5 1 0-2-5 0-3 1-8 1-3-1-7 0 0-2-2 4-30 0 0-3-3-1 1 5 2 1 1 3 1-3 8 0 1 1 5 0 3 0 4 1 4 1 8-4 3 3 15 0 13-3 4 0 7 1 6 1 5-2 9 3 2-1 7-1 6 7-7 1-2 0-11-1 0 0-6-2-1-1-2 1-1 0-6-1-8 0-11 4-8-3-2 2 0-2-2-1-2 0-10 0-9 1-3 0-14 1-1 1-4-1-1 2-2-4 2 7 1-2 2 3 0 1 1-4 1 3 3-1 9 2 2 0 1-4 0 1 2 3 2-1 9-1 1 0 0 0 4-2 1 3 8-3 2 2 8-1 1 3 3-4 1 2 2 1 3-1 2 1 4-2 9 0 2 0 0 2 6 1 0 0 12 0 5-2 4 1-28 4-4-1-7-1-6 4-4 0 0-3-4 0-1 1-10 2-2-1-4-1-4-1-2-1-4 4 0-4-3 2-9-2-6 2-1 2-3 2 15-1 5 3 3 1 5-3 0 2 4-1 2 1 1-2 9 2 2-2 2-1 16 1 2 2 0 0 7-2 0 3 1-2 34 2-11 5-8-2-3-1-8 0-5 0-4 3-2-1 0-2-4 3-3-2-12 1-1 0-2-2-16 3-3-3-11 1-5-1-1 2-1 1-4-4 11 5 8 1 2 2 1-1 2-2 0 0 3 2 3 2 2-1 30-1 14-1 4 1 1 1 5 3-2 3-3-4-3 2-11-2-2 3-1 1-6-4-5 1 0-1-3 3-1-2-2-1-4 2-2-1-4 2-1 1-4-1-6-1-11 2-2-3-1-1-1 3-1-1-6 0 16 3 4 1 3 2 1-1 4 1 5-2 18 2 1-2 0 1 4-1 1-1 10 1 1 2 4-3 2 3 2-1 0 0 4 0 5-2 1 2 0 4-6 1-8 0-4 1-5-1-10-1-3 3 0-3-4 1-12-1-1 2-5-1-8 1-2 0-14-1 26 4 1 1 2-1 10 0 10 2 5-1 2 0 2 0 2 1 5-2 1-1 5 0 7 1 5 1 0 1 6 3-3 0-1 0-11 0-7 1-8 0-2 0-2 0-7 0-2 0-13-2-1 1-2 0-3 2-1-3-6 2 21 3 1 2 13-1 2 0 2 3 4-2 0 2 1-4 1 3 3-3 4 0 0 3 2-3 0 3 6 3-11-1-5 2-3-1-4 3-5 0-1-3-7 2-6-3 8 7 7-2 28 6-31-1"/>
<path class="m16" d="M254 744l4-1 22 0 2-3 8 3 7 1-13 2-8-1-1 1-1 1-28 5 21 2 3 0 15-4 11 4 4-4 12 9-34-4-8 3 0-2-4-1-17 3 10 2 12 2 1-2 17 2 4 0 21 2 19 1-23 4-17-2 0-2-10 0-6 3 0-1-12-2-9 1 14 7 1-3 3 4 2 0 1-3 18 2 7-2 15-1 21 1-4 7-5-2-22 2-1-3-20 0-1 4-4-2-1 1-1 0-14 2 14 4 2 0 11-2 4-1 5-1 1 2 19-1 16-1-11 9-4-2-3 0-3 1-33-3-16 4-3 0-3-2 5 7 4-1 10 0 6 0 2 0 3 1 2-4 3 3 4 0 1 1 9-1 4 1 11 0 10-3 1 3 4 2-13-1-11 3-1 1-18-3-10 3-8-2-1 2-7-2-6 0-16 7 17 0 12-3 6 1 9-1 2 0 2 2 7-3 25 0 12 1 5 5-9 3-3 0-1-3-8 3-1-2 0-2-14 3-20-1-20 2-4 0-12-2-1 6 9 0 7 0 7 0 6-2 7-1 13 3 2-2 4-1 7 2 4-2 8 2 2 1 8-3 9 8-14 0-1-3-8 1-15 1-3 1-7-2-3 2-15-3-7 1-7 7 28 0 11 0 2-3 7 0 1 4 9-4 9 1-25 4-5 4-17-4-3 0-32 5 23 3 52 0-64 6"/>
<path class="m22" d="M355 788l2 4-15 6 12-2-6 6-6 2 0 0 17 1 6 3 5 5 0-1-3 1-9-2-3-1-10 4 23 1 9 8-10 0-25 2 7 3 28 3-1-1-17 1-8 2-3-3-6 2 9 3 9 1 0 2-1 5-8-2 0 6 13 2 9 5-11 0 0-3-7 2-12 1-2 3 27-1-10 5 0-1-1 4-12-3 7 8 9-3 2 2 2-2-5 5-1 1-3 5"/>
<path class="m20" d="M307 922l8 7-35 0-11 5 4 0 8-2 11 0 2 0 2-2 0 1 3 1 1-1 13 3 22-3 0 1-10 7-3 0-40-4-11 3-15 6 21 0 8-3 2 3 12-3 2 2 4-2 14 2 11 5-8-3-6 3-2-3 0 0-1 4 0-2-16 2 0-4-3 4 0-4-4 4-6-4-3 4-6 0-10-3 0 0-15 2-16 5 3 1 13-1 13-2 5 1 1-1 14 0 1 0 1 1 34 2 9-4-13 6-4-1-13 4-1-4-1 4-4-2-22 1-7-2-8 1-7 0-4 1-2 0-1-2-7 1-8 2 5 2 3 2 3-2 17 1 3 0 8 2 1-4 1 4 3-2 8 1 4 1 37-2 4-1-6 6-6 2 0-2-15-2-6 3-3-2-6 2-6-1-2-1-1 3-1-4-25 3-1-1-12 2-5 4 4-1 22 1 6-2 4 3 6-1 12-1 14 0 8 1 4-2 8 2 3-2 1-1-21 9-12-4-4 3-13 1-1-4-12 2-12-2-14 0 19 5 9 2 1-2 8 0 6 3 5 0 9 0 3-1 6-1 17 0-4 7-19-2-13 2-12 1-9 0 5 1 3 1 2 2 1-2 4-1 2 2 5 2 6 0 11 0 2 0 11-3-33 6 12 3"/>
<path class="m17" d="M321 746l15 13-2 3 2-1 10 6 27 6-2 2-22 9 25 5-11 0-21 2 12 0 23 1-6 4-16 4 24 2 10-1-23 5"/>
<path class="m18" d="M174 824l24 5-3-1-21 0-42 3 8 3 9-2 2 1 9 0 12-1 3 0 11 1 47 1 12 5-16-2-4 2-3-1-7-1-2 2-2-2-11 2-3-3-2 1 0-2-6 4 0-1 0-1-22-2-10 3-1 1 0-4-3 3-10-2-2 0 0-1-2 3-8 6 4-1 5-3 8 0 3 3 0 0 4-1 2 0 19-2 0 2 0 1 6-3 9 4 5-2 2-1 0 1 2-2 7 1 10 3 1-4 0 0 1 2 10 0 3-2 4 1 3 3 9 0 4-1-16 5 0-2-1 1-4-2-1 3-15-3-1 3-3-2-2-1-3 2-1 2-6-1-1-3-5 4 0-3-2 3-1 0-6-3-3 0-9 2-3-3-4 3-4-3-1 3-2 0-11-3-5 2 0 0-1-2-5 3-1 0-2-1-1 2 7 5 1-4 17 4 2-4 1 4 4-4 0 4 7-4 2 4 9-4 0 1 3 3 6-1 1 0 4 0 9-2 0 0 5 3 5-2 1 0 2-1 0 2 4-1 8 0 14 2 1-2 3-2 0 3-10 4-1-2-1 2-5 1-1 1-2-1-8-2-9 1-4 0-3 0-6 0-8 2 0-1-10 0-4 0-4-2 0-1-3 2-4-2-4 4 0 0-2 0-5-4 0 0-3 2-3-2-6 2-15 1 11 2 1 0 5 2 2 2 1-3 6 1 2 0 2-2 2 4 1-2 5 1 5-1 4 2 12-3 0 1 13 0 2 0 4 0 32 2 1 0 1-3 10-1 4 5-11 1-10-1-2 0-2 0-1 3-2-3-2 4-10-3-6 2-2 1-1-4-3 2-4 2-5-1-13 0-18 1-7-4-14 3-5 1-5 0 9 1 4 2 3 1 6 0 8-3 0 2 2 0 7 2 10-1 9-1 14-1 2 2 18-1 1 0 4 1 2 0 3-3 5 2 11-1 3 8-2-3-9 3-6-2-11 0-1-1 0-1-2 3-1 1-1-4-1 4-1-2-8-1-3 1 0-1-5-1-8 2 0 0-16 1-3-1-6 0 0 0-8-1-5 3-8 0-3-2-2 1-1 0-1-2-2 0-1-1 1 5 3 1 1-1 18 3 0 1 4-1 11-3 6 4 4-4 7 3 3 0 4 1 7-1 4 1 7 0 1 0 2-1 3-3 6 0 1 3 6 1 8-1 3-2 1 1 0 2 2 1-17 4 0-1-1 1-8-1-6 1-7-4-4 4-1-4-6 2-1 2-14-1-2 1-5 0-1-1-1-2-4 1-7 1-1-3-2 2-6 2-7-2-1 2 3 1 7 2 0 1 16 1 11 0 5-4 8 2 0 0 2 0 0 2 7-3 6-1 5 3 4-3 3 4 7-4 0 0 1 2 2 0 2 2 1-1 1 0 3-2 1 1 1 0 4 1 10-1 3 5-10 1-11-2-4 1-1 0-1 0-1-1-1-1-8 2-3 0-4 2 0-1-7 0-3-3-10 4-3-3-2 2-2 1-1-1-6 0 0-2 0-1-1 0-2 0-1 3-2-2-16-1-10 2-3 1-1 0 1 5 5-2 4 0 5-1 1 2 5 0 2 0 7-2 4 2 3 0 8-1 3 0 1 2 3-3 1 1 7 0 8-1 2 0 11 4 4 0 25 5-9-2-6 2-3-1 0-3-13 1 0-1-7 2-3-1-1-1-22 4-8-2-6 1 0-3-16 3-11 0-7 1 6 4 3-3 2 3 8 1 3 0 5-2 3 0 32 1 6-1 9-2 11 2 1 2 1 0 1-4 0 2 0 0 2 2 4-2 12 7-9-2-4-1-5 0-3 0-1 0-1-1-2 3-2 0-4 1 0-4-8 4-15-4-7 1 0 0-1 1-18-1-3 3-10 2 2 1 17 0 1 1 2-1 5-1 3-1 8 1 5 2 4 0 3-2 7-1 10 4 6-3 5 0 2 1 6-2 8 2 3 1-9 3-2 0-9 3-7-4-2 4-2-2-1 1-12 1-3-3-3 3-3-1-5-1-1-2-6 3-2 1-5-1-8 1-5-1 7 5 2-2 25 0 2-1 0 4 9-2 8 0 5-1 0 0 1 0 0 1 2 2 9-1 2-2 3-1 6 3-5 6-6-4-1 0-1 4-4-1-6 0 0-1-3-2-10 4 0-4-6 1-3 0-3-1-5 1-20-1 1 9 14-1 11 1 7-2 5-1 2 3 4-4 6 3 2-3 12 0 0 2-16 4 0-1-5 3-21 1-4-2-3-1-7 0 11 5 4-1 11 4 9-4 7 4 6 1"/>
<path class="m16" d="M261 733l-13 4 14 3 10 3 11 0-9 4-20 3 9 1 4-1 1 2 0 0 16-1 28-1 4 4 3 5-12-3-9 0-5 1-5-2-15 3-12 0-2-1-2-2 0 5 2 4 9-4 0 2 8 2 13-4 2 1 9-1 3 1 1 3 1 0 7-4 2 2 13 2 1 0 7-4-9 5-16 4-2-2-1 0-17-1-7 3-19-2-3 0 2 4 0 3 1 0 2-4 8 0 0 0 20 2 1-1 2-1 2 4 9-4 15 8-4-1-13-2-13 1-1 3-1 0-15-3-2-1-10 3-2-2-1 5 1 0 18 1 14-2 0 2 1 0 9 1 1-2 9 0 20 2 5 3-5 1-3 0-12 2-1-3-17 1-24 0-11-1-12 2 0-1-9-2 11 9 10-4 9 1 11-1 1 3 10-2 7 2 1 0 1-2 34 4-11 3-22-3-6 0-20 2-8 1-15 1 17 1 5 2 3 2 1-1 1-1 11-1 32 1 3-1 5 1-2 4-6 2-2-3-2 3-9-3-1 0-7 3-2-2-1-1-9 2-3-1-2 0-1 0-11 1-21-2 41 9 7-3 15 0 10 3 3 1-3 3-9 1-1-3-11 3-8-3-12 2-22-2-19 6 23-1 30 1 0 0 16-2 11 0 5 3-23 3-1 1-10 1-11-3-3 2-9 2-10-4-10 0 1 8 4-2 70 0"/>
<path class="m19" d="M259 669l10 0 7 4-9 0-13 0-25 5 12 0 5-1 11 2 1-2 6-1 6 1 5 1 9-2 2 3 11 4-4-1-1-2-1 1 0-1-21 2-33-2-1 1-3 2-8-2-25 8 6-1 1 1 8 0 1-2 2-1 2 0 4 1 0 2 1-4 2 3 3 0 3 1 15-3 5 3 8 0 16-4 0 2 2 0 4 2 1-3 1 1 2-2 7 4 1-2 3 2 0 0 6-2 2 2-3 4-1 1-4-4-5 1-2 3-13-3-2 2-4 1-2-4-5 3-6-1-9 0-1-2-17 0-8 4-3-1-9-2-3 1 0-1-3 1-18 2 2 2 9 0 9 2 7 0 10-2 3 1 11-2 10 3 5-1 2 0 15-1 6 0 9 0 9 1 1 0 10 2 6-4 0 4 7 3-10 0-14-1-4 0-5 2-6 0-8-3-3 1-9 0-3 1 0-2-1 2-2 1-23 0-5 0-11-2 2 7 2 0 2-1 9-1 0 2 11-2 0 3 4-1 3 0 6 0 4-2 9 3 4-1 9-3 5 4 4-3 0 3 5-4 9 0 3 0 8 2 3-2 0 2 1-1 2 3 2-4 3 6-5 0-4-1-2 2-3 0-19 1-1 1-7-2-6 2-5-1-14-1 0-2-4 1 0 0-17 3-8-4-26 2 28 3 17 1 6 2 8-2 9-1 6 3 3-3 7 0 6 3 1 1 14-2 1 0 0 1 1-2 5 3 6-1-10 6-14-2-4 2-3-2-5 2-7 0-2 0-9-4-1 2 0 0-1 1-3 1-6-1-7 6 6-2 12 1 8-1 1 2 16-4 2 0 2 2 4 1 9-3 1 1 13 3 7-3-7 6-12 1-3 0-2 1-8-1-11-1-1-2-3 2-14 2-3-3-2 3 13 1 9 3 4-1 11 0 11 1 0 1 6-4 4 2 5 3-3 0-4 1-3 3 0-1-2-1-6 1-1 0-2-2-1-1-1 0-1 2-23 1-3-2 27 6 3 1 2-2 3 1 3 2 4-3 3 1 2-1 5 0-8 7"/>
<path class="m20" d="M281 929l22-2 26-2 1 3 5 4-1-1-5-1-10 1-26 3-13-1-19 0 35 5 9-3 0 1 4 0 2 1 1 2 12-1 8-1-5 4-11 0-2 2-4-2-2 2-9 1-3 0-5-4-3 1-2-1-6 1-3 3 0-3-6 0-31 6 3 1 14 0 25-3 12 0 22 3 6-3 4 1 0 1 5-1 2 2 1-2-12 5-16 3-6 0-5-4-6 4 0-4-13 4-15-3-6 1-2 2-2 0-13 3 3 2 2-3 11 3 3-3 1 3 9 0 1-2 5-2 6 1 6 0 4 0 8 3 7-4 8 0 4 0 5 4 8-4-9 7-1 1 0-1-9-1-7 0-7 3-13 0-1-2-7 2-3-1-6-1-1 2-4-1-5-3-6 4-1 0-2-1-11 5 11 1 10-1 8 1 4-1 1 1 5-4 21 1 2 2 3 0 2-1 14 2 2-4 2 0-3 9-28-2-3-2-3 0-1 1-14 2-8-1-8 2-9-4-4 0-15 1 15 4 34 3 2-2 10 1 0 2 3-3 2-1 7 2 6-1 2 0-14 6-1-1-28 2-4-3 9 6 0 2 15-1 3-1 0 0 7 3 9-1 10-3-5 5-6 4-26-3-6 2-1-3 25 9-12 2"/>
</g>
<g transform="scale(.5)" stroke="none" fill="none" filter="url(#bl)">
<path class="m23" d="M246 774l9 17-4 3-8 3"/>
<path class="m24" d="M359 729l10 0 2-2 2 0 9 1-14 2-6 4-1-2 2 6 2-1 2 2 4-4 1 2 7 5-3-2-6 2-2 1-5-2-4 3 8 1 4 1 11 1-12 7-4-4-9 0 9 5 5 1 5-1"/>
<path class="m23" d="M233 784l18 6-8 7-2 3"/>
<path class="m25" d="M402 804l7 0 4 0 5-2-8 6 0-3-2 4 0-3-1 0-1 3 0-2 0-2-1 1-1 1-2 4 3 1 1-1 2 0 2 1 3 1 2-1 5-1-8 4-4 7"/>
<path class="m24" d="M377 718l-10 13 1 4 1 0 3 0 2 0 1 4 2-4 1 0 0 3-5 4-3 2-1-1-5-2 0 5 1 0 2 2 3-3 3 3 1 0 1-2 4 0 3-1-13 5-3 5 0 4 5-4 3 3"/>
<path class="m23" d="M248 772l-1 8 0 6 11 1"/>
<path class="m26" d="M104 654"/>
<path class="m23" d="M247 780l1 3-11 15 3 18"/>
<path class="m24" d="M370 725l8 6-13 0-5 4 9 1 3 3 15 5-9-2-1 1-6 0-3 0-2-1 0-1-3 3 0-1 3 2 0 1 1 2 0 0 2-3 0 4 3-3 0 1 1 1 2-2 6 5-6 0-10-1"/>
<path class="m24" d="M365 726l16 3-3 3-1-2-5 4-1-4-3 1-7 4 2 2 5 1 1-3 0 0 4 1 2 2 8-1-6 4-1 0-1 3-2-1-4-2-1 0 0-1-2 3-4-3-1 6 9-1 4 8 8 2"/>
<path class="m26" d="M154 684"/>
<path class="m25" d="M404 796l15 8-1-2-10-2-2 4-1-4-2 5 0 1 5 3 1-4 1 0 3 1 6 2 0 0-5 5-2 0-1 1 0-2-1 0-1 1-4-1-8-2 7 5 4 3"/>
<path class="m25" d="M400 794l8 2-3 6 3-1 3 1 2-1 5 6-4 0-2 2 0 0 0-3 0-1-1 2-1 1-2-2-6 3 0-1-6 0 8 3 2 0 8-1 2 1 1-1-2 10"/>
<path class="m25" d="M405 800l3 4 0 0 6-3 6 0-4 6-1 2-1-2-1-2-1 2-1 2-6-1-1 3 1 2 2-2 2 0 3 3 1-4 6 3 3-3-10 7-3-2-1 1-4 1"/>
<path class="m26" d="M110 662"/>
<path class="m24" d="M364 732l0 2 7-4 15 4-11 4-1 1-8 0-6-2 2 5 2-1 1 0 3 2 1-1 0 2 2-3 4-1 1 4-1 4-8 1 0-1 3 4 0 2 1-3 7-1-3 5-7 2-4 1 7 3"/>
<path class="m26" d="M100 650"/>
<path class="m25" d="M406 804l1-4 2 0 0 2 0 2 6-3-2 8-4 0 0 0 0-3 0-1-2 3-4 0 0-1-1 2-3 3 2-1 3 1 0 2 3-3 3 0 4-1 5 3-11 3"/>
<path class="m23" d="M258 777l6 9-11 3-4 3"/>
</g>
<path d="M159.6 193.3L160.3 199L161.6 203H157.6L158.9 199Z" fill="#5a2878" fill-opacity="0.85"/>
<path d="M106.9 97.7C107.5 95.1 108 91.8 108.7 88.5C109.4 85.2 110.2 81.4 111 78.1C111.8 74.8 112.5 71.7 113.8 68.8C115 65.9 116.6 63.3 118.5 60.8C120.4 58.3 122.7 55.6 125.4 53.8C128.1 52 131.1 50.9 134.6 49.8C138.1 48.6 142 47.7 146.2 46.9C150.4 46.1 154.8 45.5 160 45.2C165.2 44.9 172.5 44.9 177.3 45.2C182.1 45.5 185.3 46.1 188.8 46.9C192.3 47.7 195.2 48.4 198.1 49.8C201 51.1 204.1 53 206.2 55C208.3 57 209.6 59.2 210.8 61.9C212.1 64.6 213 68.1 213.7 71.2C214.4 74.3 214.5 77 214.8 80.4C215.1 83.9 215.4 88.3 215.4 91.9C215.4 95.5 215.4 98.9 214.8 101.9C214.2 104.9 213 107.3 211.9 110C210.8 112.7 209.8 115.2 208.5 118.1C207.2 121 205.5 124.2 203.8 127.3C202.1 130.4 200.2 133.6 198.1 136.5C196 139.4 193.7 141.9 191.2 144.6C188.7 147.3 186.6 150.8 183.1 152.7C179.6 154.6 173.8 155.2 170 155.8C166.2 156.4 163 155.9 160 156.4C157 156.9 154.2 157.3 152 158.6C149.8 159.9 148.5 161.9 146.5 164C144.5 166.1 141.6 171.5 140.2 171.2C138.8 170.8 139 165.1 138.1 161.9C137.2 158.7 136.4 154.5 134.8 151.8C133.2 149.2 131.1 147.4 128.8 146C126.5 144.6 123.7 144.2 120.8 143.4C117.9 142.6 113.8 142.2 111.5 141C109.2 139.8 108 138.8 106.9 136.5C105.9 134.2 105.6 130.8 105.2 127.3C104.8 123.8 104.6 119.6 104.6 115.8C104.6 112 104.8 107.2 105.2 104.2C105.6 101.2 106.3 100.3 106.9 97.7Z" fill="none" stroke="#1a1a1a" stroke-width="1.8" stroke-dasharray="0 3.2" stroke-linecap="round"/>
<path d="M78.5 112.7C78.9 111.5 80 111 81.5 110.8C83 110.6 85.7 111 87.7 111.5C89.8 112 92.3 113 93.8 113.8C95.3 114.6 96 114.9 96.5 116.2C97 117.5 96.8 119.8 96.5 121.5C96.2 123.2 95.4 124.9 94.6 126.2C93.8 127.5 92.7 128.4 91.5 129.2C90.3 130 88.9 131.3 87.7 131.2C86.5 131.1 85.2 129.8 84.2 128.5C83.2 127.2 82.3 124.9 81.5 123.1C80.7 121.3 79.7 119.4 79.2 117.7C78.7 116 78.1 113.9 78.5 112.7Z" fill="none" stroke="#1a1a1a" stroke-width="1.8" stroke-dasharray="0 3.2" stroke-linecap="round"/>
<path d="M134.8 195C135.8 193.6 137.8 192.3 140 191.5C142.2 190.7 145.3 190.6 148 190.2C150.7 189.8 153.5 189.2 156 189C158.5 188.8 160.9 188.4 163 188.7C165.1 188.9 167.1 189.4 168.5 190.5C169.9 191.6 170.7 193.2 171.2 195C171.7 196.8 172.1 199.6 171.7 201.3C171.2 203.1 169.8 204.4 168.5 205.5C167.2 206.6 166.3 207.2 164.2 207.7C162.1 208.2 158.7 208.4 156 208.6C153.3 208.8 150.7 208.9 148 208.8C145.3 208.7 142 208.4 140 207.8C138 207.2 136.9 206.3 136 205C135.1 203.7 134.5 201.7 134.3 200C134.1 198.3 133.9 196.4 134.8 195Z" fill="none" stroke="#1a1a1a" stroke-width="1.8" stroke-dasharray="0 3.2" stroke-linecap="round"/>
<path d="M43.1 400C42.5 395.9 42.9 390.6 43.1 386C43.4 381.4 43.6 375.6 44.6 372.3C45.6 369 47.2 368.1 49.2 366.2C51.2 364.3 53.3 363 56.9 360.8C60.5 358.6 65.9 355.5 70.8 353.1C75.7 350.7 81.1 348.5 86.2 346.2C91.3 343.9 96.4 341.3 101.5 339.2C106.6 337.1 111.9 335.2 116.9 333.8C121.9 332.4 127.5 330.8 131.5 330.5C135.5 330.2 137.7 331.2 140.8 332.3C143.9 333.4 146.9 334.8 150 336.9C153.1 338.9 156.4 342.3 159.2 344.6C162 346.9 164.3 349 166.9 350.8C169.5 352.6 171.8 354.2 174.6 355.4C177.4 356.5 180.5 356.9 183.8 357.7C187.1 358.5 192 358.9 194.6 360C197.2 361.1 198.4 362.8 199.2 364.6C200 366.4 199.4 368.5 199.2 370.8C198.9 373.1 197.2 375.7 197.7 378.5C198.2 381.3 200 384.6 202.3 387.7C204.6 390.8 208.9 394.1 211.5 396.9C214.1 399.7 216.7 402.6 217.7 404.6C218.7 406.7 218.7 407.9 217.7 409.2C216.7 410.5 213.8 411.3 211.5 412.3C209.2 413.3 206.6 414.1 203.8 415.4C201.1 416.7 197.3 417.4 195 420C192.7 422.6 192.1 426.7 190 430.8C187.9 434.9 184.6 440 182.3 444.6C180 449.2 178.2 453.4 176.2 458.5C174.1 463.6 172.2 470.3 170 475.4C167.8 480.5 165.4 485.2 163.1 489.2C160.8 493.2 158.5 497.2 156.2 499.6C153.9 502 151.9 502.7 149.2 503.5C146.5 504.3 143.8 505.2 140 504.2C136.2 503.2 131.2 499.8 126.2 497.3C121.2 494.8 115.4 492.1 110 489.2C104.6 486.3 98.3 483.1 93.8 480C89.3 476.9 86.7 473.9 83.1 470.8C79.5 467.7 75.6 464.8 72.3 461.5C69 458.2 65.9 454.9 63.1 450.8C60.3 446.7 57.5 441.3 55.4 436.9C53.3 432.5 52.2 429 50.8 424.6C49.4 420.2 48.2 414.9 46.9 410.8C45.6 406.7 43.7 404.1 43.1 400Z" fill="none" stroke="#1a1a1a" stroke-width="1.8" stroke-dasharray="0 3.2" stroke-linecap="round"/>
<text x="132.9" y="77" font-size="10.5" text-anchor="middle" fill="#1a1a1a" stroke="#1a1a1a" stroke-width="0.3">2</text>
<text x="155.2" y="91" font-size="10.5" text-anchor="middle" fill="#1a1a1a" stroke="#1a1a1a" stroke-width="0.3">4</text>
<text x="185.6" y="87.5" font-size="10.5" text-anchor="middle" fill="#1a1a1a" stroke="#1a1a1a" stroke-width="0.3">0</text>
<text x="174.4" y="129.5" font-size="10.5" text-anchor="middle" fill="#1a1a1a" stroke="#1a1a1a" stroke-width="0.3">1</text>
<text x="140.4" y="127" font-size="10.5" text-anchor="middle" fill="#1a1a1a" stroke="#1a1a1a" stroke-width="0.3">3</text>
<text x="110.4" y="135" font-size="10.5" text-anchor="middle" fill="#1a1a1a" stroke="#1a1a1a" stroke-width="0.3">6</text>
<text x="145.5" y="205" font-size="10.5" text-anchor="middle" fill="#1a1a1a" stroke="#1a1a1a" stroke-width="0.3">7</text>
<text x="138.5" y="360.2" font-size="10.5" text-anchor="middle" fill="#1a1a1a" stroke="#1a1a1a" stroke-width="0.3">2</text>
<text x="104.6" y="389" font-size="10.5" text-anchor="middle" fill="#1a1a1a" stroke="#1a1a1a" stroke-width="0.3">1</text>
<text x="58.2" y="392" font-size="10.5" text-anchor="middle" fill="#1a1a1a" stroke="#1a1a1a" stroke-width="0.3">5</text>
<text x="123.1" y="396" font-size="10.5" text-anchor="middle" fill="#1a1a1a" stroke="#1a1a1a" stroke-width="0.3">8</text>
<text x="185.4" y="373.6" font-size="10.5" text-anchor="middle" fill="#1a1a1a" stroke="#1a1a1a" stroke-width="0.3">6</text>
<text x="203.8" y="407.4" font-size="10.5" text-anchor="middle" fill="#1a1a1a" stroke="#1a1a1a" stroke-width="0.3">7</text>
<text x="178.5" y="429.8" font-size="10.5" text-anchor="middle" fill="#1a1a1a" stroke="#1a1a1a" stroke-width="0.3">4</text>
<text x="117.7" y="449.8" font-size="10.5" text-anchor="middle" fill="#1a1a1a" stroke="#1a1a1a" stroke-width="0.3">0</text>
<text x="145.8" y="487.8" font-size="10.5" text-anchor="middle" fill="#1a1a1a" stroke="#1a1a1a" stroke-width="0.3">3</text>
<text x="86.6" y="124.2" font-size="10.5" text-anchor="middle" fill="#2d5a2d" stroke="#2d5a2d" stroke-width="0.35">8</text>
<text x="111" y="27" font-size="10" textLength="61.5" lengthAdjust="spacingAndGlyphs">CLL16 relapse</text>
<text x="111.9" y="303.3" font-size="10" textLength="61.2" lengthAdjust="spacingAndGlyphs">CLL95 relapse</text>
<text x="57" y="142" font-size="10" textLength="38" lengthAdjust="spacingAndGlyphs">MCL1++</text>
<text x="91.5" y="187.3" font-size="10" textLength="47.5" lengthAdjust="spacingAndGlyphs">BCL2A1++</text>
<text x="159.4" y="167.7" font-size="10" textLength="45" lengthAdjust="spacingAndGlyphs">MCL1amp</text>
<text x="169.8" y="178.8" font-size="10" textLength="24.2" lengthAdjust="spacingAndGlyphs">[93%]</text>
<text x="168.8" y="496.2" font-size="10" textLength="45" lengthAdjust="spacingAndGlyphs">MCL1amp</text>
<text x="176.2" y="507.8" font-size="10" textLength="30" lengthAdjust="spacingAndGlyphs">[100%]</text>
<text x="0" y="10.2" font-size="11.5" font-weight="bold">C</text>
<text x="0" y="291.2" font-size="11.5" font-weight="bold">D</text>
<text x="0" y="557" font-size="11.5" font-weight="bold">E</text>
<text x="295.6" y="556.3" font-size="11.5" font-weight="bold">F</text>
<path d="M28.6 178.2V224.2H73.3" fill="none" stroke="#111" stroke-width="1.3"/>
<path d="M28.6 174.2L25.7 179.6L31.5 179.6Z" fill="#111"/>
<path d="M77.3 224.2L71.9 221.3L71.9 227.1Z" fill="#111"/>
<text x="32.8" y="170" font-size="10" textLength="34" lengthAdjust="spacingAndGlyphs" transform="rotate(-90 32.8 170)">UMAP_2</text>
<text x="81.2" y="228.7" font-size="10" textLength="37.5" lengthAdjust="spacingAndGlyphs">UMAP_1</text>
<path d="M28.6 486.5V520H66" fill="none" stroke="#111" stroke-width="1.3"/>
<path d="M28.6 482.5L25.7 487.9L31.5 487.9Z" fill="#111"/>
<path d="M70 520L64.6 517.1L64.6 522.9Z" fill="#111"/>
<text x="32.8" y="477" font-size="10" textLength="37.5" lengthAdjust="spacingAndGlyphs" transform="rotate(-90 32.8 477)">UMAP_2</text>
<text x="73.8" y="524.5" font-size="10" textLength="37.5" lengthAdjust="spacingAndGlyphs">UMAP_1</text>
<text x="233.6" y="57.3" font-size="7.8" textLength="25.5" lengthAdjust="spacingAndGlyphs">Identity</text>
<circle cx="241.4" cy="68.6" r="3.3" fill="#3d4fa8"/>
<text x="247.4" y="71.5" font-size="8">0</text>
<circle cx="241.4" cy="82.4" r="3.3" fill="#d0402c"/>
<text x="247.4" y="85.3" font-size="8">1</text>
<circle cx="241.4" cy="96.1" r="3.3" fill="#8fa85a"/>
<text x="247.4" y="99" font-size="8">2</text>
<circle cx="241.4" cy="109.9" r="3.3" fill="#b3c08a"/>
<text x="247.4" y="112.8" font-size="8">3</text>
<circle cx="241.4" cy="123.7" r="3.3" fill="#7a5a50"/>
<text x="247.4" y="126.6" font-size="8">4</text>
<circle cx="241.4" cy="137.4" r="3.3" fill="#7b98ae"/>
<text x="247.4" y="140.3" font-size="8">6</text>
<circle cx="241.4" cy="151.2" r="3.3" fill="#6b2f8f"/>
<text x="247.4" y="154.1" font-size="8">7</text>
<circle cx="241.4" cy="165" r="3.3" fill="#5cb85c"/>
<text x="247.4" y="167.9" font-size="8">8</text>
<text x="237.2" y="346.5" font-size="7.8" textLength="25.5" lengthAdjust="spacingAndGlyphs">Identity</text>
<circle cx="239.5" cy="354.5" r="3.5" fill="#3b4fa8"/>
<text x="247.7" y="357.4" font-size="8">0</text>
<circle cx="239.5" cy="370" r="3.5" fill="#d8392b"/>
<text x="247.7" y="372.9" font-size="8">1</text>
<circle cx="239.5" cy="385.6" r="3.5" fill="#6f9a4a"/>
<text x="247.7" y="388.5" font-size="8">2</text>
<circle cx="239.5" cy="401.1" r="3.5" fill="#efe67a"/>
<text x="247.7" y="404" font-size="8">3</text>
<circle cx="239.5" cy="416.7" r="3.5" fill="#2f5d85"/>
<text x="247.7" y="419.6" font-size="8">4</text>
<circle cx="239.5" cy="432.2" r="3.5" fill="#c86a35"/>
<text x="247.7" y="435.1" font-size="8">5</text>
<circle cx="239.5" cy="447.7" r="3.5" fill="#4bb0e6"/>
<text x="247.7" y="450.6" font-size="8">6</text>
<circle cx="239.5" cy="463.3" r="3.5" fill="#7a1a6a"/>
<text x="247.7" y="466.2" font-size="8">7</text>
<circle cx="239.5" cy="478.8" r="3.5" fill="#5bb55a"/>
<text x="247.7" y="481.7" font-size="8">8</text>
<path d="M335.1 17.1C335.3 17.8 335.1 21.9 335.3 22.7C335.5 23.5 336.5 23.6 337 24C337.5 24.4 339.1 25.5 339.7 26C340.3 26.5 341.6 27.5 342.1 28C342.6 28.5 343.8 29.9 343.9 30.4C344 30.9 343.1 32 342.7 32.5C342.3 33 341 34.4 340.5 35C340 35.6 338.8 37 338.3 37.5C337.8 38 336.8 39.1 336.5 39.5C336.2 39.9 335.7 40.5 335.5 41.2C335.3 41.9 335.3 44.9 335.1 45.4C334.9 45.9 334.1 45.9 333.9 45.4C333.7 44.9 333.7 41.9 333.5 41.2C333.3 40.5 332.8 39.9 332.5 39.5C332.2 39.1 331.2 38 330.7 37.5C330.2 37 329 35.6 328.5 35C328 34.4 326.7 33 326.3 32.5C325.9 32 325 30.9 325.1 30.4C325.2 29.9 326.4 28.5 326.9 28C327.4 27.5 328.7 26.5 329.3 26C329.9 25.5 331.5 24.4 332 24C332.5 23.6 333.5 23.5 333.7 22.7C333.9 21.9 333.7 17.8 333.9 17.1C334.1 16.4 334.9 16.4 335.1 17.1Z" fill="#4050a8" stroke="#4050a8" stroke-width="0.5" stroke-opacity="0.6"/>
<path d="M356 14.6C356.1 15.2 356.1 18.9 356.4 19.6C356.6 20.3 357.4 20.6 357.9 21C358.3 21.4 359.8 22.5 360.4 23C360.9 23.5 362.4 24.8 362.9 25.5C363.3 26.2 364.3 28.5 364.4 29.2C364.4 29.9 363.7 31 363.4 31.5C363 32 361.9 33 361.4 33.5C360.8 34 359.5 35.1 359 35.5C358.5 35.9 357.5 36.6 357.2 37C356.9 37.4 356.5 37.5 356.4 38.5C356.2 39.5 356.1 44.6 356 45.4C355.8 46.2 354.9 46.2 354.8 45.4C354.6 44.6 354.5 39.5 354.4 38.5C354.2 37.5 353.9 37.4 353.6 37C353.3 36.6 352.2 35.9 351.8 35.5C351.3 35.1 349.9 34 349.4 33.5C348.8 33 347.7 32 347.4 31.5C347 31 346.3 29.9 346.4 29.2C346.4 28.5 347.4 26.2 347.9 25.5C348.3 24.8 349.8 23.5 350.4 23C350.9 22.5 352.4 21.4 352.9 21C353.3 20.6 354.1 20.3 354.4 19.6C354.6 18.9 354.6 15.2 354.8 14.6C354.9 14 355.8 14 356 14.6Z" fill="#d84530" stroke="#d84530" stroke-width="0.5" stroke-opacity="0.6"/>
<path d="M376.8 17.2C377 17.8 377 21.3 377.2 22C377.4 22.7 378.2 22.6 378.7 23C379.2 23.4 381.1 24.5 381.7 25C382.3 25.5 383.6 26.5 384 27C384.4 27.5 385.2 28.5 385.2 29C385.3 29.5 384.8 30.5 384.4 31C384 31.5 382.6 32.5 382 33C381.4 33.5 379.7 34.6 379.2 35C378.7 35.4 377.8 35.3 377.5 36.5C377.2 37.7 377 44.3 376.8 45.3C376.6 46.3 375.8 46.3 375.6 45.3C375.4 44.3 375.2 37.7 374.9 36.5C374.6 35.3 373.7 35.4 373.2 35C372.7 34.6 371 33.5 370.4 33C369.8 32.5 368.4 31.5 368 31C367.6 30.5 367.2 29.5 367.2 29C367.3 28.5 368 27.5 368.4 27C368.8 26.5 370.1 25.5 370.7 25C371.3 24.5 373.2 23.4 373.7 23C374.2 22.6 375 22.7 375.2 22C375.4 21.3 375.4 17.8 375.6 17.2C375.8 16.6 376.6 16.6 376.8 17.2Z" fill="#87a85a" stroke="#87a85a" stroke-width="0.5" stroke-opacity="0.6"/>
<path d="M397.6 18.1C397.8 18.3 398.5 19.1 398.9 19.5C399.3 19.9 400.5 21 401.1 21.5C401.6 22 403 23.4 403.6 24C404.1 24.6 405.3 26.3 405.7 27C406 27.7 406.6 29 406.6 29.6C406.6 30.2 406.1 31.8 405.8 32.5C405.4 33.2 404.1 34.9 403.6 35.5C403 36.1 401.6 37.5 401.1 38C400.6 38.5 399.4 39.6 399.1 40C398.7 40.4 398.2 40.8 398.1 41.4C397.9 42 397.9 44.8 397.7 45.3C397.5 45.8 396.7 45.8 396.5 45.3C396.3 44.8 396.2 42 396.1 41.4C395.9 40.8 395.4 40.4 395.1 40C394.7 39.6 393.6 38.5 393.1 38C392.6 37.5 391.1 36.1 390.6 35.5C390 34.9 388.7 33.2 388.4 32.5C388 31.8 387.6 30.2 387.6 29.6C387.6 29 388.1 27.7 388.5 27C388.8 26.3 390 24.6 390.6 24C391.1 23.4 392.5 22 393.1 21.5C393.6 21 394.9 19.9 395.3 19.5C395.7 19.1 396.3 18.3 396.6 18.1C396.8 17.9 397.3 17.9 397.6 18.1Z" fill="#b5c48c" stroke="#b5c48c" stroke-width="0.5" stroke-opacity="0.6"/>
<path d="M418.4 15.9C418.7 16 419.1 16.7 419.4 17C419.8 17.3 421.2 18.1 421.7 18.5C422.3 18.9 423.7 20 424.2 20.5C424.8 21 425.8 22.4 426.1 23C426.5 23.6 426.8 25.2 426.9 26C427.1 26.8 427.2 28.7 427.1 29.5C427.1 30.3 427 32.2 426.7 33C426.5 33.8 425.6 35.4 425.1 36C424.7 36.6 423.4 38 422.9 38.5C422.4 39 421.3 40 420.9 40.5C420.5 41 419.7 42 419.4 42.5C419.1 43 418.7 44.4 418.4 44.7C418.2 45 417.7 45 417.4 44.7C417.2 44.4 416.7 43 416.4 42.5C416.1 42 415.3 41 414.9 40.5C414.5 40 413.4 39 412.9 38.5C412.4 38 411.2 36.6 410.7 36C410.3 35.4 409.4 33.8 409.1 33C408.9 32.2 408.8 30.3 408.7 29.5C408.7 28.7 408.8 26.8 408.9 26C409.1 25.2 409.4 23.6 409.7 23C410.1 22.4 411.1 21 411.6 20.5C412.2 20 413.6 18.9 414.1 18.5C414.7 18.1 416.1 17.3 416.4 17C416.8 16.7 417.2 16 417.4 15.9C417.7 15.8 418.2 15.8 418.4 15.9Z" fill="#7d5d52" stroke="#7d5d52" stroke-width="0.5" stroke-opacity="0.6"/>
<path d="M439.3 20.8C439.6 20.9 440.1 21.6 440.6 22C441.1 22.4 442.7 23.5 443.3 24C443.9 24.5 445.6 25.9 446.1 26.5C446.6 27.1 447.8 29 447.9 29.5C448 30 447.2 30.6 446.8 31C446.4 31.4 444.8 32.1 444.3 32.5C443.8 32.9 442.6 33.6 442.3 34C442 34.4 441.5 35.1 441.4 35.5C441.3 35.9 441.2 37 441.2 37.5C441.2 38 441.1 39.1 441 39.5C440.9 39.9 440.3 40.8 440.1 41C439.9 41.2 439.5 41.5 439.3 41.6C439.1 41.7 438.5 41.7 438.3 41.6C438.1 41.5 437.7 41.2 437.5 41C437.3 40.8 436.7 39.9 436.6 39.5C436.5 39.1 436.4 38 436.4 37.5C436.4 37 436.3 35.9 436.2 35.5C436.1 35.1 435.6 34.4 435.3 34C435 33.6 433.8 32.9 433.3 32.5C432.8 32.1 431.2 31.4 430.8 31C430.4 30.6 429.6 30 429.7 29.5C429.8 29 431 27.1 431.5 26.5C432 25.9 433.7 24.5 434.3 24C434.9 23.5 436.5 22.4 437 22C437.5 21.6 438 20.9 438.3 20.8C438.6 20.7 439 20.7 439.3 20.8Z" fill="#7b98ab" stroke="#7b98ab" stroke-width="0.5" stroke-opacity="0.6"/>
<path d="M461.2 26.8C461.7 26.9 462.4 27.3 462.9 27.6C463.3 27.9 464.6 29 465.2 29.5C465.7 30 467 31.4 467.5 32C467.9 32.6 469 34.3 469.1 34.9C469.1 35.5 468.6 36.5 468.2 37C467.8 37.5 466.2 38.9 465.7 39.5C465.1 40.1 463.7 41.5 463.2 42C462.6 42.5 461.5 43.6 461.2 44C460.8 44.4 460.3 45.1 460.1 45.3C459.8 45.5 459.5 45.5 459.3 45.3C459 45.1 458.5 44.4 458.2 44C457.8 43.6 456.7 42.5 456.2 42C455.6 41.5 454.2 40.1 453.7 39.5C453.1 38.9 451.6 37.5 451.2 37C450.8 36.5 450.2 35.5 450.3 34.9C450.3 34.3 451.4 32.6 451.9 32C452.3 31.4 453.6 30 454.2 29.5C454.7 29 456 27.9 456.5 27.6C456.9 27.3 457.6 26.9 458.2 26.8C458.7 26.7 460.6 26.7 461.2 26.8Z" fill="#6d3591" stroke="#6d3591" stroke-width="0.5" stroke-opacity="0.6"/>
<path d="M481.7 22.4C482.1 22.5 482.5 22.8 482.8 23C483.1 23.2 483.9 24.1 484.3 24.5C484.7 24.9 485.9 26 486.3 26.5C486.8 27 487.9 28.4 488.3 29C488.7 29.6 489.3 30.9 489.5 31.5C489.7 32.1 489.9 33.6 489.9 34.2C489.9 34.8 489.5 36.4 489.3 37C489.1 37.6 488.3 38.9 488 39.5C487.7 40.1 486.8 41.5 486.5 42C486.2 42.5 485.9 43.7 485.5 44C485.1 44.3 483.9 44.8 483 44.9C482.1 45 478.9 45 478 44.9C477.1 44.8 475.9 44.3 475.5 44C475.1 43.7 474.8 42.5 474.5 42C474.2 41.5 473.3 40.1 473 39.5C472.7 38.9 471.9 37.6 471.7 37C471.5 36.4 471.1 34.8 471.1 34.2C471.1 33.6 471.3 32.1 471.5 31.5C471.7 30.9 472.3 29.6 472.7 29C473.1 28.4 474.3 27 474.7 26.5C475.2 26 476.3 24.9 476.7 24.5C477.1 24.1 477.9 23.2 478.2 23C478.5 22.8 478.9 22.5 479.3 22.4C479.7 22.3 481.3 22.3 481.7 22.4Z" fill="#62b45e" stroke="#62b45e" stroke-width="0.5" stroke-opacity="0.6"/>
<path d="M323.4 13.7V47.9H493.8" fill="none" stroke="#231f20" stroke-width="1.25"/>
<path d="M320 20.8H323.4M320 34.2H323.4M320 47.6H323.4M320.8 27.5H323.4M320.8 40.8H323.4M334.5 47.9V50.7M355.4 47.9V50.7M376.2 47.9V50.7M397.1 47.9V50.7M417.9 47.9V50.7M438.8 47.9V50.7M459.7 47.9V50.7M480.5 47.9V50.7" stroke="#231f20" stroke-width="1"/>
<text x="316.9" y="23.7" font-size="8" text-anchor="end">0.50</text>
<text x="316.9" y="37.1" font-size="8" text-anchor="end">0.00</text>
<text x="316.9" y="50.5" font-size="8" text-anchor="end">−0.50</text>
<text x="334.5" y="60.7" font-size="8.2" text-anchor="middle">0</text>
<text x="355.4" y="60.7" font-size="8.2" text-anchor="middle">1</text>
<text x="376.2" y="60.7" font-size="8.2" text-anchor="middle">2</text>
<text x="397.1" y="60.7" font-size="8.2" text-anchor="middle">3</text>
<text x="417.9" y="60.7" font-size="8.2" text-anchor="middle">4</text>
<text x="438.8" y="60.7" font-size="8.2" text-anchor="middle">6</text>
<text x="459.7" y="60.7" font-size="8.2" text-anchor="middle">7</text>
<text x="480.5" y="60.7" font-size="8.2" text-anchor="middle">8</text>
<text x="370" y="10.6" font-size="10" textLength="77.5" lengthAdjust="spacingAndGlyphs">1q21 (MCL1) amp</text>
<text x="290.3" y="30.6" font-size="8.6" text-anchor="middle" textLength="36.5" lengthAdjust="spacingAndGlyphs" transform="rotate(-90 290.3 30.6)">Relative CN</text>
<path d="M335.1 84.2C335.3 84.6 335.4 87 335.7 87.5C336 88 336.8 88.2 337.3 88.5C337.8 88.8 339.4 90 340 90.5C340.6 91 341.9 91.9 342.3 92.5C342.7 93.1 343.7 94.7 343.7 95.3C343.7 95.9 342.9 97 342.5 97.5C342.1 98 341 99 340.5 99.5C340 100 338.8 101.1 338.3 101.5C337.8 101.9 336.8 102.7 336.5 103C336.2 103.3 335.7 103.3 335.5 104.4C335.3 105.5 335.3 111.8 335.1 112.8C334.9 113.8 334.1 113.8 333.9 112.8C333.7 111.8 333.7 105.5 333.5 104.4C333.3 103.3 332.8 103.3 332.5 103C332.2 102.7 331.2 101.9 330.7 101.5C330.2 101.1 329 100 328.5 99.5C328 99 326.9 98 326.5 97.5C326.1 97 325.3 95.9 325.3 95.3C325.3 94.7 326.3 93.1 326.7 92.5C327.1 91.9 328.4 91 329 90.5C329.6 90 331.2 88.8 331.7 88.5C332.2 88.2 333 88 333.3 87.5C333.6 87 333.7 84.6 333.9 84.2C334.1 83.8 334.9 83.8 335.1 84.2Z" fill="#4050a8" stroke="#4050a8" stroke-width="0.5" stroke-opacity="0.6"/>
<path d="M356 80.9C356.2 81.4 356.3 84.8 356.6 85.5C356.8 86.2 357.7 86.2 358.2 86.5C358.7 86.8 360.3 88 360.9 88.5C361.4 89 362.7 89.9 363.2 90.5C363.6 91.1 364.5 92.7 364.6 93.3C364.6 93.9 363.7 95 363.4 95.5C363 96 361.9 97 361.4 97.5C360.8 98 359.4 99.1 358.9 99.5C358.4 99.9 357.5 100.7 357.2 101C356.9 101.3 356.5 101.1 356.4 102.5C356.2 103.9 356.1 111.6 356 112.8C355.8 114 354.9 114 354.8 112.8C354.6 111.6 354.5 103.9 354.4 102.5C354.2 101.1 353.9 101.3 353.6 101C353.3 100.7 352.4 99.9 351.9 99.5C351.4 99.1 349.9 98 349.4 97.5C348.8 97 347.7 96 347.4 95.5C347 95 346.1 93.9 346.2 93.3C346.2 92.7 347.1 91.1 347.6 90.5C348 89.9 349.3 89 349.9 88.5C350.4 88 352.1 86.8 352.6 86.5C353.1 86.2 353.9 86.2 354.2 85.5C354.4 84.8 354.6 81.4 354.8 80.9C355 80.4 355.8 80.4 356 80.9Z" fill="#d84530" stroke="#d84530" stroke-width="0.5" stroke-opacity="0.6"/>
<path d="M376.8 84.8C377 85.6 377 90.2 377.4 91.3C377.9 92.4 379.9 93.3 380.7 94C381.5 94.7 383.7 96.3 384.2 97C384.8 97.7 385.4 99.1 385.4 99.8C385.5 100.5 385 102.2 384.5 103C384 103.8 382 105.8 381.2 106.5C380.5 107.2 378.7 108.6 378.2 109C377.8 109.4 377.4 109.9 377.2 110.3C377.1 110.7 377 112.5 376.8 112.8C376.6 113.1 375.8 113.1 375.6 112.8C375.4 112.5 375.4 110.7 375.2 110.3C375.1 109.9 374.7 109.4 374.2 109C373.8 108.6 372 107.2 371.2 106.5C370.5 105.8 368.4 103.8 367.9 103C367.4 102.2 367 100.5 367 99.8C367.1 99.1 367.7 97.7 368.2 97C368.8 96.3 370.9 94.7 371.7 94C372.5 93.3 374.6 92.4 375 91.3C375.5 90.2 375.4 85.6 375.6 84.8C375.8 84 376.6 84 376.8 84.8Z" fill="#87a85a" stroke="#87a85a" stroke-width="0.5" stroke-opacity="0.6"/>
<path d="M397.6 84.5C397.8 85.2 397.7 89.8 398.1 90.9C398.5 92 400.2 93.2 400.9 94C401.6 94.8 403.4 96.7 404.1 97.5C404.7 98.3 406.6 100 406.6 100.8C406.5 101.6 404.3 103.3 403.6 104C402.8 104.7 400.7 106.4 400.1 107C399.5 107.6 398.9 108.2 398.6 108.8C398.3 109.4 397.9 112.1 397.7 112.5C397.4 112.9 396.7 112.9 396.5 112.5C396.2 112.1 395.9 109.4 395.6 108.8C395.3 108.2 394.7 107.6 394.1 107C393.5 106.4 391.3 104.7 390.6 104C389.8 103.3 387.6 101.6 387.6 100.8C387.5 100 389.4 98.3 390.1 97.5C390.7 96.7 392.6 94.8 393.3 94C394 93.2 395.7 92 396.1 90.9C396.5 89.8 396.4 85.2 396.6 84.5C396.8 83.8 397.4 83.8 397.6 84.5Z" fill="#b5c48c" stroke="#b5c48c" stroke-width="0.5" stroke-opacity="0.6"/>
<path d="M418.4 84.5C418.7 84.6 419 85.2 419.4 85.5C419.9 85.8 421.7 87 422.4 87.5C423.1 88 424.9 89 425.4 89.5C426 90 427.3 91.4 427.4 91.9C427.6 92.4 426.8 93.5 426.4 94C426 94.5 424.5 95.9 423.9 96.5C423.4 97.1 421.9 98.5 421.4 99C421 99.5 420.2 100.5 419.9 101C419.7 101.5 419.4 101.7 419.2 103C419.1 104.3 418.8 111.4 418.5 112.5C418.3 113.6 417.6 113.6 417.3 112.5C417.1 111.4 416.8 104.3 416.6 103C416.5 101.7 416.2 101.5 415.9 101C415.7 100.5 414.9 99.5 414.4 99C414 98.5 412.5 97.1 411.9 96.5C411.4 95.9 409.8 94.5 409.4 94C409 93.5 408.3 92.4 408.4 91.9C408.6 91.4 409.9 90 410.4 89.5C411 89 412.7 88 413.4 87.5C414.1 87 416 85.8 416.4 85.5C416.9 85.2 417.2 84.6 417.4 84.5C417.7 84.4 418.2 84.4 418.4 84.5Z" fill="#7d5d52" stroke="#7d5d52" stroke-width="0.5" stroke-opacity="0.6"/>
<path d="M439.4 85.2C439.8 85.4 440.7 86.4 441.3 87C441.9 87.6 444 89.1 444.8 90C445.6 90.9 448 93.6 448.1 94.5C448.2 95.4 446 96.8 445.3 97.5C444.6 98.2 442.9 99.9 442.3 100.5C441.7 101.1 440.4 102.6 440 103C439.6 103.4 439.4 103.9 439.2 104C439 104.1 438.6 104.1 438.4 104C438.2 103.9 438 103.4 437.6 103C437.2 102.6 435.9 101.1 435.3 100.5C434.7 99.9 433 98.2 432.3 97.5C431.6 96.8 429.4 95.4 429.5 94.5C429.6 93.6 432 90.9 432.8 90C433.6 89.1 435.7 87.6 436.3 87C436.9 86.4 437.8 85.4 438.2 85.2C438.6 85 439 85 439.4 85.2Z" fill="#7b98ab" stroke="#7b98ab" stroke-width="0.5" stroke-opacity="0.6"/>
<path d="M460.7 89.4C461.1 89.5 461.8 90.1 462.2 90.5C462.6 90.9 463.6 92.4 464.2 93C464.7 93.6 466.2 95.3 466.7 96C467.1 96.7 468.2 98.5 468.2 99.3C468.2 100.1 467.2 101.8 466.7 102.5C466.2 103.2 464.3 104.5 463.9 105C463.4 105.5 462.8 106.3 462.7 106.7C462.5 107.1 462.6 108.1 462.7 108.5C462.8 108.9 463.3 109.7 463.5 110C463.6 110.3 464.4 111.2 464.2 111.5C463.9 111.8 462.4 112.2 461.7 112.3C460.9 112.4 458.4 112.4 457.7 112.3C456.9 112.2 455.4 111.8 455.2 111.5C454.9 111.2 455.7 110.3 455.9 110C456 109.7 456.6 108.9 456.7 108.5C456.8 108.1 456.8 107.1 456.7 106.7C456.5 106.3 455.9 105.5 455.5 105C455 104.5 453.2 103.2 452.7 102.5C452.2 101.8 451.2 100.1 451.2 99.3C451.2 98.5 452.2 96.7 452.7 96C453.1 95.3 454.6 93.6 455.2 93C455.7 92.4 456.8 90.9 457.2 90.5C457.6 90.1 458.3 89.5 458.7 89.4C459.1 89.3 460.3 89.3 460.7 89.4Z" fill="#6d3591" stroke="#6d3591" stroke-width="0.5" stroke-opacity="0.6"/>
<path d="M483.5 81.3C484.4 81.4 484.8 82 485.3 82.5C485.8 83 487.5 85.2 488 86C488.5 86.8 489.3 88.7 489.5 89.5C489.7 90.3 490 92.1 489.9 93C489.9 93.9 489.4 96.1 489 97C488.6 97.9 487.1 99.8 486.5 100.5C486 101.2 484.7 102.5 484.3 103C484 103.5 483.6 104.1 483.5 104.6C483.4 105.1 483.6 106.4 483.7 107C483.8 107.6 484.3 109 484.5 109.5C484.7 110 485.8 111.2 485.5 111.5C485.3 111.8 483.3 112.2 482.5 112.3C481.7 112.4 479.3 112.4 478.5 112.3C477.7 112.2 475.8 111.8 475.5 111.5C475.3 111.2 476.3 110 476.5 109.5C476.7 109 477.2 107.6 477.3 107C477.4 106.4 477.6 105.1 477.5 104.6C477.4 104.1 477.1 103.5 476.7 103C476.4 102.5 475.1 101.2 474.5 100.5C474 99.8 472.4 97.9 472 97C471.6 96.1 471.2 93.9 471.1 93C471.1 92.1 471.3 90.3 471.5 89.5C471.7 88.7 472.5 86.8 473 86C473.5 85.2 475.2 83 475.7 82.5C476.2 82 476.6 81.4 477.5 81.3C478.4 81.2 482.6 81.2 483.5 81.3Z" fill="#62b45e" stroke="#62b45e" stroke-width="0.5" stroke-opacity="0.6"/>
<path d="M323.4 80V113.4H493.8" fill="none" stroke="#231f20" stroke-width="1.25"/>
<path d="M320 90.7H323.4M320 102.1H323.4M320 113.4H323.4M334.5 113.4V116.2M355.4 113.4V116.2M376.2 113.4V116.2M397.1 113.4V116.2M417.9 113.4V116.2M438.8 113.4V116.2M459.7 113.4V116.2M480.5 113.4V116.2" stroke="#231f20" stroke-width="1"/>
<text x="316.9" y="93.5" font-size="8" text-anchor="end">4</text>
<text x="316.9" y="104.9" font-size="8" text-anchor="end">2</text>
<text x="316.9" y="116.2" font-size="8" text-anchor="end">0</text>
<text x="334.5" y="126.7" font-size="8.2" text-anchor="middle">0</text>
<text x="355.4" y="126.7" font-size="8.2" text-anchor="middle">1</text>
<text x="376.2" y="126.7" font-size="8.2" text-anchor="middle">2</text>
<text x="397.1" y="126.7" font-size="8.2" text-anchor="middle">3</text>
<text x="417.9" y="126.7" font-size="8.2" text-anchor="middle">4</text>
<text x="438.8" y="126.7" font-size="8.2" text-anchor="middle">6</text>
<text x="459.7" y="126.7" font-size="8.2" text-anchor="middle">7</text>
<text x="480.5" y="126.7" font-size="8.2" text-anchor="middle">8</text>
<text x="396.3" y="78" font-size="10" textLength="24.2" lengthAdjust="spacingAndGlyphs">MCL1</text>
<path d="M335 173.6C335.2 173.7 335.6 174.1 336 174.2C336.4 174.3 337.4 174.7 338 174.8C338.6 174.9 340.4 175.1 341 175.1C341.6 175.1 342.8 175.1 343.1 175.2C343.4 175.3 343.6 175.6 343.7 175.8C343.8 176 345.8 176.9 343.7 177C341.6 177.1 327.4 177.1 325.3 177C323.2 176.9 325.2 176 325.3 175.8C325.4 175.6 325.6 175.3 325.9 175.2C326.2 175.1 327.4 175.1 328 175.1C328.6 175.1 330.4 174.9 331 174.8C331.6 174.7 332.6 174.3 333 174.2C333.4 174.1 333.8 173.7 334 173.6C334.2 173.5 334.8 173.5 335 173.6Z" fill="#4050a8" stroke="#4050a8" stroke-width="0.5" stroke-opacity="0.6"/>
<path d="M355.9 173.6C356.1 173.7 356.5 174.1 356.9 174.2C357.2 174.3 358.3 174.7 358.9 174.8C359.4 174.9 361.3 175.1 361.9 175.1C362.5 175.1 363.6 175.1 364 175.2C364.3 175.3 364.5 175.6 364.6 175.8C364.6 176 366.7 176.9 364.6 177C362.4 177.1 348.3 177.1 346.2 177C344 176.9 346.1 176 346.2 175.8C346.2 175.6 346.4 175.3 346.8 175.2C347.1 175.1 348.3 175.1 348.9 175.1C349.5 175.1 351.3 174.9 351.9 174.8C352.4 174.7 353.5 174.3 353.9 174.2C354.2 174.1 354.6 173.7 354.9 173.6C355.1 173.5 355.6 173.5 355.9 173.6Z" fill="#d84530" stroke="#d84530" stroke-width="0.5" stroke-opacity="0.6"/>
<path d="M376.7 173.6C377 173.7 377.4 174.1 377.7 174.2C378.1 174.3 379.1 174.7 379.7 174.8C380.3 174.9 382.1 175.1 382.7 175.1C383.3 175.1 384.5 175.1 384.8 175.2C385.1 175.3 385.4 175.6 385.4 175.8C385.5 176 387.6 176.9 385.4 177C383.3 177.1 369.2 177.1 367 177C364.9 176.9 367 176 367 175.8C367.1 175.6 367.3 175.3 367.6 175.2C367.9 175.1 369.1 175.1 369.7 175.1C370.3 175.1 372.1 174.9 372.7 174.8C373.3 174.7 374.4 174.3 374.7 174.2C375.1 174.1 375.5 173.7 375.7 173.6C376 173.5 376.5 173.5 376.7 173.6Z" fill="#87a85a" stroke="#87a85a" stroke-width="0.5" stroke-opacity="0.6"/>
<path d="M397.6 173.6C397.8 173.7 398.2 174.1 398.6 174.2C398.9 174.3 400 174.7 400.6 174.8C401.2 174.9 403 175.1 403.6 175.1C404.2 175.1 405.4 175.1 405.7 175.2C406 175.3 406.2 175.6 406.3 175.8C406.3 176 408.4 176.9 406.3 177C404.1 177.1 390 177.1 387.9 177C385.7 176.9 387.8 176 387.9 175.8C387.9 175.6 388.2 175.3 388.5 175.2C388.8 175.1 390 175.1 390.6 175.1C391.2 175.1 393 174.9 393.6 174.8C394.2 174.7 395.2 174.3 395.6 174.2C395.9 174.1 396.3 173.7 396.6 173.6C396.8 173.5 397.3 173.5 397.6 173.6Z" fill="#b5c48c" stroke="#b5c48c" stroke-width="0.5" stroke-opacity="0.6"/>
<path d="M418.4 173.6C418.7 173.7 419.1 174.1 419.4 174.2C419.8 174.3 420.9 174.7 421.4 174.8C422 174.9 423.8 175.1 424.4 175.1C425 175.1 426.2 175.1 426.5 175.2C426.9 175.3 427.1 175.6 427.1 175.8C427.2 176 429.3 176.9 427.1 177C425 177.1 410.9 177.1 408.7 177C406.6 176.9 408.7 176 408.7 175.8C408.8 175.6 409 175.3 409.3 175.2C409.7 175.1 410.8 175.1 411.4 175.1C412 175.1 413.9 174.9 414.4 174.8C415 174.7 416.1 174.3 416.4 174.2C416.8 174.1 417.2 173.7 417.4 173.6C417.7 173.5 418.2 173.5 418.4 173.6Z" fill="#7d5d52" stroke="#7d5d52" stroke-width="0.5" stroke-opacity="0.6"/>
<path d="M439.3 173.6C439.5 173.7 439.9 174.1 440.3 174.2C440.7 174.3 441.7 174.7 442.3 174.8C442.9 174.9 444.7 175.1 445.3 175.1C445.9 175.1 447.1 175.1 447.4 175.2C447.7 175.3 447.9 175.6 448 175.8C448.1 176 450.1 176.9 448 177C445.9 177.1 431.7 177.1 429.6 177C427.5 176.9 429.5 176 429.6 175.8C429.7 175.6 429.9 175.3 430.2 175.2C430.5 175.1 431.7 175.1 432.3 175.1C432.9 175.1 434.7 174.9 435.3 174.8C435.9 174.7 436.9 174.3 437.3 174.2C437.7 174.1 438.1 173.7 438.3 173.6C438.5 173.5 439.1 173.5 439.3 173.6Z" fill="#7b98ab" stroke="#7b98ab" stroke-width="0.5" stroke-opacity="0.6"/>
<path d="M460.2 173.6C460.4 173.7 460.8 174.1 461.2 174.2C461.5 174.3 462.6 174.7 463.2 174.8C463.7 174.9 465.6 175.1 466.2 175.1C466.8 175.1 467.9 175.1 468.3 175.2C468.6 175.3 468.8 175.6 468.9 175.8C468.9 176 471 176.9 468.9 177C466.7 177.1 452.6 177.1 450.5 177C448.3 176.9 450.4 176 450.5 175.8C450.5 175.6 450.7 175.3 451.1 175.2C451.4 175.1 452.6 175.1 453.2 175.1C453.8 175.1 455.6 174.9 456.2 174.8C456.7 174.7 457.8 174.3 458.2 174.2C458.5 174.1 458.9 173.7 459.2 173.6C459.4 173.5 459.9 173.5 460.2 173.6Z" fill="#6d3591" stroke="#6d3591" stroke-width="0.5" stroke-opacity="0.6"/>
<path d="M481 173.6C481.3 173.7 481.7 174.1 482 174.2C482.4 174.3 483.4 174.7 484 174.8C484.6 174.9 486.4 175.1 487 175.1C487.6 175.1 488.8 175.1 489.1 175.2C489.4 175.3 489.6 175.6 489.7 175.8C489.8 176 491.9 176.9 489.7 177C487.6 177.1 473.5 177.1 471.3 177C469.2 176.9 471.2 176 471.3 175.8C471.4 175.6 471.6 175.3 471.9 175.2C472.2 175.1 473.4 175.1 474 175.1C474.6 175.1 476.4 174.9 477 174.8C477.6 174.7 478.7 174.3 479 174.2C479.4 174.1 479.8 173.7 480 173.6C480.3 173.5 480.8 173.5 481 173.6Z" fill="#62b45e" stroke="#62b45e" stroke-width="0.5" stroke-opacity="0.6"/>
<path d="M334.5 155V177" stroke="#4050a8" stroke-width="1.4"/>
<path d="M355.4 152V177" stroke="#d84530" stroke-width="1.4"/>
<path d="M376.2 156.3V177" stroke="#87a85a" stroke-width="1.4"/>
<path d="M397.1 159.5V177" stroke="#b5c48c" stroke-width="1.4"/>
<path d="M417.9 150.8V177" stroke="#7d5d52" stroke-width="1.4"/>
<ellipse cx="334.5" cy="171.3" rx="1.6" ry="1.4" fill="#4050a8"/>
<ellipse cx="355.4" cy="170.5" rx="1.3" ry="1.3" fill="#d84530"/>
<ellipse cx="417.9" cy="173.5" rx="1.4" ry="1.6" fill="#7d5d52"/>
<path d="M439.1 152.5C439.2 153.4 439.2 158.7 439.3 160C439.4 161.3 439.6 163.2 439.7 164C439.8 164.8 440.2 166.4 440.4 167C440.6 167.6 441 169 441.2 169.5C441.4 170 441.6 171 441.7 171.5C441.8 172 442 173.1 442.2 173.5C442.4 173.9 443.3 174.7 443.8 175C444.3 175.3 446.1 176 446.6 176.2C447.1 176.4 450 176.9 448 177C446 177.1 431.6 177.1 429.6 177C427.6 176.9 430.5 176.4 431 176.2C431.5 176 433.3 175.3 433.8 175C434.3 174.7 435.2 173.9 435.4 173.5C435.6 173.1 435.8 172 435.9 171.5C436 171 436.2 170 436.4 169.5C436.6 169 437 167.6 437.2 167C437.4 166.4 437.8 164.8 437.9 164C438 163.2 438.2 161.3 438.3 160C438.4 158.7 438.4 153.4 438.5 152.5C438.6 151.6 439 151.6 439.1 152.5Z" fill="#7b98ab" stroke="#7b98ab" stroke-width="0.5" stroke-opacity="0.6"/>
<path d="M461.5 145C461.9 145.3 461.5 147.3 461.6 148C461.6 148.7 461.5 150.4 461.7 151C461.8 151.6 462.4 152.5 462.7 153C462.9 153.5 463.7 154.4 464 155C464.3 155.6 465 157.3 465.3 158C465.5 158.7 465.8 160.4 465.9 161C465.9 161.6 465.5 163 465.5 163.5C465.4 164 465.2 165 465.3 165.5C465.4 166 465.9 167 466.3 167.5C466.6 168 467.6 169 468 169.5C468.3 170 468.8 171.4 469 172C469.1 172.6 469.1 174.4 469.2 175C469.2 175.6 471.4 176.8 469.2 177C466.9 177.2 452.4 177.2 450.2 177C447.9 176.8 450.1 175.6 450.2 175C450.2 174.4 450.2 172.6 450.4 172C450.5 171.4 451 170 451.4 169.5C451.7 169 452.7 168 453.1 167.5C453.4 167 454 166 454.1 165.5C454.2 165 453.9 164 453.9 163.5C453.8 163 453.4 161.6 453.5 161C453.5 160.4 453.8 158.7 454.1 158C454.3 157.3 455.1 155.6 455.4 155C455.7 154.4 456.4 153.5 456.7 153C456.9 152.5 457.5 151.6 457.7 151C457.8 150.4 457.7 148.7 457.8 148C457.8 147.3 457.4 145.3 457.9 145C458.3 144.7 461 144.7 461.5 145Z" fill="#6d3591" stroke="#6d3591" stroke-width="0.5" stroke-opacity="0.6"/>
<path d="M323.4 140.5V177.2H493.8" fill="none" stroke="#231f20" stroke-width="1.25"/>
<path d="M320 143.3H323.4M320 160.1H323.4M320 176.9H323.4M320.8 151.7H323.4M320.8 168.5H323.4M334.5 177.2V180M355.4 177.2V180M376.2 177.2V180M397.1 177.2V180M417.9 177.2V180M438.8 177.2V180M459.7 177.2V180M480.5 177.2V180" stroke="#231f20" stroke-width="1"/>
<text x="316.9" y="146.2" font-size="8" text-anchor="end">4</text>
<text x="316.9" y="162.9" font-size="8" text-anchor="end">2</text>
<text x="316.9" y="179.8" font-size="8" text-anchor="end">0</text>
<text x="334.5" y="190.1" font-size="8.2" text-anchor="middle">0</text>
<text x="355.4" y="190.1" font-size="8.2" text-anchor="middle">1</text>
<text x="376.2" y="190.1" font-size="8.2" text-anchor="middle">2</text>
<text x="397.1" y="190.1" font-size="8.2" text-anchor="middle">3</text>
<text x="417.9" y="190.1" font-size="8.2" text-anchor="middle">4</text>
<text x="438.8" y="190.1" font-size="8.2" text-anchor="middle">6</text>
<text x="459.7" y="190.1" font-size="8.2" text-anchor="middle">7</text>
<text x="480.5" y="190.1" font-size="8.2" text-anchor="middle">8</text>
<text x="391.3" y="140.3" font-size="10" textLength="33.7" lengthAdjust="spacingAndGlyphs">BCL2A1</text>
<text x="306.8" y="159.3" font-size="8.2" text-anchor="middle" textLength="52.8" lengthAdjust="spacingAndGlyphs" transform="rotate(-90 306.8 159.3)">Expression level</text>
<path d="M335 238C335.2 238.1 335.6 238.4 336 238.5C336.4 238.6 337.4 238.9 338 239C338.6 239.1 340.4 239.2 341 239.2C341.6 239.2 342.8 239.2 343.1 239.3C343.4 239.4 343.6 239.6 343.7 239.8C343.8 240 345.8 240.7 343.7 240.8C341.6 240.9 327.4 240.9 325.3 240.8C323.2 240.7 325.2 240 325.3 239.8C325.4 239.6 325.6 239.4 325.9 239.3C326.2 239.2 327.4 239.2 328 239.2C328.6 239.2 330.4 239.1 331 239C331.6 238.9 332.6 238.6 333 238.5C333.4 238.4 333.8 238.1 334 238C334.2 237.9 334.8 237.9 335 238Z" fill="#4050a8" stroke="#4050a8" stroke-width="0.5" stroke-opacity="0.6"/>
<path d="M355.9 238C356.1 238.1 356.5 238.4 356.9 238.5C357.2 238.6 358.3 238.9 358.9 239C359.4 239.1 361.3 239.2 361.9 239.2C362.5 239.2 363.6 239.2 364 239.3C364.3 239.4 364.5 239.6 364.6 239.8C364.6 240 366.7 240.7 364.6 240.8C362.4 240.9 348.3 240.9 346.2 240.8C344 240.7 346.1 240 346.2 239.8C346.2 239.6 346.4 239.4 346.8 239.3C347.1 239.2 348.3 239.2 348.9 239.2C349.5 239.2 351.3 239.1 351.9 239C352.4 238.9 353.5 238.6 353.9 238.5C354.2 238.4 354.6 238.1 354.9 238C355.1 237.9 355.6 237.9 355.9 238Z" fill="#d84530" stroke="#d84530" stroke-width="0.5" stroke-opacity="0.6"/>
<path d="M376.7 238C377 238.1 377.4 238.4 377.7 238.5C378.1 238.6 379.1 238.9 379.7 239C380.3 239.1 382.1 239.2 382.7 239.2C383.3 239.2 384.5 239.2 384.8 239.3C385.1 239.4 385.4 239.6 385.4 239.8C385.5 240 387.6 240.7 385.4 240.8C383.3 240.9 369.2 240.9 367 240.8C364.9 240.7 367 240 367 239.8C367.1 239.6 367.3 239.4 367.6 239.3C367.9 239.2 369.1 239.2 369.7 239.2C370.3 239.2 372.1 239.1 372.7 239C373.3 238.9 374.4 238.6 374.7 238.5C375.1 238.4 375.5 238.1 375.7 238C376 237.9 376.5 237.9 376.7 238Z" fill="#87a85a" stroke="#87a85a" stroke-width="0.5" stroke-opacity="0.6"/>
<path d="M397.6 238C397.8 238.1 398.2 238.4 398.6 238.5C398.9 238.6 400 238.9 400.6 239C401.2 239.1 403 239.2 403.6 239.2C404.2 239.2 405.4 239.2 405.7 239.3C406 239.4 406.2 239.6 406.3 239.8C406.3 240 408.4 240.7 406.3 240.8C404.1 240.9 390 240.9 387.9 240.8C385.7 240.7 387.8 240 387.9 239.8C387.9 239.6 388.2 239.4 388.5 239.3C388.8 239.2 390 239.2 390.6 239.2C391.2 239.2 393 239.1 393.6 239C394.2 238.9 395.2 238.6 395.6 238.5C395.9 238.4 396.3 238.1 396.6 238C396.8 237.9 397.3 237.9 397.6 238Z" fill="#b5c48c" stroke="#b5c48c" stroke-width="0.5" stroke-opacity="0.6"/>
<path d="M418.4 238C418.7 238.1 419.1 238.4 419.4 238.5C419.8 238.6 420.9 238.9 421.4 239C422 239.1 423.8 239.2 424.4 239.2C425 239.2 426.2 239.2 426.5 239.3C426.9 239.4 427.1 239.6 427.1 239.8C427.2 240 429.3 240.7 427.1 240.8C425 240.9 410.9 240.9 408.7 240.8C406.6 240.7 408.7 240 408.7 239.8C408.8 239.6 409 239.4 409.3 239.3C409.7 239.2 410.8 239.2 411.4 239.2C412 239.2 413.9 239.1 414.4 239C415 238.9 416.1 238.6 416.4 238.5C416.8 238.4 417.2 238.1 417.4 238C417.7 237.9 418.2 237.9 418.4 238Z" fill="#7d5d52" stroke="#7d5d52" stroke-width="0.5" stroke-opacity="0.6"/>
<path d="M439.3 238C439.5 238.1 439.9 238.4 440.3 238.5C440.7 238.6 441.7 238.9 442.3 239C442.9 239.1 444.7 239.2 445.3 239.2C445.9 239.2 447.1 239.2 447.4 239.3C447.7 239.4 447.9 239.6 448 239.8C448.1 240 450.1 240.7 448 240.8C445.9 240.9 431.7 240.9 429.6 240.8C427.5 240.7 429.5 240 429.6 239.8C429.7 239.6 429.9 239.4 430.2 239.3C430.5 239.2 431.7 239.2 432.3 239.2C432.9 239.2 434.7 239.1 435.3 239C435.9 238.9 436.9 238.6 437.3 238.5C437.7 238.4 438.1 238.1 438.3 238C438.5 237.9 439.1 237.9 439.3 238Z" fill="#7b98ab" stroke="#7b98ab" stroke-width="0.5" stroke-opacity="0.6"/>
<path d="M460.2 238C460.4 238.1 460.8 238.4 461.2 238.5C461.5 238.6 462.6 238.9 463.2 239C463.7 239.1 465.6 239.2 466.2 239.2C466.8 239.2 467.9 239.2 468.3 239.3C468.6 239.4 468.8 239.6 468.9 239.8C468.9 240 471 240.7 468.9 240.8C466.7 240.9 452.6 240.9 450.5 240.8C448.3 240.7 450.4 240 450.5 239.8C450.5 239.6 450.7 239.4 451.1 239.3C451.4 239.2 452.6 239.2 453.2 239.2C453.8 239.2 455.6 239.1 456.2 239C456.7 238.9 457.8 238.6 458.2 238.5C458.5 238.4 458.9 238.1 459.2 238C459.4 237.9 459.9 237.9 460.2 238Z" fill="#6d3591" stroke="#6d3591" stroke-width="0.5" stroke-opacity="0.6"/>
<path d="M481 238C481.3 238.1 481.7 238.4 482 238.5C482.4 238.6 483.4 238.9 484 239C484.6 239.1 486.4 239.2 487 239.2C487.6 239.2 488.8 239.2 489.1 239.3C489.4 239.4 489.6 239.6 489.7 239.8C489.8 240 491.9 240.7 489.7 240.8C487.6 240.9 473.5 240.9 471.3 240.8C469.2 240.7 471.2 240 471.3 239.8C471.4 239.6 471.6 239.4 471.9 239.3C472.2 239.2 473.4 239.2 474 239.2C474.6 239.2 476.4 239.1 477 239C477.6 238.9 478.7 238.6 479 238.5C479.4 238.4 479.8 238.1 480 238C480.3 237.9 480.8 237.9 481 238Z" fill="#62b45e" stroke="#62b45e" stroke-width="0.5" stroke-opacity="0.6"/>
<path d="M334.5 218.8V240.8" stroke="#4050a8" stroke-width="1.4"/>
<path d="M355.4 217.5V240.8" stroke="#d84530" stroke-width="1.4"/>
<path d="M376.2 218.8V240.8" stroke="#87a85a" stroke-width="1.4"/>
<path d="M397.1 208V240.8" stroke="#b5c48c" stroke-width="1.4"/>
<path d="M417.9 221.2V240.8" stroke="#7d5d52" stroke-width="1.4"/>
<path d="M438.8 228V240.8" stroke="#7b98ab" stroke-width="1.4"/>
<path d="M459.7 222V240.8" stroke="#6d3591" stroke-width="1.4"/>
<path d="M480.5 216.2V240.8" stroke="#62b45e" stroke-width="1.4"/>
<path d="M323.4 207V241H493.8" fill="none" stroke="#231f20" stroke-width="1.25"/>
<path d="M320 210.2H323.4M320 225.3H323.4M320 240.4H323.4M320.8 217.7H323.4M320.8 232.8H323.4M334.5 241V243.8M355.4 241V243.8M376.2 241V243.8M397.1 241V243.8M417.9 241V243.8M438.8 241V243.8M459.7 241V243.8M480.5 241V243.8" stroke="#231f20" stroke-width="1"/>
<text x="316.9" y="213" font-size="8" text-anchor="end">2</text>
<text x="316.9" y="228.2" font-size="8" text-anchor="end">1</text>
<text x="316.9" y="243.2" font-size="8" text-anchor="end">0</text>
<text x="334.5" y="255.1" font-size="8.2" text-anchor="middle">0</text>
<text x="355.4" y="255.1" font-size="8.2" text-anchor="middle">1</text>
<text x="376.2" y="255.1" font-size="8.2" text-anchor="middle">2</text>
<text x="397.1" y="255.1" font-size="8.2" text-anchor="middle">3</text>
<text x="417.9" y="255.1" font-size="8.2" text-anchor="middle">4</text>
<text x="438.8" y="255.1" font-size="8.2" text-anchor="middle">6</text>
<text x="459.7" y="255.1" font-size="8.2" text-anchor="middle">7</text>
<text x="480.5" y="255.1" font-size="8.2" text-anchor="middle">8</text>
<text x="377" y="206.3" font-size="10" textLength="64.2" lengthAdjust="spacingAndGlyphs">BCL2L1/BCLxL</text>
<text x="408.4" y="267" font-size="8.5" text-anchor="middle" textLength="25.5" lengthAdjust="spacingAndGlyphs">Identity</text>
<path d="M335.1 296C335.3 296.5 335.2 299.7 335.5 300.5C335.8 301.3 337.4 302 338 302.5C338.6 303 340.4 304.4 341 305C341.6 305.6 342.8 306.9 343.2 307.5C343.6 308.1 344 309.4 344 310C344 310.6 343.4 311.9 343 312.5C342.6 313.1 341.1 314.4 340.5 315C339.9 315.6 338.2 316.9 337.7 317.5C337.2 318.1 336.1 319.2 335.8 320C335.5 320.8 335.3 323.5 335.1 324C334.9 324.5 334.1 324.5 333.9 324C333.7 323.5 333.5 320.8 333.2 320C332.9 319.2 331.8 318.1 331.3 317.5C330.8 316.9 329.1 315.6 328.5 315C327.9 314.4 326.4 313.1 326 312.5C325.6 311.9 325 310.6 325 310C325 309.4 325.4 308.1 325.8 307.5C326.2 306.9 327.4 305.6 328 305C328.6 304.4 330.4 303 331 302.5C331.6 302 333.2 301.3 333.5 300.5C333.8 299.7 333.7 296.5 333.9 296C334.1 295.5 334.9 295.5 335.1 296Z" fill="#3d4fb0" stroke="#3d4fb0" stroke-width="0.5" stroke-opacity="0.6"/>
<path d="M354.1 300C354.3 300.5 354.4 303.3 354.7 304C355 304.7 356.4 305.5 357 306C357.6 306.5 359.4 307.9 360 308.5C360.6 309.1 361.8 310.4 362.1 311C362.4 311.6 362.7 312.9 362.7 313.5C362.7 314.1 362.3 315.4 362 316C361.7 316.6 360.6 318 360 318.5C359.4 319 357.6 320.1 357 320.5C356.4 320.9 355.3 321.5 355 322C354.7 322.5 354.3 324.6 354.1 325C353.9 325.4 353.1 325.4 352.9 325C352.7 324.6 352.3 322.5 352 322C351.7 321.5 350.6 320.9 350 320.5C349.4 320.1 347.6 319 347 318.5C346.4 318 345.3 316.6 345 316C344.7 315.4 344.3 314.1 344.3 313.5C344.3 312.9 344.6 311.6 344.9 311C345.2 310.4 346.4 309.1 347 308.5C347.6 307.9 349.4 306.5 350 306C350.6 305.5 352 304.7 352.3 304C352.6 303.3 352.7 300.5 352.9 300C353.1 299.5 353.9 299.5 354.1 300Z" fill="#d9322a" stroke="#d9322a" stroke-width="0.5" stroke-opacity="0.6"/>
<path d="M373.1 295C373.3 295.7 373.2 300 373.5 301C373.8 302 375.4 302.9 376 303.5C376.6 304.1 378.4 305.9 379 306.5C379.6 307.1 380.8 308.5 381.1 309C381.4 309.5 381.7 310.5 381.7 311C381.7 311.5 381.2 312.9 380.8 313.5C380.4 314.1 378.9 315.4 378.3 316C377.7 316.6 376 318 375.5 318.5C375 319 374.1 319.8 373.8 320.5C373.5 321.2 373.3 324 373.1 324.5C372.9 325 372.1 325 371.9 324.5C371.7 324 371.5 321.2 371.2 320.5C370.9 319.8 370 319 369.5 318.5C369 318 367.3 316.6 366.7 316C366.1 315.4 364.6 314.1 364.2 313.5C363.8 312.9 363.3 311.5 363.3 311C363.3 310.5 363.6 309.5 363.9 309C364.2 308.5 365.4 307.1 366 306.5C366.6 305.9 368.4 304.1 369 303.5C369.6 302.9 371.2 302 371.5 301C371.8 300 371.7 295.7 371.9 295C372.1 294.3 372.9 294.3 373.1 295Z" fill="#5e8c3e" stroke="#5e8c3e" stroke-width="0.5" stroke-opacity="0.6"/>
<path d="M392.1 300C392.3 300.4 392.3 302.4 392.7 303C393.1 303.6 394.6 304.5 395.3 305C396 305.5 397.7 306.9 398.3 307.5C398.9 308.1 399.9 309.5 400.2 310C400.5 310.5 400.6 311.5 400.5 312C400.4 312.5 399.9 313.9 399.5 314.5C399.1 315.1 397.6 316.4 397 317C396.4 317.6 394.5 319 394 319.5C393.5 320 392.7 320.5 392.5 321C392.3 321.5 392.3 323.6 392.1 324C391.9 324.4 391.1 324.4 390.9 324C390.7 323.6 390.7 321.5 390.5 321C390.3 320.5 389.5 320 389 319.5C388.5 319 386.6 317.6 386 317C385.4 316.4 383.9 315.1 383.5 314.5C383.1 313.9 382.6 312.5 382.5 312C382.4 311.5 382.5 310.5 382.8 310C383.1 309.5 384.1 308.1 384.7 307.5C385.3 306.9 387 305.5 387.7 305C388.4 304.5 389.9 303.6 390.3 303C390.7 302.4 390.7 300.4 390.9 300C391.1 299.6 391.9 299.6 392.1 300Z" fill="#f2ee80" stroke="#f2ee80" stroke-width="0.5" stroke-opacity="0.6"/>
<path d="M411.1 297C411.3 297.4 411.4 299.9 411.7 300.5C412 301.1 413.4 302 414 302.5C414.6 303 416.3 304.5 416.8 305C417.3 305.5 418.4 306.6 418.7 307C419 307.4 419.3 308.3 419.2 308.8C419.2 309.2 418.7 310.4 418.3 311C417.9 311.6 416.1 313 415.5 313.5C414.9 314 413.3 315.1 412.9 315.5C412.5 315.9 411.9 316.3 411.7 317C411.5 317.7 411.3 320.8 411.1 321.2C410.9 321.7 410.1 321.7 409.9 321.2C409.7 320.8 409.5 317.7 409.3 317C409.1 316.3 408.5 315.9 408.1 315.5C407.7 315.1 406.1 314 405.5 313.5C404.9 313 403.1 311.6 402.7 311C402.3 310.4 401.8 309.2 401.8 308.8C401.7 308.3 402 307.4 402.3 307C402.6 306.6 403.7 305.5 404.2 305C404.7 304.5 406.4 303 407 302.5C407.6 302 409 301.1 409.3 300.5C409.6 299.9 409.7 297.4 409.9 297C410.1 296.6 410.9 296.6 411.1 297Z" fill="#2f5f8a" stroke="#2f5f8a" stroke-width="0.5" stroke-opacity="0.6"/>
<path d="M430.1 303C430.3 303.2 430.6 304.5 431 305C431.4 305.5 432.9 306.5 433.5 307C434.1 307.5 436 308.9 436.5 309.5C437 310.1 437.9 311.4 438 312C438.1 312.6 437.8 313.9 437.5 314.5C437.2 315.1 436.1 316.4 435.5 317C434.9 317.6 433.1 319 432.5 319.5C431.9 320 431 320.6 430.7 321C430.4 321.4 430.3 322.8 430.1 323C429.9 323.2 429.1 323.2 428.9 323C428.7 322.8 428.6 321.4 428.3 321C428 320.6 427.1 320 426.5 319.5C425.9 319 424.1 317.6 423.5 317C422.9 316.4 421.8 315.1 421.5 314.5C421.2 313.9 420.9 312.6 421 312C421.1 311.4 422 310.1 422.5 309.5C423 308.9 424.9 307.5 425.5 307C426.1 306.5 427.6 305.5 428 305C428.4 304.5 428.7 303.2 428.9 303C429.1 302.8 429.9 302.8 430.1 303Z" fill="#c8622e" stroke="#c8622e" stroke-width="0.5" stroke-opacity="0.6"/>
<path d="M449.1 296.2C449.4 296.5 450 297.6 450.5 298C451 298.4 452.4 299.5 453 300C453.6 300.5 455.1 301.9 455.5 302.5C455.9 303.1 456.6 304.4 456.8 305C457 305.6 457.1 307.3 457.1 308C457.1 308.7 457.2 310.4 457.1 311C457 311.6 456.4 312.9 456 313.5C455.6 314.1 454.1 315.4 453.5 316C452.9 316.6 451 317.9 450.5 318.5C450 319.1 449.4 320.9 449.1 321.2C448.8 321.6 448.2 321.6 447.9 321.2C447.6 320.9 447 319.1 446.5 318.5C446 317.9 444.1 316.6 443.5 316C442.9 315.4 441.4 314.1 441 313.5C440.6 312.9 440 311.6 439.9 311C439.8 310.4 439.9 308.7 439.9 308C439.9 307.3 440 305.6 440.2 305C440.4 304.4 441.1 303.1 441.5 302.5C441.9 301.9 443.4 300.5 444 300C444.6 299.5 446 298.4 446.5 298C447 297.6 447.6 296.5 447.9 296.2C448.2 296 448.8 296 449.1 296.2Z" fill="#4aaee8" stroke="#4aaee8" stroke-width="0.5" stroke-opacity="0.6"/>
<path d="M468.5 298.5C469 298.6 470 298.8 470.5 299C471 299.2 472.2 299.7 472.7 300C473.2 300.3 474.1 301.1 474.5 301.5C474.9 301.9 475.7 303 475.9 303.5C476.1 304 476.3 305 476.2 305.5C476.2 306 476 307 475.7 307.5C475.4 308 474.3 309.1 473.8 309.5C473.3 309.9 471.6 310.6 471 311C470.4 311.4 469 311.3 468.7 312.5C468.4 313.7 468.3 320.2 468.1 321.2C467.9 322.3 467.1 322.3 466.9 321.2C466.7 320.2 466.6 313.7 466.3 312.5C466 311.3 464.6 311.4 464 311C463.4 310.6 461.7 309.9 461.2 309.5C460.7 309.1 459.6 308 459.3 307.5C459 307 458.8 306 458.8 305.5C458.7 305 458.9 304 459.1 303.5C459.3 303 460.1 301.9 460.5 301.5C460.9 301.1 461.8 300.3 462.3 300C462.8 299.7 464 299.2 464.5 299C465 298.8 466 298.6 466.5 298.5C467 298.4 468 298.4 468.5 298.5Z" fill="#8a1a6e" stroke="#8a1a6e" stroke-width="0.5" stroke-opacity="0.6"/>
<path d="M487.7 300C488.1 300.2 488.1 301.6 488.3 302C488.5 302.4 489.1 303.1 489.5 303.5C489.9 303.9 491 305 491.5 305.5C492 306 493.4 307.4 493.8 308C494.2 308.6 494.9 310 495.1 310.5C495.3 311 495.3 312 495.2 312.5C495.2 313 494.7 314.4 494.3 315C493.9 315.6 492.6 317 492 317.5C491.4 318 490 319.1 489.5 319.5C489 319.9 488 321 487.5 321.2C487 321.5 486 321.5 485.5 321.2C485 321 484 319.9 483.5 319.5C483 319.1 481.6 318 481 317.5C480.4 317 479.1 315.6 478.7 315C478.3 314.4 477.8 313 477.8 312.5C477.7 312 477.7 311 477.9 310.5C478.1 310 478.8 308.6 479.2 308C479.6 307.4 481 306 481.5 305.5C482 305 483.1 303.9 483.5 303.5C483.9 303.1 484.5 302.4 484.7 302C484.9 301.6 484.9 300.2 485.3 300C485.7 299.8 487.3 299.8 487.7 300Z" fill="#5fbf4f" stroke="#5fbf4f" stroke-width="0.5" stroke-opacity="0.6"/>
<path d="M323.4 292.5V327.6H501.3" fill="none" stroke="#231f20" stroke-width="1.25"/>
<path d="M320 294.5H323.4M320 306.7H323.4M320 318.9H323.4M334.5 327.6V330.4M353.5 327.6V330.4M372.5 327.6V330.4M391.5 327.6V330.4M410.5 327.6V330.4M429.5 327.6V330.4M448.5 327.6V330.4M467.5 327.6V330.4M486.5 327.6V330.4" stroke="#231f20" stroke-width="1"/>
<text x="316.9" y="297.4" font-size="8" text-anchor="end">2</text>
<text x="316.9" y="309.6" font-size="8" text-anchor="end">1</text>
<text x="316.9" y="321.8" font-size="8" text-anchor="end">0</text>
<text x="334.5" y="340.1" font-size="8.2" text-anchor="middle">0</text>
<text x="353.5" y="340.1" font-size="8.2" text-anchor="middle">1</text>
<text x="372.5" y="340.1" font-size="8.2" text-anchor="middle">2</text>
<text x="391.5" y="340.1" font-size="8.2" text-anchor="middle">3</text>
<text x="410.5" y="340.1" font-size="8.2" text-anchor="middle">4</text>
<text x="429.5" y="340.1" font-size="8.2" text-anchor="middle">5</text>
<text x="448.5" y="340.1" font-size="8.2" text-anchor="middle">6</text>
<text x="467.5" y="340.1" font-size="8.2" text-anchor="middle">7</text>
<text x="486.5" y="340.1" font-size="8.2" text-anchor="middle">8</text>
<text x="373.8" y="290.5" font-size="10" textLength="77.5" lengthAdjust="spacingAndGlyphs">1q21 (MCL1) amp</text>
<text x="305.6" y="310" font-size="8.2" text-anchor="middle" textLength="37" lengthAdjust="spacingAndGlyphs" transform="rotate(-90 305.6 310)">Relative CN</text>
<path d="M335.1 358C335.3 358.7 335.2 362.8 335.7 364C336.2 365.2 338.7 367 339.5 368C340.3 369 342.9 371.4 342.9 372.5C342.9 373.6 340.3 375.9 339.5 377C338.7 378.1 336.5 380.5 336 382C335.5 383.5 335.3 389.1 335.1 390C334.9 390.9 334.1 390.9 333.9 390C333.7 389.1 333.5 383.5 333 382C332.5 380.5 330.3 378.1 329.5 377C328.7 375.9 326.1 373.6 326.1 372.5C326.1 371.4 328.7 369 329.5 368C330.3 367 332.8 365.2 333.3 364C333.8 362.8 333.7 358.7 333.9 358C334.1 357.3 334.9 357.3 335.1 358Z" fill="#3d4fb0" stroke="#3d4fb0" stroke-width="0.5" stroke-opacity="0.6"/>
<path d="M354.1 361.2C354.3 361.8 354.4 365 355 366C355.6 367 358.2 368.9 359 370C359.8 371.1 362.1 373.8 362 375C361.9 376.2 358.8 378.9 358 380C357.2 381.1 355.5 382.8 355 384C354.5 385.2 354.3 389.3 354.1 390C353.9 390.7 353.1 390.7 352.9 390C352.7 389.3 352.5 385.2 352 384C351.5 382.8 349.8 381.1 349 380C348.2 378.9 345.1 376.2 345 375C344.9 373.8 347.2 371.1 348 370C348.8 368.9 351.4 367 352 366C352.6 365 352.7 361.8 352.9 361.2C353.1 360.7 353.9 360.7 354.1 361.2Z" fill="#d9322a" stroke="#d9322a" stroke-width="0.5" stroke-opacity="0.6"/>
<path d="M373.1 362.5C373.3 363 373.4 366.1 374 367C374.6 367.9 377.7 369.6 378.5 370.5C379.3 371.4 381 373.6 381 374.5C381 375.4 379.3 377.1 378.5 378C377.7 378.9 375.1 380.8 374.5 382C373.9 383.2 373.4 387.3 373.1 388C372.8 388.7 372.2 388.7 371.9 388C371.6 387.3 371.1 383.2 370.5 382C369.9 380.8 367.3 378.9 366.5 378C365.7 377.1 364 375.4 364 374.5C364 373.6 365.7 371.4 366.5 370.5C367.3 369.6 370.4 367.9 371 367C371.6 366.1 371.7 363 371.9 362.5C372.1 362 372.9 362 373.1 362.5Z" fill="#5e8c3e" stroke="#5e8c3e" stroke-width="0.5" stroke-opacity="0.6"/>
<path d="M392.1 363.8C392.4 364.2 392.9 367.2 393.5 368C394.1 368.8 396.7 370.2 397.5 371C398.3 371.8 400 373.7 400 374.5C400 375.3 398.3 377.1 397.5 378C396.7 378.9 394.1 380.7 393.5 382C392.9 383.3 392.4 388.2 392.1 389C391.8 389.8 391.2 389.8 390.9 389C390.6 388.2 390.1 383.3 389.5 382C388.9 380.7 386.3 378.9 385.5 378C384.7 377.1 383 375.3 383 374.5C383 373.7 384.7 371.8 385.5 371C386.3 370.2 388.9 368.8 389.5 368C390.1 367.2 390.6 364.2 390.9 363.8C391.2 363.3 391.8 363.3 392.1 363.8Z" fill="#f2ee80" stroke="#f2ee80" stroke-width="0.5" stroke-opacity="0.6"/>
<path d="M411.1 361.2C411.4 361.6 411.9 363.8 412.5 364.5C413.1 365.2 415.8 366.7 416.5 367.5C417.2 368.3 418.9 370.4 418.9 371.2C418.9 372.1 417.1 373.8 416.5 374.5C415.9 375.2 414.4 376.9 414 377.5C413.6 378.1 413.3 379.6 413 380C412.7 380.4 411.9 380.9 411.5 381C411.1 381.1 409.9 381.1 409.5 381C409.1 380.9 408.3 380.4 408 380C407.7 379.6 407.4 378.1 407 377.5C406.6 376.9 405.1 375.2 404.5 374.5C403.9 373.8 402.1 372.1 402.1 371.2C402.1 370.4 403.8 368.3 404.5 367.5C405.2 366.7 407.9 365.2 408.5 364.5C409.1 363.8 409.6 361.6 409.9 361.2C410.2 360.9 410.8 360.9 411.1 361.2Z" fill="#2f5f8a" stroke="#2f5f8a" stroke-width="0.5" stroke-opacity="0.6"/>
<path d="M430.1 365C430.5 365.2 431.4 366.3 432 367C432.6 367.7 434.8 370.1 435.5 371C436.2 371.9 438.1 374.1 438.2 375C438.4 375.9 437.1 378.1 436.5 379C435.9 379.9 434.1 382.2 433.5 383C432.9 383.8 431.9 385.5 431.5 386C431.1 386.5 430.1 386.7 430.1 387C430.1 387.3 431.3 388.1 431.5 388.5C431.7 388.9 432.5 389.8 432 390C431.5 390.2 427.5 390.2 427 390C426.5 389.8 427.3 388.9 427.5 388.5C427.7 388.1 428.9 387.3 428.9 387C428.9 386.7 427.9 386.5 427.5 386C427.1 385.5 426.1 383.8 425.5 383C424.9 382.2 423.1 379.9 422.5 379C421.9 378.1 420.6 375.9 420.8 375C420.9 374.1 422.8 371.9 423.5 371C424.2 370.1 426.4 367.7 427 367C427.6 366.3 428.5 365.2 428.9 365C429.3 364.8 429.7 364.8 430.1 365Z" fill="#c8622e" stroke="#c8622e" stroke-width="0.5" stroke-opacity="0.6"/>
<path d="M449.1 361.2C449.5 361.6 450.8 363.3 451.5 364C452.2 364.7 454.3 366.2 455 367C455.7 367.8 457.2 370.3 457.2 371.2C457.2 372.2 455.7 374.3 455 375C454.3 375.7 452.1 377 451.5 377.5C450.9 378 450 377.5 449.7 379C449.4 380.5 449.3 388.7 449.1 390C448.9 391.3 448.1 391.3 447.9 390C447.7 388.7 447.6 380.5 447.3 379C447 377.5 446.1 378 445.5 377.5C444.9 377 442.7 375.7 442 375C441.3 374.3 439.8 372.2 439.8 371.2C439.8 370.3 441.3 367.8 442 367C442.7 366.2 444.8 364.7 445.5 364C446.2 363.3 447.5 361.6 447.9 361.2C448.3 360.9 448.7 360.9 449.1 361.2Z" fill="#4aaee8" stroke="#4aaee8" stroke-width="0.5" stroke-opacity="0.6"/>
<path d="M468.1 362C468.5 362.4 469.4 364.2 470 365C470.6 365.8 472.8 367.7 473.5 368.5C474.2 369.3 476.2 371.2 476.2 372C476.2 372.8 474.2 374.3 473.5 375C472.8 375.7 470.6 377.4 470 378C469.4 378.6 468.7 379 468.5 380C468.3 381 468.3 385.5 468.1 386.2C467.9 387 467.1 387 466.9 386.2C466.7 385.5 466.7 381 466.5 380C466.3 379 465.6 378.6 465 378C464.4 377.4 462.2 375.7 461.5 375C460.8 374.3 458.8 372.8 458.8 372C458.8 371.2 460.8 369.3 461.5 368.5C462.2 367.7 464.4 365.8 465 365C465.6 364.2 466.5 362.4 466.9 362C467.3 361.6 467.7 361.6 468.1 362Z" fill="#8a1a6e" stroke="#8a1a6e" stroke-width="0.5" stroke-opacity="0.6"/>
<path d="M487.1 365C487.5 365.3 488.4 366.9 489 367.5C489.6 368.1 491.8 369.5 492.5 370C493.2 370.5 494.9 371.4 495 372C495.1 372.6 493.6 374.4 493 375C492.4 375.6 490.5 376.9 490 377.5C489.5 378.1 489.2 379.3 489 380C488.8 380.7 489.2 383.3 488.7 383.8C488.2 384.2 484.8 384.2 484.3 383.8C483.8 383.3 484.2 380.7 484 380C483.8 379.3 483.5 378.1 483 377.5C482.5 376.9 480.6 375.6 480 375C479.4 374.4 477.9 372.6 478 372C478.1 371.4 479.8 370.5 480.5 370C481.2 369.5 483.4 368.1 484 367.5C484.6 366.9 485.5 365.3 485.9 365C486.3 364.7 486.7 364.7 487.1 365Z" fill="#5fbf4f" stroke="#5fbf4f" stroke-width="0.5" stroke-opacity="0.6"/>
<path d="M323.4 356.3V390.8H501.3" fill="none" stroke="#231f20" stroke-width="1.25"/>
<path d="M320 358.8H323.4M320 374.6H323.4M320 390.4H323.4M320.8 366.7H323.4M320.8 382.5H323.4M334.5 390.8V393.6M353.5 390.8V393.6M372.5 390.8V393.6M391.5 390.8V393.6M410.5 390.8V393.6M429.5 390.8V393.6M448.5 390.8V393.6M467.5 390.8V393.6M486.5 390.8V393.6" stroke="#231f20" stroke-width="1"/>
<text x="316.9" y="361.7" font-size="8" text-anchor="end">8</text>
<text x="316.9" y="377.5" font-size="8" text-anchor="end">4</text>
<text x="316.9" y="393.2" font-size="8" text-anchor="end">0</text>
<text x="334.5" y="404.2" font-size="8.2" text-anchor="middle">0</text>
<text x="353.5" y="404.2" font-size="8.2" text-anchor="middle">1</text>
<text x="372.5" y="404.2" font-size="8.2" text-anchor="middle">2</text>
<text x="391.5" y="404.2" font-size="8.2" text-anchor="middle">3</text>
<text x="410.5" y="404.2" font-size="8.2" text-anchor="middle">4</text>
<text x="429.5" y="404.2" font-size="8.2" text-anchor="middle">5</text>
<text x="448.5" y="404.2" font-size="8.2" text-anchor="middle">6</text>
<text x="467.5" y="404.2" font-size="8.2" text-anchor="middle">7</text>
<text x="486.5" y="404.2" font-size="8.2" text-anchor="middle">8</text>
<text x="399.5" y="353.8" font-size="10" textLength="24.2" lengthAdjust="spacingAndGlyphs">MCL1</text>
<rect x="325.5" y="444" width="18" height="2.6" rx="0.8" fill="#3d4fb0" fill-opacity="0.55"/>
<rect x="344.5" y="444" width="18" height="2.6" rx="0.8" fill="#d9322a" fill-opacity="0.55"/>
<rect x="363.5" y="444" width="18" height="2.6" rx="0.8" fill="#5e8c3e" fill-opacity="0.55"/>
<rect x="382.5" y="444" width="18" height="2.6" rx="0.8" fill="#f2ee80" fill-opacity="0.55"/>
<rect x="401.5" y="444" width="18" height="2.6" rx="0.8" fill="#2f5f8a" fill-opacity="0.55"/>
<rect x="420.5" y="444" width="18" height="2.6" rx="0.8" fill="#c8622e" fill-opacity="0.55"/>
<rect x="439.5" y="444" width="18" height="2.6" rx="0.8" fill="#4aaee8" fill-opacity="0.55"/>
<rect x="458.5" y="444" width="18" height="2.6" rx="0.8" fill="#8a1a6e" fill-opacity="0.55"/>
<rect x="477.5" y="444" width="18" height="2.6" rx="0.8" fill="#5fbf4f" fill-opacity="0.55"/>
<path d="M334.5 422V446.6" stroke="#3d4fb0" stroke-width="1.5"/>
<path d="M353.5 413.8V446.6" stroke="#d9322a" stroke-width="1.5"/>
<path d="M372.5 428.8V446.6" stroke="#5e8c3e" stroke-width="1.5"/>
<path d="M391.5 426.2V446.6" stroke="#f2ee80" stroke-width="1.5"/>
<path d="M410.5 432.5V446.6" stroke="#2f5f8a" stroke-width="1.5"/>
<path d="M429.5 429.5V446.6" stroke="#c8622e" stroke-width="1.5"/>
<path d="M467.5 439.5V446.6" stroke="#8a1a6e" stroke-width="1.5"/>
<path d="M486.5 440V446.6" stroke="#5fbf4f" stroke-width="1.5"/>
<path d="M323.4 412.5V446.9H501.3" fill="none" stroke="#231f20" stroke-width="1.25"/>
<path d="M320 422.6H323.4M320 434.3H323.4M320 446H323.4M334.5 446.9V449.7M353.5 446.9V449.7M372.5 446.9V449.7M391.5 446.9V449.7M410.5 446.9V449.7M429.5 446.9V449.7M448.5 446.9V449.7M467.5 446.9V449.7M486.5 446.9V449.7" stroke="#231f20" stroke-width="1"/>
<text x="316.9" y="425.5" font-size="8" text-anchor="end">4</text>
<text x="316.9" y="437.2" font-size="8" text-anchor="end">2</text>
<text x="316.9" y="448.9" font-size="8" text-anchor="end">0</text>
<text x="334.5" y="459.2" font-size="8.2" text-anchor="middle">0</text>
<text x="353.5" y="459.2" font-size="8.2" text-anchor="middle">1</text>
<text x="372.5" y="459.2" font-size="8.2" text-anchor="middle">2</text>
<text x="391.5" y="459.2" font-size="8.2" text-anchor="middle">3</text>
<text x="410.5" y="459.2" font-size="8.2" text-anchor="middle">4</text>
<text x="429.5" y="459.2" font-size="8.2" text-anchor="middle">5</text>
<text x="448.5" y="459.2" font-size="8.2" text-anchor="middle">6</text>
<text x="467.5" y="459.2" font-size="8.2" text-anchor="middle">7</text>
<text x="486.5" y="459.2" font-size="8.2" text-anchor="middle">8</text>
<text x="394.5" y="420" font-size="10" textLength="34.2" lengthAdjust="spacingAndGlyphs">BCL2A1</text>
<text x="306" y="429.3" font-size="8.2" text-anchor="middle" textLength="53.5" lengthAdjust="spacingAndGlyphs" transform="rotate(-90 306 429.3)">Expression level</text>
<rect x="325.5" y="506.8" width="18" height="2.4" rx="0.8" fill="#3d4fb0" fill-opacity="0.55"/>
<rect x="344.5" y="506.8" width="18" height="2.4" rx="0.8" fill="#d9322a" fill-opacity="0.55"/>
<rect x="363.5" y="506.8" width="18" height="2.4" rx="0.8" fill="#5e8c3e" fill-opacity="0.55"/>
<rect x="382.5" y="506.8" width="18" height="2.4" rx="0.8" fill="#f2ee80" fill-opacity="0.55"/>
<rect x="401.5" y="506.8" width="18" height="2.4" rx="0.8" fill="#2f5f8a" fill-opacity="0.55"/>
<rect x="420.5" y="506.8" width="18" height="2.4" rx="0.8" fill="#c8622e" fill-opacity="0.55"/>
<rect x="439.5" y="506.8" width="18" height="2.4" rx="0.8" fill="#4aaee8" fill-opacity="0.55"/>
<rect x="458.5" y="506.8" width="18" height="2.4" rx="0.8" fill="#8a1a6e" fill-opacity="0.55"/>
<rect x="477.5" y="506.8" width="18" height="2.4" rx="0.8" fill="#5fbf4f" fill-opacity="0.55"/>
<path d="M334.5 482V509.2" stroke="#3d4fb0" stroke-width="1.5"/>
<path d="M353.5 478V509.2" stroke="#d9322a" stroke-width="1.5"/>
<path d="M372.5 477V509.2" stroke="#5e8c3e" stroke-width="1.5"/>
<path d="M391.5 485V509.2" stroke="#f2ee80" stroke-width="1.5"/>
<path d="M410.5 487.5V509.2" stroke="#2f5f8a" stroke-width="1.5"/>
<path d="M429.5 482V509.2" stroke="#c8622e" stroke-width="1.5"/>
<path d="M448.5 481.2V509.2" stroke="#4aaee8" stroke-width="1.5"/>
<path d="M467.5 488.8V509.2" stroke="#8a1a6e" stroke-width="1.5"/>
<path d="M486.5 490V509.2" stroke="#5fbf4f" stroke-width="1.5"/>
<ellipse cx="334.5" cy="500" rx="1.7" ry="2.6" fill="#3d4fb0"/>
<path d="M323.4 473V509.5H501.3" fill="none" stroke="#231f20" stroke-width="1.25"/>
<path d="M320 482H323.4M320 495H323.4M320 508H323.4M320.8 475.5H323.4M320.8 488.5H323.4M320.8 501.5H323.4M334.5 509.5V512.3M353.5 509.5V512.3M372.5 509.5V512.3M391.5 509.5V512.3M410.5 509.5V512.3M429.5 509.5V512.3M448.5 509.5V512.3M467.5 509.5V512.3M486.5 509.5V512.3" stroke="#231f20" stroke-width="1"/>
<text x="316.9" y="484.9" font-size="8" text-anchor="end">2</text>
<text x="316.9" y="497.9" font-size="8" text-anchor="end">1</text>
<text x="316.9" y="510.9" font-size="8" text-anchor="end">0</text>
<text x="334.5" y="523.4" font-size="8.2" text-anchor="middle">0</text>
<text x="353.5" y="523.4" font-size="8.2" text-anchor="middle">1</text>
<text x="372.5" y="523.4" font-size="8.2" text-anchor="middle">2</text>
<text x="391.5" y="523.4" font-size="8.2" text-anchor="middle">3</text>
<text x="410.5" y="523.4" font-size="8.2" text-anchor="middle">4</text>
<text x="429.5" y="523.4" font-size="8.2" text-anchor="middle">5</text>
<text x="448.5" y="523.4" font-size="8.2" text-anchor="middle">6</text>
<text x="467.5" y="523.4" font-size="8.2" text-anchor="middle">7</text>
<text x="486.5" y="523.4" font-size="8.2" text-anchor="middle">8</text>
<text x="380" y="473" font-size="10" textLength="64.5" lengthAdjust="spacingAndGlyphs">BCL2L1/BCLxL</text>
<text x="412.2" y="535.5" font-size="8.5" text-anchor="middle" textLength="25.5" lengthAdjust="spacingAndGlyphs">Identity</text>
<path d="M73.4 603.8 L79.2 602.7 L81.5 601.6 L85.4 600.7 L86.9 598.8 L89.2 598.1 L90.8 594.2 L92.3 589.6 L93.8 585.8 L96.2 584.2 L97.7 580.4 L99.2 574.2 L100.8 572.7 L102.3 573.5 L103.1 572.4 L104.6 575.8 L106.2 578.1 L106.9 583.5 L108.5 591.2 L110 597.3 L111.5 601.9 L114.6 603.5 L145.5 603.8Z" fill="#7a9cc6" stroke="none"/>
<path d="M73.4 603.8 L79.2 602.7 L81.5 601.6 L85.4 600.7 L86.9 598.8 L89.2 598.1 L90.8 594.2 L92.3 589.6 L93.8 585.8 L96.2 584.2 L97.7 580.4 L99.2 574.2 L100.8 572.7 L102.3 573.5 L103.1 572.4 L104.6 575.8 L106.2 578.1 L106.9 583.5 L108.5 591.2 L110 597.3 L111.5 601.9 L114.6 603.5 L145.5 603.8" fill="none" stroke="#2f5078" stroke-width="0.9" stroke-linejoin="round"/>
<path d="M73.4 630.2 L85.4 630.1 L90 628.8 L94.6 625 L97.7 620.4 L100.8 609.6 L102.3 597.3 L103.8 591.2 L106.2 587.3 L107.7 586.8 L109.2 591.2 L110.8 601.9 L112.3 614.2 L113.8 625 L116.2 629.6 L145.5 630.2Z" fill="rgba(214,48,80,0.55)" stroke="none"/>
<path d="M73.4 630.2 L85.4 630.1 L90 628.8 L94.6 625 L97.7 620.4 L100.8 609.6 L102.3 597.3 L103.8 591.2 L106.2 587.3 L107.7 586.8 L109.2 591.2 L110.8 601.9 L112.3 614.2 L113.8 625 L116.2 629.6 L145.5 630.2" fill="none" stroke="#c8304e" stroke-width="0.9" stroke-linejoin="round"/>
<path d="M73.4 656.9 L83.8 655.4 L85.4 653.5 L87.7 653.8 L90 652 L93.1 650 L95.4 644.6 L97.7 639.7 L100 636.9 L102.3 630.8 L103.1 625.4 L104.6 623.8 L106.9 623.1 L107.7 627.7 L109.2 632.3 L110.8 638.5 L112.3 646.2 L113.8 653.8 L116.2 656.6 L145.5 656.9Z" fill="rgba(214,48,80,0.55)" stroke="none"/>
<path d="M73.4 656.9 L83.8 655.4 L85.4 653.5 L87.7 653.8 L90 652 L93.1 650 L95.4 644.6 L97.7 639.7 L100 636.9 L102.3 630.8 L103.1 625.4 L104.6 623.8 L106.9 623.1 L107.7 627.7 L109.2 632.3 L110.8 638.5 L112.3 646.2 L113.8 653.8 L116.2 656.6 L145.5 656.9" fill="none" stroke="#c8304e" stroke-width="0.9" stroke-linejoin="round"/>
<path d="M73.4 682.5 L96.2 682.3 L100.8 680 L105.4 672.3 L110 664.6 L114.6 655.4 L118.5 646.2 L121.5 638.5 L123.8 636.2 L125.4 636.9 L126.9 641.5 L128.5 646.2 L129.2 658.5 L130.8 667.7 L132.3 676.9 L134.6 681.5 L145.5 682.5Z" fill="rgba(214,48,80,0.55)" stroke="none"/>
<path d="M73.4 682.5 L96.2 682.3 L100.8 680 L105.4 672.3 L110 664.6 L114.6 655.4 L118.5 646.2 L121.5 638.5 L123.8 636.2 L125.4 636.9 L126.9 641.5 L128.5 646.2 L129.2 658.5 L130.8 667.7 L132.3 676.9 L134.6 681.5 L145.5 682.5" fill="none" stroke="#c8304e" stroke-width="0.9" stroke-linejoin="round"/>
<path d="M100 551.5V682.5" stroke="#111" stroke-width="1.4" stroke-dasharray="1.3 1.5"/>
<rect x="73.3" y="550.4" width="72.3" height="132.4" fill="none" stroke="#231f20" stroke-width="1"/>
<path d="M75 682.8V681.5M76.8 682.8V681.5M78.2 682.8V681.5M79.4 682.8V681.5M80.3 682.8V681.5M81.2 682.8V681.5M81.9 682.8V681.5M82.6 682.8V680.2M87 682.8V681.5M89.5 682.8V681.5M91.4 682.8V681.5M92.8 682.8V681.5M93.9 682.8V681.5M94.9 682.8V681.5M95.7 682.8V681.5M96.5 682.8V681.5M97.1 682.8V680.2M101.5 682.8V681.5M104.1 682.8V681.5M105.9 682.8V681.5M107.3 682.8V681.5M108.5 682.8V681.5M109.4 682.8V681.5M110.3 682.8V681.5M111 682.8V681.5M111.7 682.8V680.2M116.1 682.8V681.5M118.6 682.8V681.5M120.5 682.8V681.5M121.9 682.8V681.5M123 682.8V681.5M124 682.8V681.5M124.8 682.8V681.5M125.6 682.8V681.5M126.2 682.8V680.2M130.6 682.8V681.5M133.2 682.8V681.5M135 682.8V681.5M136.4 682.8V681.5M137.6 682.8V681.5M138.5 682.8V681.5M139.4 682.8V681.5M140.1 682.8V681.5M140.8 682.8V680.2M145.2 682.8V681.5" stroke="#231f20" stroke-width="0.9"/>
<path d="M73.3 682.8H145.6" stroke="#231f20" stroke-width="1.5"/>
<text x="82.6" y="697.6" font-size="8.7" text-anchor="middle">10<tspan font-size="5.8" dy="-3.5">−1</tspan></text>
<text x="111.7" y="697.6" font-size="8.7" text-anchor="middle">10<tspan font-size="5.8" dy="-3.5">1</tspan></text>
<text x="140.8" y="697.6" font-size="8.7" text-anchor="middle">10<tspan font-size="5.8" dy="-3.5">3</tspan></text>
<text x="107" y="710.6" font-size="9.2" text-anchor="middle" textLength="20" lengthAdjust="spacingAndGlyphs">MCL-1</text>
<text x="43.2" y="599.6" font-size="9.5" textLength="23.6" lengthAdjust="spacingAndGlyphs">CLL16</text>
<text x="43.2" y="624.2" font-size="9.5" textLength="23.6" lengthAdjust="spacingAndGlyphs">CLL16</text>
<text x="43.2" y="648.6" font-size="9.5" textLength="23.6" lengthAdjust="spacingAndGlyphs">CLL12</text>
<text x="43.2" y="673.3" font-size="9.5" textLength="23.6" lengthAdjust="spacingAndGlyphs">CLL95</text>
<path d="M346 586.8V682.8H486.4" fill="none" stroke="#231f20" stroke-width="1.25"/>
<path d="M342.5 682.8H346M342.5 639.1H346M342.5 595.4H346M367.7 682.8V685.8M409.4 682.8V685.8M451.1 682.8V685.8" stroke="#231f20" stroke-width="1"/>
<text x="340.6" y="685.8" font-size="8.3" text-anchor="end">0</text>
<text x="340.6" y="642.1" font-size="8.3" text-anchor="end">50</text>
<text x="340.6" y="598.4" font-size="8.3" text-anchor="end">100</text>
<text x="368.7" y="697.6" font-size="8" text-anchor="middle">10<tspan font-size="5.5" dy="-3.3">−4</tspan></text>
<text x="410.4" y="697.6" font-size="8" text-anchor="middle">10<tspan font-size="5.5" dy="-3.3">−2</tspan></text>
<text x="452.1" y="697.6" font-size="8" text-anchor="middle">10<tspan font-size="5.5" dy="-3.3">0</tspan></text>
<text x="415.6" y="711" font-size="8.5" text-anchor="middle" textLength="41.5" lengthAdjust="spacingAndGlyphs">MCL1-i [μM]</text>
<text x="310" y="635" font-size="8.6" text-anchor="middle" transform="rotate(-90 310 635)" textLength="90" lengthAdjust="spacingAndGlyphs">Viability CD5<tspan font-size="5.5" dy="-3">+</tspan><tspan dy="3"> CD19</tspan><tspan font-size="5.5" dy="-3">+</tspan><tspan dy="3"> cells</tspan></text>
<text x="320.6" y="634.2" font-size="8.6" text-anchor="middle" textLength="37.6" lengthAdjust="spacingAndGlyphs" transform="rotate(-90 320.6 634.2)">% untreated</text>
<path d="M346 597.5 L346.8 597.6 L347.7 597.7 L348.5 597.8 L349.4 597.9 L350.2 598.1 L351 598.2 L351.9 598.3 L352.7 598.5 L353.5 598.6 L354.4 598.8 L355.2 599 L356 599.1 L356.9 599.3 L357.7 599.5 L358.5 599.7 L359.4 599.9 L360.2 600.1 L361 600.3 L361.9 600.5 L362.7 600.8 L363.5 601 L364.4 601.3 L365.2 601.5 L366 601.8 L366.9 602.1 L367.7 602.4 L368.5 602.7 L369.4 603 L370.2 603.4 L371 603.7 L371.9 604 L372.7 604.4 L373.5 604.8 L374.4 605.2 L375.2 605.6 L376 606 L376.9 606.5 L377.7 606.9 L378.5 607.4 L379.4 607.8 L380.2 608.3 L381 608.9 L381.9 609.4 L382.7 609.9 L383.5 610.5 L384.4 611 L385.2 611.6 L386 612.2 L386.9 612.9 L387.7 613.5 L388.6 614.2 L389.4 614.8 L390.2 615.5 L391.1 616.2 L391.9 617 L392.7 617.7 L393.6 618.5 L394.4 619.2 L395.2 620 L396.1 620.8 L396.9 621.6 L397.7 622.5 L398.6 623.3 L399.4 624.2 L400.2 625 L401.1 625.9 L401.9 626.8 L402.7 627.7 L403.6 628.6 L404.4 629.5 L405.2 630.5 L406.1 631.4 L406.9 632.4 L407.7 633.3 L408.6 634.3 L409.4 635.2 L410.2 636.2 L411.1 637.2 L411.9 638.2 L412.7 639.1 L413.6 640.1 L414.4 641.1 L415.2 642 L416.1 643 L416.9 644 L417.7 644.9 L418.6 645.9 L419.4 646.8 L420.2 647.8 L421.1 648.7 L421.9 649.6 L422.7 650.5 L423.6 651.4 L424.4 652.3 L425.2 653.2 L426.1 654 L426.9 654.9 L427.7 655.7 L428.6 656.6 L429.4 657.4 L430.3 658.2 L431.1 658.9 L431.9 659.7 L432.8 660.4 L433.6 661.2 L434.4 661.9 L435.3 662.6 L436.1 663.3 L436.9 663.9 L437.8 664.6 L438.6 665.2 L439.4 665.8 L440.3 666.4 L441.1 667 L441.9 667.6 L442.8 668.1 L443.6 668.7 L444.4 669.2 L445.3 669.7 L446.1 670.2 L446.9 670.6 L447.8 671.1 L448.6 671.5 L449.4 672 L450.3 672.4 L451.1 672.8 L451.9 673.2 L452.8 673.5 L453.6 673.9 L454.4 674.2 L455.3 674.6 L456.1 674.9 L456.9 675.2 L457.8 675.5 L458.6 675.8 L459.4 676.1 L460.3 676.4 L461.1 676.6 L461.9 676.9 L462.8 677.1 L463.6 677.3 L464.4 677.6 L465.3 677.8 L466.1 678" fill="none" stroke="#1b3d6d" stroke-width="1.6"/>
<path d="M346 595.2 L346.8 595.2 L347.7 595.2 L348.5 595.2 L349.4 595.2 L350.2 595.2 L351 595.2 L351.9 595.2 L352.7 595.2 L353.5 595.2 L354.4 595.2 L355.2 595.2 L356 595.2 L356.9 595.2 L357.7 595.2 L358.5 595.2 L359.4 595.2 L360.2 595.2 L361 595.2 L361.9 595.2 L362.7 595.2 L363.5 595.2 L364.4 595.2 L365.2 595.2 L366 595.2 L366.9 595.2 L367.7 595.2 L368.5 595.2 L369.4 595.2 L370.2 595.2 L371 595.2 L371.9 595.2 L372.7 595.2 L373.5 595.2 L374.4 595.2 L375.2 595.2 L376 595.2 L376.9 595.2 L377.7 595.2 L378.5 595.2 L379.4 595.2 L380.2 595.2 L381 595.2 L381.9 595.2 L382.7 595.2 L383.5 595.2 L384.4 595.2 L385.2 595.2 L386 595.2 L386.9 595.2 L387.7 595.2 L388.6 595.2 L389.4 595.2 L390.2 595.2 L391.1 595.2 L391.9 595.2 L392.7 595.2 L393.6 595.2 L394.4 595.2 L395.2 595.3 L396.1 595.3 L396.9 595.3 L397.7 595.3 L398.6 595.3 L399.4 595.3 L400.2 595.3 L401.1 595.3 L401.9 595.3 L402.7 595.3 L403.6 595.3 L404.4 595.3 L405.2 595.3 L406.1 595.4 L406.9 595.4 L407.7 595.4 L408.6 595.4 L409.4 595.4 L410.2 595.5 L411.1 595.5 L411.9 595.5 L412.7 595.6 L413.6 595.6 L414.4 595.7 L415.2 595.7 L416.1 595.8 L416.9 595.9 L417.7 596 L418.6 596.1 L419.4 596.2 L420.2 596.3 L421.1 596.4 L421.9 596.6 L422.7 596.8 L423.6 597 L424.4 597.2 L425.2 597.4 L426.1 597.7 L426.9 598.1 L427.7 598.4 L428.6 598.8 L429.4 599.3 L430.3 599.8 L431.1 600.4 L431.9 601 L432.8 601.7 L433.6 602.5 L434.4 603.4 L435.3 604.4 L436.1 605.5 L436.9 606.7 L437.8 608 L438.6 609.4 L439.4 611 L440.3 612.6 L441.1 614.5 L441.9 616.4 L442.8 618.5 L443.6 620.7 L444.4 623 L445.3 625.4 L446.1 627.9 L446.9 630.6 L447.8 633.2 L448.6 635.9 L449.4 638.7 L450.3 641.4 L451.1 644.1 L451.9 646.8 L452.8 649.4 L453.6 652 L454.4 654.4 L455.3 656.8 L456.1 659 L456.9 661.1 L457.8 663.1 L458.6 664.9 L459.4 666.7 L460.3 668.2 L461.1 669.7 L461.9 671 L462.8 672.3 L463.6 673.4 L464.4 674.4 L465.3 675.3 L466.1 676.1" fill="none" stroke="#2ea24a" stroke-width="1.6"/>
<path d="M346 595.2 L346.8 595.2 L347.7 595.2 L348.5 595.2 L349.4 595.2 L350.2 595.2 L351 595.2 L351.9 595.2 L352.7 595.2 L353.5 595.2 L354.4 595.2 L355.2 595.2 L356 595.2 L356.9 595.2 L357.7 595.2 L358.5 595.2 L359.4 595.2 L360.2 595.2 L361 595.2 L361.9 595.2 L362.7 595.2 L363.5 595.2 L364.4 595.2 L365.2 595.2 L366 595.2 L366.9 595.2 L367.7 595.2 L368.5 595.2 L369.4 595.2 L370.2 595.2 L371 595.2 L371.9 595.2 L372.7 595.2 L373.5 595.2 L374.4 595.2 L375.2 595.2 L376 595.2 L376.9 595.2 L377.7 595.2 L378.5 595.2 L379.4 595.2 L380.2 595.2 L381 595.2 L381.9 595.2 L382.7 595.3 L383.5 595.3 L384.4 595.3 L385.2 595.3 L386 595.3 L386.9 595.3 L387.7 595.3 L388.6 595.3 L389.4 595.3 L390.2 595.3 L391.1 595.3 L391.9 595.3 L392.7 595.3 L393.6 595.3 L394.4 595.3 L395.2 595.3 L396.1 595.3 L396.9 595.3 L397.7 595.3 L398.6 595.4 L399.4 595.4 L400.2 595.4 L401.1 595.4 L401.9 595.4 L402.7 595.4 L403.6 595.4 L404.4 595.5 L405.2 595.5 L406.1 595.5 L406.9 595.5 L407.7 595.6 L408.6 595.6 L409.4 595.6 L410.2 595.7 L411.1 595.7 L411.9 595.7 L412.7 595.8 L413.6 595.8 L414.4 595.9 L415.2 595.9 L416.1 596 L416.9 596.1 L417.7 596.1 L418.6 596.2 L419.4 596.3 L420.2 596.4 L421.1 596.5 L421.9 596.6 L422.7 596.7 L423.6 596.9 L424.4 597 L425.2 597.2 L426.1 597.3 L426.9 597.5 L427.7 597.7 L428.6 597.9 L429.4 598.2 L430.3 598.4 L431.1 598.7 L431.9 599 L432.8 599.3 L433.6 599.7 L434.4 600.1 L435.3 600.5 L436.1 600.9 L436.9 601.4 L437.8 601.9 L438.6 602.4 L439.4 603 L440.3 603.7 L441.1 604.3 L441.9 605 L442.8 605.8 L443.6 606.6 L444.4 607.5 L445.3 608.5 L446.1 609.4 L446.9 610.5 L447.8 611.6 L448.6 612.8 L449.4 614 L450.3 615.3 L451.1 616.7 L451.9 618.1 L452.8 619.6 L453.6 621.1 L454.4 622.7 L455.3 624.3 L456.1 626 L456.9 627.7 L457.8 629.5 L458.6 631.3 L459.4 633.1 L460.3 635 L461.1 636.9 L461.9 638.7 L462.8 640.6 L463.6 642.5 L464.4 644.3 L465.3 646.2 L466.1 648" fill="none" stroke="#f2b52a" stroke-width="1.6"/>
<path d="M389.2 614.6V622.3M387.7 614.6H390.7M387.7 622.3H390.7" stroke="#1b3d6d" stroke-width="0.9"/>
<rect x="387.9" y="617.2" width="2.6" height="2.6" fill="#1b3d6d"/>
<rect x="407.2" y="640.3" width="2.6" height="2.6" fill="#1b3d6d"/>
<path d="M427.9 656.2V664M426.4 656.2H429.4M426.4 664H429.4" stroke="#1b3d6d" stroke-width="0.9"/>
<rect x="426.6" y="658.9" width="2.6" height="2.6" fill="#1b3d6d"/>
<rect x="446" y="664.5" width="2.6" height="2.6" fill="#1b3d6d"/>
<rect x="465.4" y="668.3" width="2.6" height="2.6" fill="#1b3d6d"/>
<path d="M346.5 589V596M345 589H348M345 596H348" stroke="#f2b52a" stroke-width="0.9"/>
<rect x="345.2" y="591.7" width="2.6" height="2.6" fill="#f2b52a"/>
<path d="M369.6 593V597M368.1 593H371.1M368.1 597H371.1" stroke="#f2b52a" stroke-width="0.9"/>
<rect x="368.3" y="593.7" width="2.6" height="2.6" fill="#f2b52a"/>
<path d="M389.2 589.6V596.4M387.7 589.6H390.7M387.7 596.4H390.7" stroke="#f2b52a" stroke-width="0.9"/>
<rect x="387.9" y="592.2" width="2.6" height="2.6" fill="#f2b52a"/>
<rect x="426.6" y="595.7" width="2.6" height="2.6" fill="#f2b52a"/>
<path d="M447.3 610.5V615.5M445.8 610.5H448.8M445.8 615.5H448.8" stroke="#f2b52a" stroke-width="0.9"/>
<rect x="446" y="611.8" width="2.6" height="2.6" fill="#f2b52a"/>
<path d="M466.7 639.5V651M465.2 639.5H468.2M465.2 651H468.2" stroke="#f2b52a" stroke-width="0.9"/>
<rect x="465.4" y="644.1" width="2.6" height="2.6" fill="#f2b52a"/>
<rect x="368.3" y="594.7" width="2.6" height="2.6" fill="#2ea24a"/>
<path d="M408.8 594.5V598.2M407.3 594.5H410.3M407.3 598.2H410.3" stroke="#2ea24a" stroke-width="0.9"/>
<rect x="407.5" y="595.1" width="2.6" height="2.6" fill="#2ea24a"/>
<rect x="426.6" y="598.9" width="2.6" height="2.6" fill="#2ea24a"/>
<path d="M447.3 631V638M445.8 631H448.8M445.8 638H448.8" stroke="#2ea24a" stroke-width="0.9"/>
<rect x="446" y="633.3" width="2.6" height="2.6" fill="#2ea24a"/>
<rect x="465.4" y="673.2" width="2.6" height="2.6" fill="#2ea24a"/>
<path d="M486.2 596.9H495.7" stroke="#2ea24a" stroke-width="1.6"/>
<rect x="489.5" y="595.6" width="2.6" height="2.6" fill="#2ea24a"/>
<text x="498.8" y="599.9" font-size="8.2" textLength="22.5" lengthAdjust="spacingAndGlyphs">CLL12</text>
<path d="M486.2 611.5H495.7" stroke="#f2b52a" stroke-width="1.6"/>
<rect x="489.5" y="610.2" width="2.6" height="2.6" fill="#f2b52a"/>
<text x="498.8" y="614.5" font-size="8.2" textLength="22.5" lengthAdjust="spacingAndGlyphs">CLL16</text>
<path d="M486.2 624.6H495.7" stroke="#1b3d6d" stroke-width="1.6"/>
<rect x="489.5" y="623.3" width="2.6" height="2.6" fill="#1b3d6d"/>
<text x="498.8" y="627.6" font-size="8.2" textLength="22.5" lengthAdjust="spacingAndGlyphs">CLL95</text>
</svg>
</body></html>
